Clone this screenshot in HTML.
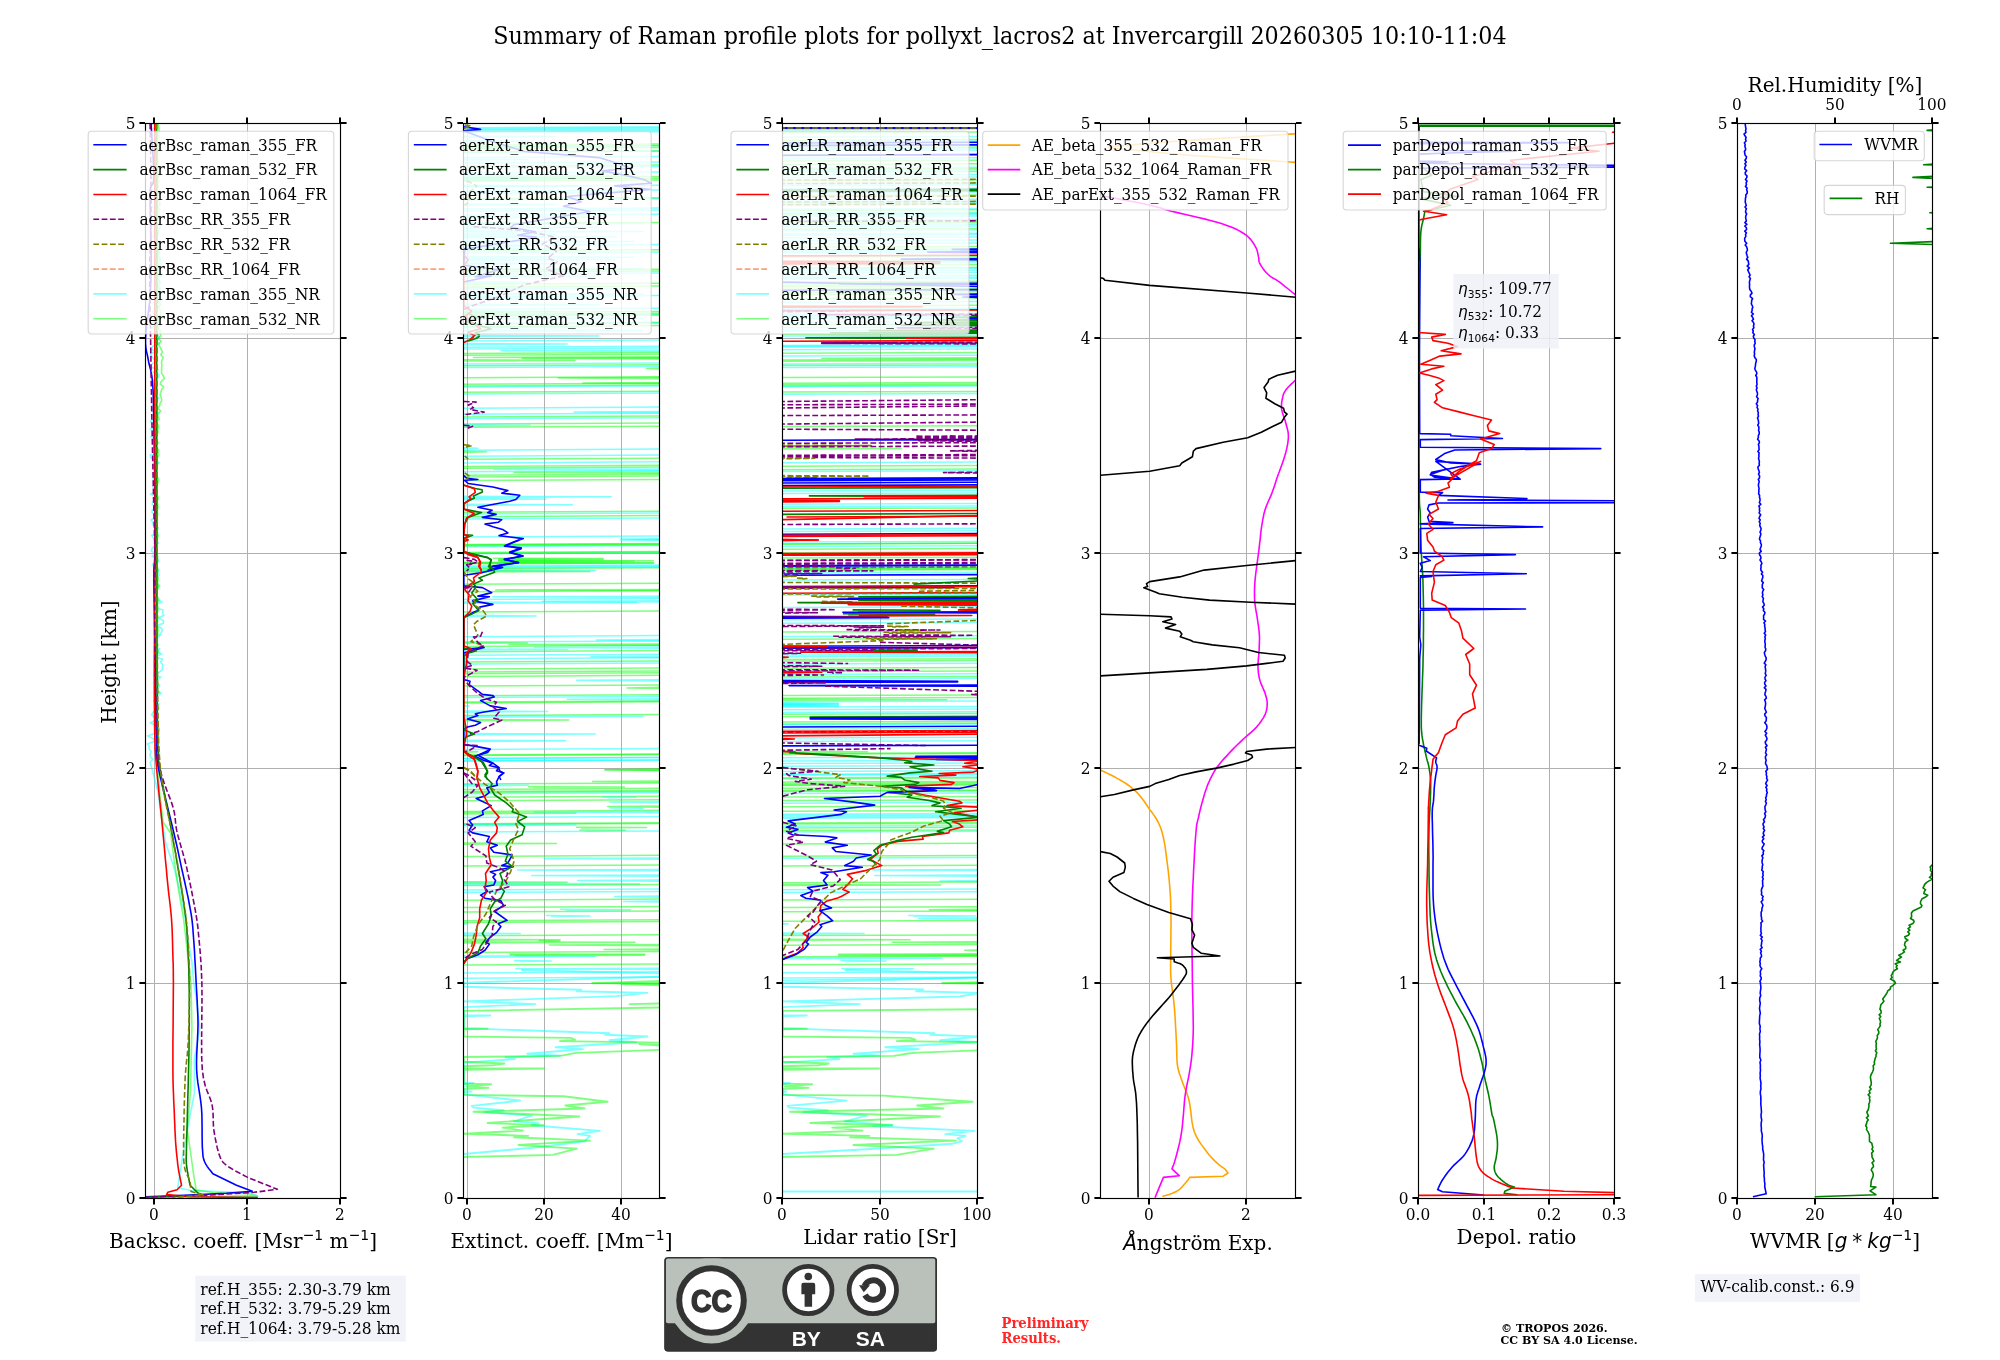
<!DOCTYPE html>
<html><head><meta charset="utf-8"><title>Raman profile summary</title><style>html,body{margin:0;padding:0;background:#fff}svg{display:block;will-change:transform}</style></head><body>
<svg width="2000" height="1360" viewBox="0 0 2000 1360" font-family="DejaVu Serif, Liberation Serif, serif" font-size="15.34px" fill="#000">
<rect width="2000" height="1360" fill="#fff"/>
<defs>
<clipPath id="c0"><rect x="145.5" y="123.5" width="195.0" height="1075.0"/></clipPath>
<clipPath id="c1"><rect x="463.5" y="123.5" width="196.0" height="1075.0"/></clipPath>
<clipPath id="c2"><rect x="782.5" y="123.5" width="195.0" height="1075.0"/></clipPath>
<clipPath id="c3"><rect x="1100.5" y="123.5" width="195.0" height="1075.0"/></clipPath>
<clipPath id="c4"><rect x="1418.5" y="123.5" width="196.0" height="1075.0"/></clipPath>
<clipPath id="c5"><rect x="1737.5" y="123.5" width="195.0" height="1075.0"/></clipPath>
</defs>
<path d="M154.5 123.5V1198.5 M247.5 123.5V1198.5 M145.5 983.5H340.5 M145.5 768.5H340.5 M145.5 553.5H340.5 M145.5 338.5H340.5" stroke="#b0b0b0" stroke-width="1" fill="none"/>
<g clip-path="url(#c0)">
<polyline points="152.4,123.5 155.1,126.1 153.5,128.7 155.6,131.3 155.7,133.9 150.5,136.5 149.9,139.1 157.5,141.7 152.1,144.3 151.8,147.0 158.8,149.6 153.9,152.2 157.2,154.8 153.8,157.4 155.3,160.0 150.7,162.6 155.1,165.2 157.2,167.8 154.0,170.4 156.0,173.0 155.3,175.6 149.6,178.2 155.9,180.8 154.3,183.4 151.6,186.0 149.0,188.7 156.7,191.3 153.0,193.9 155.2,196.5 156.7,199.1 155.1,201.7 157.0,204.3 152.0,206.9 155.7,209.5 152.6,212.2 157.4,214.9 157.0,217.6 150.0,220.2 150.5,222.9 151.5,225.6 158.6,228.3 153.9,231.0 155.8,233.7 153.0,236.4 155.1,239.1 154.2,241.8 154.1,244.4 156.4,247.1 156.6,249.8 159.8,252.5 157.9,255.2 160.4,257.9 159.9,260.6 161.4,263.2 158.6,265.9 154.1,268.6 160.7,271.3 161.9,274.0 161.2,276.7 158.0,279.4 159.2,282.1 154.4,284.8 160.1,287.4 157.6,290.1 154.8,292.8 152.6,295.5 159.8,298.2 161.0,300.9 152.5,303.6 159.0,306.2 155.2,308.9 152.7,311.6 153.9,314.3 158.2,317.0 159.1,319.7 151.2,322.4 156.4,325.1 151.0,327.8 157.2,330.4 153.4,333.1 158.4,335.8 159.2,338.5 154.8,341.1 159.4,343.7 153.0,346.3 150.9,348.9 155.7,351.5 150.4,354.0 152.0,356.6 153.9,359.2 155.8,361.8 151.6,364.4 150.5,367.0 158.2,369.6 153.1,372.2 159.0,374.8 158.5,377.4 153.7,379.9 154.4,382.5 155.0,385.1 156.1,387.7 155.7,390.3 155.3,392.9 155.9,395.5 158.9,398.1 154.9,400.7 154.1,403.3 156.8,405.8 152.3,408.4 152.9,411.0 159.2,413.6 155.0,416.2 155.2,418.8 150.2,421.4 154.0,424.0 155.5,426.6 150.3,429.2 155.9,431.8 156.0,434.3 150.7,436.9 156.0,439.5 154.5,442.1 156.5,444.7 153.4,447.3 156.7,449.9 157.0,452.5 150.3,455.1 150.7,457.7 156.4,460.2 159.1,462.8 152.5,465.4 154.4,468.0 155.6,470.6 153.1,473.2 153.5,475.8 153.0,478.4 153.6,481.0 155.7,483.6 152.9,486.2 153.6,488.7 157.3,491.3 150.4,493.9 155.4,496.5 157.0,499.1 153.0,501.7 152.2,504.3 157.6,506.9 152.4,509.5 151.9,512.1 154.2,514.6 156.6,517.2 151.1,519.8 153.1,522.4 153.2,525.0 157.9,527.6 154.2,530.2 158.1,532.8 151.7,535.4 153.3,538.0 156.2,540.5 158.4,543.1 154.3,545.7 152.2,548.3 151.3,550.9 155.1,553.5 152.1,556.2 158.0,558.9 158.5,561.6 152.6,564.2 153.7,566.9 158.8,569.6 157.5,572.3 159.2,575.0 155.1,577.7 153.3,580.4 155.0,583.1 159.8,585.8 155.2,588.4 156.1,591.1 156.9,593.8 157.1,596.5 157.2,599.2 162.2,601.9 155.3,604.6 154.1,607.2 163.0,609.9 162.6,612.6 163.8,615.3 158.8,618.0 163.6,620.6 163.3,623.2 156.7,625.7 161.6,628.3 162.4,630.9 160.7,633.5 159.3,636.1 157.2,638.6 157.6,641.2 156.5,643.8 155.0,646.4 159.8,649.0 157.0,651.5 161.8,654.1 154.6,656.7 162.6,659.3 160.6,661.9 162.7,664.4 162.4,667.0 162.4,669.6 159.4,672.2 154.1,674.8 160.9,677.3 155.5,679.9 156.6,682.5 159.7,685.2 158.0,687.9 156.7,690.6 161.2,693.2 157.8,695.9 154.9,698.6 153.8,701.3 159.1,704.0 155.2,706.7 157.6,709.4 153.3,712.1 151.5,714.8 154.3,717.4 156.6,720.1 150.2,722.8 155.6,725.5 156.6,728.1 155.4,730.7 155.3,733.3 147.6,735.9 153.1,738.6 155.1,741.2 147.4,743.8 149.2,746.4 149.0,749.0 151.2,751.6 150.0,754.2 150.3,756.8 152.9,759.4 150.1,762.0 157.6,790.0 162.2,822.2 165.9,843.8 173.4,865.2 178.9,886.8 185.4,919.0 188.2,940.5 191.9,962.0 193.8,983.5 196.6,1000.7 199.7,1028.7 194.4,1058.8 194.4,1093.2 187.3,1129.7 181.2,1165.2 177.7,1187.8 191.0,1190.5 250.4,1192.9 257.9,1196.3 145.5,1197.4" fill="none" stroke="#00ffff" stroke-width="1.6" stroke-linejoin="round" stroke-opacity="0.5"/>
<polyline points="158.0,123.5 158.5,126.1 158.7,128.7 159.3,131.4 158.6,134.0 159.3,136.6 156.0,139.2 157.6,141.9 159.4,144.5 158.3,147.1 159.3,149.7 156.4,152.3 157.7,155.0 156.9,157.6 158.1,160.2 158.2,162.8 156.1,165.5 156.9,168.1 157.2,170.7 159.5,173.3 159.0,175.9 156.8,178.6 159.2,181.2 156.8,183.8 158.6,186.4 156.8,189.0 156.3,191.7 159.6,194.3 157.1,196.9 157.2,199.5 160.0,202.2 159.7,204.8 157.5,207.4 160.0,210.0 158.5,212.6 159.0,215.3 157.3,217.9 160.0,220.5 159.1,223.1 160.2,225.8 159.9,228.4 157.8,231.0 158.0,233.6 157.3,236.2 157.3,238.9 157.0,241.5 157.9,244.1 159.0,246.7 156.8,249.4 159.3,252.0 158.1,254.6 158.0,257.2 159.9,259.8 158.7,262.5 158.1,265.1 158.7,267.7 159.6,270.3 157.2,273.0 160.6,275.6 157.1,278.2 159.9,280.8 160.2,283.4 157.2,286.1 160.1,288.7 158.5,291.3 159.3,293.9 157.2,296.5 157.4,299.2 157.9,301.8 160.8,304.4 158.0,307.0 160.1,309.7 160.8,312.3 160.9,314.9 158.7,317.5 158.7,320.1 159.4,322.8 160.3,325.4 157.9,328.0 160.3,330.6 160.5,333.3 160.7,335.9 157.7,338.5 161.4,341.2 158.5,343.9 159.8,346.6 161.1,349.2 162.5,351.9 160.7,354.6 163.2,357.3 162.1,360.0 161.5,362.7 161.8,365.4 161.6,368.1 161.6,370.8 161.6,373.4 163.4,376.1 164.3,378.8 161.0,381.5 160.3,384.2 163.6,386.9 161.6,389.6 160.9,392.2 160.1,394.9 161.2,397.6 161.8,400.3 160.2,403.0 159.7,405.7 157.9,408.4 160.7,411.1 157.0,413.7 158.3,416.4 159.2,419.1 156.1,421.8 158.0,424.5 158.8,427.1 157.6,429.7 158.1,432.2 155.6,434.8 156.8,437.4 155.7,440.0 158.3,442.6 156.3,445.1 156.8,447.7 158.9,450.3 158.3,452.9 158.8,455.5 156.8,458.0 156.9,460.6 157.8,463.2 156.9,465.8 156.2,468.4 156.6,470.9 155.6,473.5 156.5,476.1 158.7,478.7 158.6,481.3 157.4,483.8 156.9,486.4 156.3,489.0 155.3,491.6 156.0,494.2 157.9,496.7 158.2,499.3 156.3,501.9 157.9,504.5 157.8,507.1 157.5,509.6 157.4,512.2 157.7,514.8 156.3,517.4 157.5,520.0 155.9,522.5 156.7,525.1 157.7,527.7 157.4,530.3 156.0,532.9 158.4,535.4 157.3,538.0 157.0,540.6 154.9,543.2 156.8,545.8 155.7,548.3 157.3,550.9 156.5,553.5 157.8,556.1 157.2,558.7 157.8,561.4 156.2,564.0 157.3,566.6 157.7,569.2 158.0,571.9 156.3,574.5 158.1,577.1 158.2,579.7 157.6,582.3 158.7,585.0 158.6,587.6 157.0,590.2 157.1,592.8 155.8,595.5 158.3,598.1 158.7,600.7 157.0,603.3 157.8,605.9 157.9,608.6 158.0,611.2 155.9,613.8 158.2,616.4 157.5,619.0 157.8,621.7 157.0,624.3 157.7,626.9 158.3,629.5 157.8,632.2 158.2,634.8 155.6,637.4 156.1,640.0 157.2,642.6 158.0,645.3 156.4,647.9 158.2,650.5 158.0,653.1 155.8,655.8 157.4,658.4 156.6,661.0 155.9,663.6 156.2,666.2 156.9,668.8 156.4,671.5 156.4,674.1 155.8,676.7 157.4,679.3 157.1,681.9 158.0,684.5 157.9,687.1 156.6,689.8 159.1,692.4 155.7,695.0 157.2,697.6 156.7,700.2 157.2,702.8 156.1,705.5 158.8,708.1 157.1,710.7 155.8,713.3 158.0,715.9 156.1,718.5 157.7,721.1 157.0,723.8 157.9,726.4 159.3,729.0 158.8,731.6 157.3,734.2 158.7,736.8 158.1,739.4 157.1,742.1 156.2,744.7 157.9,747.3 157.8,749.9 159.3,752.5 159.3,755.1 157.6,757.8 159.4,790.0 163.1,822.2 170.6,833.0 173.4,854.5 178.0,886.8 183.6,919.0 187.3,951.2 191.0,983.5 191.9,1026.5 190.5,1091.0 187.3,1129.7 191.0,1155.5 193.5,1173.8 196.2,1189.9 212.1,1192.5 247.6,1193.8 256.9,1195.9 145.5,1197.6" fill="none" stroke="#00ff00" stroke-width="1.6" stroke-linejoin="round" stroke-opacity="0.5"/>
<polyline points="155.7,123.5 155.9,360.0" fill="none" stroke="#ffa07a" stroke-width="1.6" stroke-linejoin="round" stroke-dasharray="5.8,2.5"/>
<polyline points="151.1,123.5 151.4,129.8 152.0,138.9 152.7,149.4 153.3,160.2 153.7,169.9 153.9,177.2 153.6,181.5 152.9,183.5 152.1,184.4 151.3,185.4 150.6,187.6 150.1,192.3 150.1,199.9 150.2,209.7 150.4,220.7 150.7,232.0 151.0,242.9 151.1,252.5 151.1,260.7 151.0,268.1 151.0,275.1 150.8,281.8 150.5,288.5 150.1,295.5 149.5,302.9 148.6,310.6 147.6,318.3 146.6,325.8 145.9,332.6 145.5,338.5 145.5,343.3 145.8,347.3 146.3,350.6 147.0,353.6 147.7,356.7 148.3,360.0 148.9,363.3 149.7,366.4 150.5,369.4 151.2,372.7 151.9,376.7 152.5,381.5 152.9,387.2 153.2,393.4 153.4,400.3 153.5,407.8 153.7,415.8 153.9,424.5 154.0,434.0 154.2,444.4 154.4,455.4 154.6,466.7 154.7,478.0 154.8,489.0 154.9,500.2 154.9,512.1 154.9,523.9 154.9,535.2 154.9,545.2 154.8,553.5 154.7,559.1 154.5,562.3 154.3,564.2 154.1,566.2 153.9,569.4 153.9,575.0 153.9,583.3 154.0,593.3 154.2,604.6 154.4,616.4 154.6,628.3 154.8,639.5 154.9,650.5 155.1,661.8 155.3,673.1 155.4,684.1 155.6,694.5 155.7,704.0 155.9,712.7 156.0,720.7 156.1,728.2 156.3,735.1 156.4,741.3 156.6,747.0 156.7,751.4 156.7,754.2 156.7,756.5 156.9,759.1 157.4,762.8 158.5,768.5 160.3,776.8 162.7,787.3 165.6,798.8 168.4,810.5 171.1,821.5 173.4,830.9 175.1,838.2 176.5,844.3 177.7,849.7 178.8,854.9 179.9,860.2 181.2,866.3 182.8,873.4 184.5,881.0 186.2,888.9 187.9,896.7 189.3,904.0 190.5,910.4 191.4,915.7 192.0,919.9 192.4,923.7 192.8,927.5 193.1,931.9 193.5,937.3 194.0,943.9 194.5,951.4 194.9,959.5 195.4,967.8 195.8,975.9 196.2,983.5 196.6,990.6 197.0,997.4 197.3,1004.0 197.6,1010.6 197.9,1017.4 198.0,1024.3 197.8,1031.7 197.5,1039.3 197.1,1047.1 196.7,1054.8 196.5,1062.3 196.6,1069.5 197.1,1076.3 197.9,1082.9 198.9,1089.3 199.9,1095.5 200.8,1101.8 201.5,1108.2 201.9,1114.9 202.0,1122.0 202.1,1129.0 202.1,1135.8 202.2,1141.8 202.3,1146.9 202.6,1150.8 202.8,1153.8 203.0,1156.1 203.4,1158.0 203.9,1159.9 204.7,1162.0 205.8,1164.2 207.3,1166.6 208.9,1168.8 210.6,1170.8 211.9,1172.5 212.9,1173.8 236.5,1185.2 252.3,1191.2 226.3,1193.3 173.4,1195.9 145.5,1196.8" fill="none" stroke="#0000ff" stroke-width="1.6" stroke-linejoin="round"/>
<polyline points="156.6,123.5 156.6,146.9 156.6,179.2 156.6,217.6 156.6,258.9 156.6,300.2 156.6,338.5 156.7,375.3 156.7,413.4 156.7,451.4 156.8,488.2 156.8,522.6 156.8,553.5 156.9,580.7 156.9,605.3 156.9,627.4 157.0,647.5 157.0,665.7 157.1,682.5 157.2,697.5 157.3,710.4 157.5,721.5 157.6,731.1 157.8,739.5 158.0,747.0 158.2,752.6 158.2,755.8 158.3,757.9 158.5,759.9 159.0,763.1 159.9,768.5 161.3,776.8 163.2,787.3 165.4,798.8 167.7,810.5 169.8,821.5 171.5,830.9 172.8,838.2 173.9,844.3 174.9,849.7 175.8,854.9 176.7,860.2 177.7,866.3 178.9,873.4 180.2,881.0 181.5,888.9 182.7,896.7 183.9,904.0 184.8,910.4 185.5,915.7 186.0,919.9 186.4,923.7 186.7,927.5 187.0,931.9 187.3,937.3 187.7,943.7 188.0,950.8 188.4,958.4 188.7,966.5 188.9,974.9 189.1,983.5 189.3,992.6 189.3,1002.2 189.3,1012.1 189.3,1022.2 189.2,1032.0 189.1,1041.5 189.0,1050.6 188.8,1059.5 188.6,1068.2 188.4,1076.9 188.2,1085.5 187.9,1094.2 187.7,1103.4 187.4,1113.1 187.2,1122.7 186.9,1131.9 186.7,1140.1 186.5,1146.9 186.4,1151.9 186.3,1155.5 186.2,1158.1 186.2,1160.2 186.3,1162.4 186.5,1165.2 187.0,1168.6 187.6,1172.5 188.3,1176.3 189.0,1179.9 189.6,1183.0 190.1,1185.2 198.0,1193.1 203.1,1195.3 145.5,1197.2" fill="none" stroke="#008000" stroke-width="1.6" stroke-linejoin="round"/>
<polyline points="154.8,123.5 154.8,146.9 154.8,179.2 154.8,217.6 154.8,258.9 154.8,300.2 154.8,338.5 154.8,375.6 154.9,414.1 155.0,452.7 155.0,489.8 155.1,523.9 155.1,553.5 155.0,578.0 154.8,598.5 154.7,616.0 154.5,631.5 154.4,646.2 154.3,661.0 154.3,675.9 154.3,690.1 154.4,703.3 154.5,715.5 154.6,726.6 154.8,736.2 155.0,743.8 155.1,749.1 155.4,753.2 155.7,757.1 156.1,761.9 156.6,768.5 157.4,777.2 158.4,787.4 159.5,798.3 160.7,809.6 161.8,820.6 162.8,830.9 163.7,840.5 164.6,850.1 165.4,859.5 166.3,868.4 167.0,876.9 167.8,884.6 168.5,891.4 169.2,897.4 169.9,902.9 170.5,908.1 171.0,913.4 171.5,919.0 171.9,925.1 172.2,931.3 172.4,937.7 172.6,943.9 172.7,949.9 172.9,955.6 173.0,960.0 173.2,963.4 173.2,966.4 173.3,970.2 173.3,975.6 173.4,983.5 173.3,995.0 173.2,1009.5 173.1,1025.6 172.9,1041.9 172.9,1057.0 172.9,1069.5 173.0,1079.3 173.2,1087.3 173.5,1094.2 173.7,1100.4 174.0,1106.3 174.3,1112.5 174.5,1118.9 174.8,1125.0 175.0,1130.9 175.3,1136.5 175.6,1141.9 176.0,1146.9 176.4,1151.7 176.9,1156.5 177.4,1160.9 177.8,1164.8 178.3,1168.1 178.6,1170.5 181.5,1185.2 177.1,1189.7 167.8,1192.3 166.6,1194.6 191.0,1196.8 257.9,1197.6" fill="none" stroke="#ff0000" stroke-width="1.6" stroke-linejoin="round"/>
<polyline points="150.1,123.5 150.3,133.1 150.5,146.6 150.7,162.5 150.9,179.2 151.0,195.4 151.1,209.5 150.9,221.5 150.7,232.6 150.4,243.1 150.1,253.3 149.8,263.5 149.7,274.0 149.7,284.5 149.8,294.7 150.0,304.9 150.2,315.4 150.4,326.5 150.6,338.5 150.8,351.6 151.0,365.6 151.2,380.2 151.5,395.0 151.7,409.9 152.0,424.5 152.3,439.3 152.6,454.8 153.0,470.2 153.3,485.0 153.6,498.7 153.9,510.5 154.1,519.7 154.3,526.4 154.4,532.0 154.6,537.6 154.7,544.3 154.8,553.5 154.8,565.3 154.8,579.0 154.7,593.8 154.7,609.2 154.7,624.7 154.8,639.5 155.0,654.3 155.2,669.8 155.5,685.2 155.9,700.0 156.2,713.7 156.6,725.5 157.0,735.2 157.2,743.1 157.5,749.9 158.0,756.0 158.7,762.0 159.9,768.5 161.7,775.5 164.0,782.6 166.6,789.7 169.2,796.4 171.6,802.7 173.4,808.3 174.4,812.9 175.0,816.6 175.3,819.8 175.6,823.0 176.0,826.5 176.8,830.9 178.0,835.9 179.6,841.4 181.2,847.2 183.0,853.4 184.7,859.8 186.4,866.3 187.9,873.4 189.6,881.0 191.2,888.9 192.7,896.7 194.1,904.0 195.3,910.4 196.2,915.7 196.9,919.9 197.4,923.7 197.9,927.5 198.3,931.9 198.8,937.3 199.4,943.4 200.0,949.8 200.5,956.7 201.1,964.4 201.5,973.3 201.9,983.5 202.0,996.1 201.9,1011.1 201.7,1027.2 201.6,1043.1 201.7,1057.6 202.3,1069.5 203.5,1078.5 205.2,1085.5 207.1,1091.1 209.1,1095.8 210.8,1100.3 212.1,1105.0 212.8,1109.7 213.1,1114.0 213.2,1118.0 213.3,1121.9 213.4,1125.7 213.8,1129.7 214.5,1134.0 215.3,1138.5 216.2,1142.9 217.1,1147.2 218.1,1151.1 219.1,1154.4 220.1,1157.0 220.9,1159.0 221.7,1160.6 222.8,1162.0 224.3,1163.5 226.3,1165.2 229.3,1167.3 233.1,1169.6 237.4,1172.0 241.6,1174.2 245.2,1176.1 247.6,1177.4 277.4,1189.3 254.1,1192.3 208.6,1195.1 145.5,1197.2" fill="none" stroke="#800080" stroke-width="1.6" stroke-linejoin="round" stroke-dasharray="5.8,2.5"/>
<polyline points="156.6,123.5 156.7,146.9 156.8,179.2 156.9,217.6 157.0,258.9 157.1,300.2 157.1,338.5 157.1,375.3 157.1,413.4 157.1,451.4 157.1,488.2 157.1,522.6 157.1,553.5 157.1,580.5 157.1,604.5 157.2,626.1 157.2,645.9 157.4,664.5 157.6,682.5 157.8,699.6 158.0,715.2 158.3,729.7 158.7,743.2 159.4,756.0 160.4,768.5 161.8,780.6 163.6,792.0 165.7,802.8 167.8,812.9 169.8,822.3 171.5,830.9 172.8,838.2 174.0,844.3 175.0,849.7 176.0,854.9 176.9,860.2 178.0,866.3 179.2,873.4 180.4,881.0 181.7,888.9 182.9,896.7 184.0,904.0 185.0,910.4 185.7,915.7 186.2,919.9 186.7,923.7 187.0,927.5 187.4,931.9 187.8,937.3 188.2,943.7 188.6,950.8 188.9,958.4 189.3,966.5 189.5,974.9 189.6,983.5 189.6,992.8 189.4,1002.8 189.2,1013.2 188.9,1023.4 188.6,1033.0 188.2,1041.5 187.8,1048.6 187.3,1054.4 186.7,1059.6 186.2,1064.8 185.7,1070.4 185.2,1077.0 184.9,1085.0 184.6,1093.9 184.3,1103.4 184.1,1112.8 184.0,1121.7 183.8,1129.7 183.7,1136.8 183.6,1143.5 183.6,1149.7 183.6,1155.5 183.8,1160.6 184.2,1165.2 184.9,1169.1 186.0,1172.5 187.2,1175.2 188.4,1177.5 189.4,1179.4 190.1,1180.9 191.0,1191.4 203.1,1195.1 171.5,1197.6" fill="none" stroke="#808000" stroke-width="1.6" stroke-linejoin="round" stroke-dasharray="5.8,2.5"/>
</g>
<rect x="145.5" y="123.5" width="195.0" height="1075.0" fill="none" stroke="#000" stroke-width="1.15"/>
<text x="135.5" y="1203.9" transform="matrix(1 0 0 1.050 0 -60.20)" text-anchor="end">0</text>
<text x="135.5" y="988.9" transform="matrix(1 0 0 1.050 0 -49.45)" text-anchor="end">1</text>
<text x="135.5" y="773.9" transform="matrix(1 0 0 1.050 0 -38.70)" text-anchor="end">2</text>
<text x="135.5" y="558.9" transform="matrix(1 0 0 1.050 0 -27.95)" text-anchor="end">3</text>
<text x="135.5" y="343.9" transform="matrix(1 0 0 1.050 0 -17.20)" text-anchor="end">4</text>
<text x="135.5" y="128.9" transform="matrix(1 0 0 1.050 0 -6.45)" text-anchor="end">5</text>
<text x="154.0" y="1220" transform="matrix(1 0 0 1.050 0 -61.00)" text-anchor="middle">0</text>
<text x="247.0" y="1220" transform="matrix(1 0 0 1.050 0 -61.00)" text-anchor="middle">1</text>
<text x="340.0" y="1220" transform="matrix(1 0 0 1.050 0 -61.00)" text-anchor="middle">2</text>
<path d="M139.4 1198.0h5.6 M341.0 1198.0h5.6 M139.4 983.0h5.6 M341.0 983.0h5.6 M139.4 768.0h5.6 M341.0 768.0h5.6 M139.4 553.0h5.6 M341.0 553.0h5.6 M139.4 338.0h5.6 M341.0 338.0h5.6 M139.4 123.0h5.6 M341.0 123.0h5.6 M154.0 1199.0v5.6 M154.0 117.4v5.6 M247.0 1199.0v5.6 M247.0 117.4v5.6 M340.0 1199.0v5.6 M340.0 117.4v5.6" stroke="#000" stroke-width="2.0" fill="none"/>
<path d="M467.5 123.5V1198.5 M544.5 123.5V1198.5 M621.5 123.5V1198.5 M463.5 983.5H659.5 M463.5 768.5H659.5 M463.5 553.5H659.5 M463.5 338.5H659.5" stroke="#b0b0b0" stroke-width="1" fill="none"/>
<g clip-path="url(#c1)">
<polyline points="460.3,127.8 663.2,126.8" fill="none" stroke="#00ffff" stroke-width="1.5" stroke-linejoin="round" stroke-opacity="0.5"/>
<polyline points="460.3,128.9 663.2,127.8" fill="none" stroke="#00ffff" stroke-width="1.5" stroke-linejoin="round" stroke-opacity="0.5"/>
<polyline points="460.3,129.9 663.2,128.9" fill="none" stroke="#00ffff" stroke-width="1.5" stroke-linejoin="round" stroke-opacity="0.5"/>
<polyline points="460.3,131.4 663.2,130.3" fill="none" stroke="#00ffff" stroke-width="1.5" stroke-linejoin="round" stroke-opacity="0.5"/>
<polyline points="460.3,132.8 663.2,131.7" fill="none" stroke="#00ffff" stroke-width="1.5" stroke-linejoin="round" stroke-opacity="0.5"/>
<polyline points="460.3,135.9 554.7,136.5 460.3,137.2" fill="none" stroke="#00ffff" stroke-width="1.5" stroke-linejoin="round" stroke-opacity="0.5"/>
<polyline points="460.3,140.5 528.2,141.1 460.3,141.8" fill="none" stroke="#00ffff" stroke-width="1.5" stroke-linejoin="round" stroke-opacity="0.5"/>
<polyline points="460.3,146.9 663.2,145.8" fill="none" stroke="#00ffff" stroke-width="1.5" stroke-linejoin="round" stroke-opacity="0.5"/>
<polyline points="460.3,152.2 663.2,151.1" fill="none" stroke="#00ffff" stroke-width="1.5" stroke-linejoin="round" stroke-opacity="0.5"/>
<polyline points="460.3,157.5 663.2,156.4" fill="none" stroke="#00ffff" stroke-width="1.5" stroke-linejoin="round" stroke-opacity="0.5"/>
<polyline points="460.3,158.9 528.2,159.4 460.3,160.1" fill="none" stroke="#00ffff" stroke-width="1.5" stroke-linejoin="round" stroke-opacity="0.5"/>
<polyline points="460.3,163.1 663.2,162.1" fill="none" stroke="#00ffff" stroke-width="1.5" stroke-linejoin="round" stroke-opacity="0.5"/>
<polyline points="460.3,167.7 663.2,166.6" fill="none" stroke="#00ffff" stroke-width="1.5" stroke-linejoin="round" stroke-opacity="0.5"/>
<polyline points="460.3,173.0 663.2,171.9" fill="none" stroke="#00ffff" stroke-width="1.5" stroke-linejoin="round" stroke-opacity="0.5"/>
<polyline points="460.3,175.1 616.5,175.6 460.3,176.3" fill="none" stroke="#00ffff" stroke-width="1.5" stroke-linejoin="round" stroke-opacity="0.5"/>
<polyline points="460.3,177.6 598.8,178.1 460.3,178.8" fill="none" stroke="#00ffff" stroke-width="1.5" stroke-linejoin="round" stroke-opacity="0.5"/>
<polyline points="460.3,180.1 528.2,180.6 460.3,181.3" fill="none" stroke="#00ffff" stroke-width="1.5" stroke-linejoin="round" stroke-opacity="0.5"/>
<polyline points="460.3,185.3 581.2,185.9 460.3,186.6" fill="none" stroke="#00ffff" stroke-width="1.5" stroke-linejoin="round" stroke-opacity="0.5"/>
<polyline points="460.3,191.0 663.2,189.9" fill="none" stroke="#00ffff" stroke-width="1.5" stroke-linejoin="round" stroke-opacity="0.5"/>
<polyline points="460.3,192.4 616.5,192.9 460.3,193.6" fill="none" stroke="#00ffff" stroke-width="1.5" stroke-linejoin="round" stroke-opacity="0.5"/>
<polyline points="460.3,199.8 663.2,198.8" fill="none" stroke="#00ffff" stroke-width="1.5" stroke-linejoin="round" stroke-opacity="0.5"/>
<polyline points="460.3,204.1 554.7,204.6 460.3,205.3" fill="none" stroke="#00ffff" stroke-width="1.5" stroke-linejoin="round" stroke-opacity="0.5"/>
<polyline points="460.3,209.0 663.2,207.9" fill="none" stroke="#00ffff" stroke-width="1.5" stroke-linejoin="round" stroke-opacity="0.5"/>
<polyline points="460.3,215.3 663.2,214.3" fill="none" stroke="#00ffff" stroke-width="1.5" stroke-linejoin="round" stroke-opacity="0.5"/>
<polyline points="460.3,216.8 598.8,217.3 460.3,218.0" fill="none" stroke="#00ffff" stroke-width="1.5" stroke-linejoin="round" stroke-opacity="0.5"/>
<polyline points="460.3,223.1 642.9,223.6 460.3,224.3" fill="none" stroke="#00ffff" stroke-width="1.5" stroke-linejoin="round" stroke-opacity="0.5"/>
<polyline points="460.3,227.0 598.8,227.5 460.3,228.2" fill="none" stroke="#00ffff" stroke-width="1.5" stroke-linejoin="round" stroke-opacity="0.5"/>
<polyline points="460.3,230.9 642.9,231.4 460.3,232.1" fill="none" stroke="#00ffff" stroke-width="1.5" stroke-linejoin="round" stroke-opacity="0.5"/>
<polyline points="460.3,234.1 554.7,234.6 460.3,235.3" fill="none" stroke="#00ffff" stroke-width="1.5" stroke-linejoin="round" stroke-opacity="0.5"/>
<polyline points="460.3,236.5 616.5,237.1 460.3,237.8" fill="none" stroke="#00ffff" stroke-width="1.5" stroke-linejoin="round" stroke-opacity="0.5"/>
<polyline points="460.3,241.1 634.1,241.6 460.3,242.3" fill="none" stroke="#00ffff" stroke-width="1.5" stroke-linejoin="round" stroke-opacity="0.5"/>
<polyline points="460.3,245.7 528.2,246.2 460.3,246.9" fill="none" stroke="#00ffff" stroke-width="1.5" stroke-linejoin="round" stroke-opacity="0.5"/>
<polyline points="460.3,248.2 554.7,248.7 460.3,249.4" fill="none" stroke="#00ffff" stroke-width="1.5" stroke-linejoin="round" stroke-opacity="0.5"/>
<polyline points="460.3,253.1 663.2,252.1" fill="none" stroke="#00ffff" stroke-width="1.5" stroke-linejoin="round" stroke-opacity="0.5"/>
<polyline points="460.3,256.6 634.1,257.2 460.3,257.9" fill="none" stroke="#00ffff" stroke-width="1.5" stroke-linejoin="round" stroke-opacity="0.5"/>
<polyline points="460.3,259.1 616.5,259.6 460.3,260.3" fill="none" stroke="#00ffff" stroke-width="1.5" stroke-linejoin="round" stroke-opacity="0.5"/>
<polyline points="460.3,263.0 581.2,263.5 460.3,264.2" fill="none" stroke="#00ffff" stroke-width="1.5" stroke-linejoin="round" stroke-opacity="0.5"/>
<polyline points="460.3,268.3 642.9,268.8 460.3,269.5" fill="none" stroke="#00ffff" stroke-width="1.5" stroke-linejoin="round" stroke-opacity="0.5"/>
<polyline points="460.3,273.9 663.2,272.9" fill="none" stroke="#00ffff" stroke-width="1.5" stroke-linejoin="round" stroke-opacity="0.5"/>
<polyline points="460.3,275.3 598.8,275.9 460.3,276.6" fill="none" stroke="#00ffff" stroke-width="1.5" stroke-linejoin="round" stroke-opacity="0.5"/>
<polyline points="460.3,281.7 528.2,282.2 460.3,282.9" fill="none" stroke="#00ffff" stroke-width="1.5" stroke-linejoin="round" stroke-opacity="0.5"/>
<polyline points="460.3,288.0 634.1,288.6 460.3,289.3" fill="none" stroke="#00ffff" stroke-width="1.5" stroke-linejoin="round" stroke-opacity="0.5"/>
<polyline points="460.3,293.3 642.9,293.9 460.3,294.6" fill="none" stroke="#00ffff" stroke-width="1.5" stroke-linejoin="round" stroke-opacity="0.5"/>
<polyline points="460.3,297.9 598.8,298.5 460.3,299.2" fill="none" stroke="#00ffff" stroke-width="1.5" stroke-linejoin="round" stroke-opacity="0.5"/>
<polyline points="460.3,304.3 598.8,304.8 460.3,305.5" fill="none" stroke="#00ffff" stroke-width="1.5" stroke-linejoin="round" stroke-opacity="0.5"/>
<polyline points="460.3,309.2 663.2,308.2" fill="none" stroke="#00ffff" stroke-width="1.5" stroke-linejoin="round" stroke-opacity="0.5"/>
<polyline points="460.3,310.6 554.7,311.2 460.3,311.9" fill="none" stroke="#00ffff" stroke-width="1.5" stroke-linejoin="round" stroke-opacity="0.5"/>
<polyline points="460.3,315.6 663.2,314.5" fill="none" stroke="#00ffff" stroke-width="1.5" stroke-linejoin="round" stroke-opacity="0.5"/>
<polyline points="460.3,317.7 642.9,318.2 460.3,318.9" fill="none" stroke="#00ffff" stroke-width="1.5" stroke-linejoin="round" stroke-opacity="0.5"/>
<polyline points="460.3,323.3 663.2,322.3" fill="none" stroke="#00ffff" stroke-width="1.5" stroke-linejoin="round" stroke-opacity="0.5"/>
<polyline points="460.3,326.9 581.2,327.4 460.3,328.1" fill="none" stroke="#00ffff" stroke-width="1.5" stroke-linejoin="round" stroke-opacity="0.5"/>
<polyline points="460.3,330.0 642.9,330.6 460.3,331.3" fill="none" stroke="#00ffff" stroke-width="1.5" stroke-linejoin="round" stroke-opacity="0.5"/>
<polyline points="460.3,335.3 598.8,335.9 460.3,336.6" fill="none" stroke="#00ffff" stroke-width="1.5" stroke-linejoin="round" stroke-opacity="0.5"/>
<polyline points="460.3,144.9 663.2,143.9" fill="none" stroke="#00ff00" stroke-width="1.5" stroke-linejoin="round" stroke-opacity="0.5"/>
<polyline points="460.3,146.7 663.2,145.6" fill="none" stroke="#00ff00" stroke-width="1.5" stroke-linejoin="round" stroke-opacity="0.5"/>
<polyline points="460.3,148.5 663.2,147.4" fill="none" stroke="#00ff00" stroke-width="1.5" stroke-linejoin="round" stroke-opacity="0.5"/>
<polyline points="460.3,152.0 663.2,150.9" fill="none" stroke="#00ff00" stroke-width="1.5" stroke-linejoin="round" stroke-opacity="0.5"/>
<polyline points="460.3,166.1 663.2,165.1" fill="none" stroke="#00ff00" stroke-width="1.5" stroke-linejoin="round" stroke-opacity="0.5"/>
<polyline points="460.3,177.6 663.2,176.5" fill="none" stroke="#00ff00" stroke-width="1.5" stroke-linejoin="round" stroke-opacity="0.5"/>
<polyline points="460.3,179.3 663.2,178.3" fill="none" stroke="#00ff00" stroke-width="1.5" stroke-linejoin="round" stroke-opacity="0.5"/>
<polyline points="460.3,181.1 663.2,180.1" fill="none" stroke="#00ff00" stroke-width="1.5" stroke-linejoin="round" stroke-opacity="0.5"/>
<polyline points="460.3,198.8 663.2,197.7" fill="none" stroke="#00ff00" stroke-width="1.5" stroke-linejoin="round" stroke-opacity="0.5"/>
<polyline points="460.3,223.5 663.2,222.4" fill="none" stroke="#00ff00" stroke-width="1.5" stroke-linejoin="round" stroke-opacity="0.5"/>
<polyline points="460.3,250.8 663.2,249.8" fill="none" stroke="#00ff00" stroke-width="1.5" stroke-linejoin="round" stroke-opacity="0.5"/>
<polyline points="460.3,270.2 663.2,269.2" fill="none" stroke="#00ff00" stroke-width="1.5" stroke-linejoin="round" stroke-opacity="0.5"/>
<polyline points="460.3,272.0 663.2,270.9" fill="none" stroke="#00ff00" stroke-width="1.5" stroke-linejoin="round" stroke-opacity="0.5"/>
<polyline points="460.3,284.3 663.2,283.3" fill="none" stroke="#00ff00" stroke-width="1.5" stroke-linejoin="round" stroke-opacity="0.5"/>
<polyline points="460.3,287.0 663.2,285.9" fill="none" stroke="#00ff00" stroke-width="1.5" stroke-linejoin="round" stroke-opacity="0.5"/>
<polyline points="460.3,312.6 663.2,311.5" fill="none" stroke="#00ff00" stroke-width="1.5" stroke-linejoin="round" stroke-opacity="0.5"/>
<polyline points="460.3,314.3 663.2,313.3" fill="none" stroke="#00ff00" stroke-width="1.5" stroke-linejoin="round" stroke-opacity="0.5"/>
<polyline points="460.3,316.1 663.2,315.0" fill="none" stroke="#00ff00" stroke-width="1.5" stroke-linejoin="round" stroke-opacity="0.5"/>
<polyline points="460.3,324.0 663.2,323.0" fill="none" stroke="#00ff00" stroke-width="1.5" stroke-linejoin="round" stroke-opacity="0.5"/>
<polyline points="460.3,326.7 663.2,325.6" fill="none" stroke="#00ff00" stroke-width="1.5" stroke-linejoin="round" stroke-opacity="0.5"/>
<polyline points="460.3,186.4 663.2,185.3" fill="none" stroke="#00ffff" stroke-width="1.5" stroke-linejoin="round" stroke-opacity="0.5"/>
<polyline points="460.3,211.1 663.2,210.1" fill="none" stroke="#00ffff" stroke-width="1.5" stroke-linejoin="round" stroke-opacity="0.5"/>
<polyline points="460.3,245.5 663.2,244.5" fill="none" stroke="#00ffff" stroke-width="1.5" stroke-linejoin="round" stroke-opacity="0.5"/>
<polyline points="460.3,296.7 663.2,295.6" fill="none" stroke="#00ffff" stroke-width="1.5" stroke-linejoin="round" stroke-opacity="0.5"/>
<polyline points="460.3,341.1 663.2,340.1" fill="none" stroke="#00ffff" stroke-width="1.5" stroke-linejoin="round" stroke-opacity="0.5"/>
<polyline points="460.3,343.6 567.1,344.1 460.3,344.8" fill="none" stroke="#00ffff" stroke-width="1.5" stroke-linejoin="round" stroke-opacity="0.5"/>
<polyline points="460.3,347.3 663.2,346.2" fill="none" stroke="#00ffff" stroke-width="1.5" stroke-linejoin="round" stroke-opacity="0.5"/>
<polyline points="460.3,349.1 663.2,348.0" fill="none" stroke="#00ffff" stroke-width="1.5" stroke-linejoin="round" stroke-opacity="0.5"/>
<polyline points="663.2,350.3 500.9,350.8 663.2,351.5" fill="none" stroke="#00ffff" stroke-width="1.5" stroke-linejoin="round" stroke-opacity="0.5"/>
<polyline points="460.3,353.5 663.2,352.4" fill="none" stroke="#00ff00" stroke-width="1.5" stroke-linejoin="round" stroke-opacity="0.5"/>
<polyline points="460.3,355.2 663.2,354.2" fill="none" stroke="#00ff00" stroke-width="1.5" stroke-linejoin="round" stroke-opacity="0.5"/>
<polyline points="663.2,356.8 473.5,357.4 663.2,358.1" fill="none" stroke="#00ff00" stroke-width="1.5" stroke-linejoin="round" stroke-opacity="0.5"/>
<polyline points="663.2,357.7 522.1,358.2 663.2,358.9" fill="none" stroke="#00ff00" stroke-width="1.5" stroke-linejoin="round" stroke-opacity="0.5"/>
<polyline points="460.3,359.8 575.0,360.4 460.3,361.1" fill="none" stroke="#00ff00" stroke-width="1.5" stroke-linejoin="round" stroke-opacity="0.5"/>
<polyline points="460.3,364.1 663.2,363.0" fill="none" stroke="#00ffff" stroke-width="1.5" stroke-linejoin="round" stroke-opacity="0.5"/>
<polyline points="460.3,365.8 663.2,364.8" fill="none" stroke="#00ff00" stroke-width="1.5" stroke-linejoin="round" stroke-opacity="0.5"/>
<polyline points="460.3,367.6 663.2,366.5" fill="none" stroke="#00ffff" stroke-width="1.5" stroke-linejoin="round" stroke-opacity="0.5"/>
<polyline points="663.2,367.9 646.5,368.5 663.2,369.2" fill="none" stroke="#00ff00" stroke-width="1.5" stroke-linejoin="round" stroke-opacity="0.5"/>
<polyline points="460.3,377.8 663.2,376.8" fill="none" stroke="#00ff00" stroke-width="1.5" stroke-linejoin="round" stroke-opacity="0.5"/>
<polyline points="663.2,377.5 558.2,378.0 663.2,378.7" fill="none" stroke="#00ff00" stroke-width="1.5" stroke-linejoin="round" stroke-opacity="0.5"/>
<polyline points="663.2,382.4 582.9,382.9 663.2,383.6" fill="none" stroke="#00ff00" stroke-width="1.5" stroke-linejoin="round" stroke-opacity="0.5"/>
<polyline points="460.3,384.3 663.2,383.3" fill="none" stroke="#00ff00" stroke-width="1.5" stroke-linejoin="round" stroke-opacity="0.5"/>
<polyline points="460.3,386.1 663.2,385.1" fill="none" stroke="#00ff00" stroke-width="1.5" stroke-linejoin="round" stroke-opacity="0.5"/>
<polyline points="460.3,387.0 663.2,385.9" fill="none" stroke="#00ffff" stroke-width="1.5" stroke-linejoin="round" stroke-opacity="0.5"/>
<polyline points="460.3,392.3 663.2,391.2" fill="none" stroke="#00ff00" stroke-width="1.5" stroke-linejoin="round" stroke-opacity="0.5"/>
<polyline points="460.3,394.1 663.2,393.0" fill="none" stroke="#00ffff" stroke-width="1.5" stroke-linejoin="round" stroke-opacity="0.5"/>
<polyline points="460.3,408.2 663.2,407.1" fill="none" stroke="#00ffff" stroke-width="1.5" stroke-linejoin="round" stroke-opacity="0.5"/>
<polyline points="663.2,411.5 574.1,412.1 663.2,412.8" fill="none" stroke="#00ffff" stroke-width="1.5" stroke-linejoin="round" stroke-opacity="0.5"/>
<polyline points="460.3,414.3 663.2,413.3" fill="none" stroke="#00ffff" stroke-width="1.5" stroke-linejoin="round" stroke-opacity="0.5"/>
<polyline points="460.3,417.0 663.2,415.9" fill="none" stroke="#00ff00" stroke-width="1.5" stroke-linejoin="round" stroke-opacity="0.5"/>
<polyline points="460.3,418.8 663.2,417.7" fill="none" stroke="#00ffff" stroke-width="1.5" stroke-linejoin="round" stroke-opacity="0.5"/>
<polyline points="460.3,424.1 663.2,423.0" fill="none" stroke="#00ff00" stroke-width="1.5" stroke-linejoin="round" stroke-opacity="0.5"/>
<polyline points="460.3,424.8 530.0,425.3 460.3,426.0" fill="none" stroke="#00ffff" stroke-width="1.5" stroke-linejoin="round" stroke-opacity="0.5"/>
<polyline points="460.3,427.2 663.2,426.2" fill="none" stroke="#00ff00" stroke-width="1.5" stroke-linejoin="round" stroke-opacity="0.5"/>
<polyline points="460.3,447.7 477.9,448.2 460.3,448.9" fill="none" stroke="#00ffff" stroke-width="1.5" stroke-linejoin="round" stroke-opacity="0.5"/>
<polyline points="460.3,450.2 663.2,449.1" fill="none" stroke="#00ffff" stroke-width="1.5" stroke-linejoin="round" stroke-opacity="0.5"/>
<polyline points="460.3,451.2 486.8,451.8 460.3,452.5" fill="none" stroke="#00ff00" stroke-width="1.5" stroke-linejoin="round" stroke-opacity="0.5"/>
<polyline points="460.3,456.2 663.2,455.1" fill="none" stroke="#00ffff" stroke-width="1.5" stroke-linejoin="round" stroke-opacity="0.5"/>
<polyline points="460.3,459.3 663.2,458.3" fill="none" stroke="#00ff00" stroke-width="1.5" stroke-linejoin="round" stroke-opacity="0.5"/>
<polyline points="460.3,462.9 663.2,461.8" fill="none" stroke="#00ffff" stroke-width="1.5" stroke-linejoin="round" stroke-opacity="0.5"/>
<polyline points="460.3,466.4 663.2,465.3" fill="none" stroke="#00ff00" stroke-width="1.5" stroke-linejoin="round" stroke-opacity="0.5"/>
<polyline points="460.3,468.2 663.2,467.1" fill="none" stroke="#00ff00" stroke-width="1.5" stroke-linejoin="round" stroke-opacity="0.5"/>
<polyline points="663.2,468.9 493.8,469.4 663.2,470.1" fill="none" stroke="#00ffff" stroke-width="1.5" stroke-linejoin="round" stroke-opacity="0.5"/>
<polyline points="460.3,471.7 663.2,470.6" fill="none" stroke="#00ffff" stroke-width="1.5" stroke-linejoin="round" stroke-opacity="0.5"/>
<polyline points="663.2,472.1 514.1,472.6 663.2,473.3" fill="none" stroke="#00ff00" stroke-width="1.5" stroke-linejoin="round" stroke-opacity="0.5"/>
<polyline points="460.3,475.2 663.2,474.2" fill="none" stroke="#00ff00" stroke-width="1.5" stroke-linejoin="round" stroke-opacity="0.5"/>
<polyline points="460.3,477.0 663.2,475.9" fill="none" stroke="#00ff00" stroke-width="1.5" stroke-linejoin="round" stroke-opacity="0.5"/>
<polyline points="460.3,480.5 663.2,479.5" fill="none" stroke="#00ff00" stroke-width="1.5" stroke-linejoin="round" stroke-opacity="0.5"/>
<polyline points="460.3,496.2 611.2,496.8 460.3,497.5" fill="none" stroke="#00ffff" stroke-width="1.5" stroke-linejoin="round" stroke-opacity="0.5"/>
<polyline points="460.3,498.5 545.9,499.0 460.3,499.8" fill="none" stroke="#00ffff" stroke-width="1.5" stroke-linejoin="round" stroke-opacity="0.5"/>
<polyline points="460.3,504.2 572.3,504.7 460.3,505.4" fill="none" stroke="#00ffff" stroke-width="1.5" stroke-linejoin="round" stroke-opacity="0.5"/>
<polyline points="460.3,512.3 663.2,511.2" fill="none" stroke="#00ff00" stroke-width="1.5" stroke-linejoin="round" stroke-opacity="0.5"/>
<polyline points="460.3,514.0 663.2,513.0" fill="none" stroke="#00ffff" stroke-width="1.5" stroke-linejoin="round" stroke-opacity="0.5"/>
<polyline points="460.3,516.7 663.2,515.6" fill="none" stroke="#00ff00" stroke-width="1.5" stroke-linejoin="round" stroke-opacity="0.5"/>
<polyline points="460.3,519.0 663.2,517.9" fill="none" stroke="#00ffff" stroke-width="1.5" stroke-linejoin="round" stroke-opacity="0.5"/>
<polyline points="460.3,537.0 663.2,535.9" fill="none" stroke="#00ffff" stroke-width="1.5" stroke-linejoin="round" stroke-opacity="0.5"/>
<polyline points="663.2,538.6 620.9,539.1 663.2,539.8" fill="none" stroke="#00ffff" stroke-width="1.5" stroke-linejoin="round" stroke-opacity="0.5"/>
<polyline points="460.3,544.9 663.2,543.9" fill="none" stroke="#00ff00" stroke-width="1.5" stroke-linejoin="round" stroke-opacity="0.5"/>
<polyline points="460.3,546.7 663.2,545.6" fill="none" stroke="#00ffff" stroke-width="1.5" stroke-linejoin="round" stroke-opacity="0.5"/>
<polyline points="460.3,552.5 663.2,551.5" fill="none" stroke="#00ff00" stroke-width="1.5" stroke-linejoin="round" stroke-opacity="0.5"/>
<polyline points="460.3,553.8 663.2,552.7" fill="none" stroke="#00ffff" stroke-width="1.5" stroke-linejoin="round" stroke-opacity="0.5"/>
<polyline points="498.2,559.0 603.2,559.4 503.5,559.9" fill="none" stroke="#00ff00" stroke-width="1.5" stroke-linejoin="round" stroke-opacity="0.5"/>
<polyline points="498.2,560.8 634.1,561.2 503.5,561.7" fill="none" stroke="#00ff00" stroke-width="1.5" stroke-linejoin="round" stroke-opacity="0.5"/>
<polyline points="460.3,562.4 653.5,562.9 460.3,563.6" fill="none" stroke="#00ff00" stroke-width="1.5" stroke-linejoin="round" stroke-opacity="0.5"/>
<polyline points="460.3,566.1 663.2,565.0" fill="none" stroke="#00ffff" stroke-width="1.5" stroke-linejoin="round" stroke-opacity="0.5"/>
<polyline points="460.3,567.9 663.2,566.8" fill="none" stroke="#00ffff" stroke-width="1.5" stroke-linejoin="round" stroke-opacity="0.5"/>
<polyline points="663.2,539.5 620.9,540.0 663.2,540.7" fill="none" stroke="#00ffff" stroke-width="1.5" stroke-linejoin="round" stroke-opacity="0.5"/>
<polyline points="460.3,544.4 663.2,543.4" fill="none" stroke="#00ff00" stroke-width="1.5" stroke-linejoin="round" stroke-opacity="0.5"/>
<polyline points="460.3,545.8 663.2,544.8" fill="none" stroke="#00ff00" stroke-width="1.5" stroke-linejoin="round" stroke-opacity="0.5"/>
<polyline points="460.3,553.2 663.2,552.2" fill="none" stroke="#00ff00" stroke-width="1.5" stroke-linejoin="round" stroke-opacity="0.5"/>
<polyline points="492.9,558.2 603.2,558.5 498.2,559.1" fill="none" stroke="#00ff00" stroke-width="1.5" stroke-linejoin="round" stroke-opacity="0.5"/>
<polyline points="498.2,560.5 653.5,560.8 503.5,561.4" fill="none" stroke="#00ff00" stroke-width="1.5" stroke-linejoin="round" stroke-opacity="0.5"/>
<polyline points="460.3,562.4 653.5,562.9 460.3,563.6" fill="none" stroke="#00ff00" stroke-width="1.5" stroke-linejoin="round" stroke-opacity="0.5"/>
<polyline points="460.3,567.0 663.2,565.9" fill="none" stroke="#00ffff" stroke-width="1.5" stroke-linejoin="round" stroke-opacity="0.5"/>
<polyline points="460.3,568.8 663.2,567.7" fill="none" stroke="#00ff00" stroke-width="1.5" stroke-linejoin="round" stroke-opacity="0.5"/>
<polyline points="460.3,569.8 595.3,570.4 460.3,571.1" fill="none" stroke="#00ffff" stroke-width="1.5" stroke-linejoin="round" stroke-opacity="0.5"/>
<polyline points="460.3,570.9 590.0,571.4 460.3,572.1" fill="none" stroke="#00ff00" stroke-width="1.5" stroke-linejoin="round" stroke-opacity="0.5"/>
<polyline points="460.3,584.3 663.2,583.2" fill="none" stroke="#00ff00" stroke-width="1.5" stroke-linejoin="round" stroke-opacity="0.5"/>
<polyline points="663.2,589.4 495.6,589.9 663.2,590.6" fill="none" stroke="#00ff00" stroke-width="1.5" stroke-linejoin="round" stroke-opacity="0.5"/>
<polyline points="460.3,591.7 663.2,590.6" fill="none" stroke="#00ff00" stroke-width="1.5" stroke-linejoin="round" stroke-opacity="0.5"/>
<polyline points="663.2,596.3 492.9,596.8 663.2,597.5" fill="none" stroke="#00ffff" stroke-width="1.5" stroke-linejoin="round" stroke-opacity="0.5"/>
<polyline points="460.3,599.6 663.2,598.6" fill="none" stroke="#00ffff" stroke-width="1.5" stroke-linejoin="round" stroke-opacity="0.5"/>
<polyline points="663.2,600.7 542.3,601.2 663.2,601.9" fill="none" stroke="#00ffff" stroke-width="1.5" stroke-linejoin="round" stroke-opacity="0.5"/>
<polyline points="460.3,602.1 636.8,602.6 460.3,603.3" fill="none" stroke="#00ffff" stroke-width="1.5" stroke-linejoin="round" stroke-opacity="0.5"/>
<polyline points="460.3,612.0 663.2,610.9" fill="none" stroke="#00ff00" stroke-width="1.5" stroke-linejoin="round" stroke-opacity="0.5"/>
<polyline points="460.3,615.3 536.2,615.9 460.3,616.6" fill="none" stroke="#00ffff" stroke-width="1.5" stroke-linejoin="round" stroke-opacity="0.5"/>
<polyline points="460.3,636.7 663.2,635.6" fill="none" stroke="#00ffff" stroke-width="1.5" stroke-linejoin="round" stroke-opacity="0.5"/>
<polyline points="663.2,639.5 596.2,640.1 663.2,640.8" fill="none" stroke="#00ffff" stroke-width="1.5" stroke-linejoin="round" stroke-opacity="0.5"/>
<polyline points="460.3,642.0 663.2,640.9" fill="none" stroke="#00ffff" stroke-width="1.5" stroke-linejoin="round" stroke-opacity="0.5"/>
<polyline points="460.3,642.3 527.3,642.9 460.3,643.6" fill="none" stroke="#00ff00" stroke-width="1.5" stroke-linejoin="round" stroke-opacity="0.5"/>
<polyline points="663.2,643.9 508.8,644.5 663.2,645.2" fill="none" stroke="#00ff00" stroke-width="1.5" stroke-linejoin="round" stroke-opacity="0.5"/>
<polyline points="460.3,646.4 663.2,645.3" fill="none" stroke="#00ff00" stroke-width="1.5" stroke-linejoin="round" stroke-opacity="0.5"/>
<polyline points="663.2,647.1 534.4,647.6 663.2,648.3" fill="none" stroke="#00ffff" stroke-width="1.5" stroke-linejoin="round" stroke-opacity="0.5"/>
<polyline points="460.3,648.9 567.9,649.4 460.3,650.1" fill="none" stroke="#00ffff" stroke-width="1.5" stroke-linejoin="round" stroke-opacity="0.5"/>
<polyline points="460.3,651.7 663.2,650.6" fill="none" stroke="#00ff00" stroke-width="1.5" stroke-linejoin="round" stroke-opacity="0.5"/>
<polyline points="460.3,655.2 663.2,654.2" fill="none" stroke="#00ffff" stroke-width="1.5" stroke-linejoin="round" stroke-opacity="0.5"/>
<polyline points="663.2,656.3 590.9,656.8 663.2,657.5" fill="none" stroke="#00ffff" stroke-width="1.5" stroke-linejoin="round" stroke-opacity="0.5"/>
<polyline points="460.3,658.8 663.2,657.7" fill="none" stroke="#00ffff" stroke-width="1.5" stroke-linejoin="round" stroke-opacity="0.5"/>
<polyline points="460.3,661.9 663.2,660.9" fill="none" stroke="#00ff00" stroke-width="1.5" stroke-linejoin="round" stroke-opacity="0.5"/>
<polyline points="460.3,664.1 663.2,663.0" fill="none" stroke="#00ffff" stroke-width="1.5" stroke-linejoin="round" stroke-opacity="0.5"/>
<polyline points="460.3,669.0 663.2,667.9" fill="none" stroke="#00ff00" stroke-width="1.5" stroke-linejoin="round" stroke-opacity="0.5"/>
<polyline points="460.3,672.0 663.2,670.9" fill="none" stroke="#00ff00" stroke-width="1.5" stroke-linejoin="round" stroke-opacity="0.5"/>
<polyline points="460.3,673.8 663.2,672.7" fill="none" stroke="#00ff00" stroke-width="1.5" stroke-linejoin="round" stroke-opacity="0.5"/>
<polyline points="460.3,676.4 663.2,675.3" fill="none" stroke="#00ff00" stroke-width="1.5" stroke-linejoin="round" stroke-opacity="0.5"/>
<polyline points="663.2,679.8 576.8,680.3 663.2,681.0" fill="none" stroke="#00ffff" stroke-width="1.5" stroke-linejoin="round" stroke-opacity="0.5"/>
<polyline points="460.3,686.1 663.2,685.1" fill="none" stroke="#00ff00" stroke-width="1.5" stroke-linejoin="round" stroke-opacity="0.5"/>
<polyline points="663.2,687.3 627.0,687.9 663.2,688.6" fill="none" stroke="#00ff00" stroke-width="1.5" stroke-linejoin="round" stroke-opacity="0.5"/>
<polyline points="460.3,695.8 663.2,694.8" fill="none" stroke="#00ff00" stroke-width="1.5" stroke-linejoin="round" stroke-opacity="0.5"/>
<polyline points="460.3,697.6 663.2,696.5" fill="none" stroke="#00ffff" stroke-width="1.5" stroke-linejoin="round" stroke-opacity="0.5"/>
<polyline points="663.2,698.8 567.1,699.3 663.2,700.0" fill="none" stroke="#00ffff" stroke-width="1.5" stroke-linejoin="round" stroke-opacity="0.5"/>
<polyline points="460.3,702.0 663.2,700.9" fill="none" stroke="#00ff00" stroke-width="1.5" stroke-linejoin="round" stroke-opacity="0.5"/>
<polyline points="460.3,702.9 663.2,701.8" fill="none" stroke="#00ff00" stroke-width="1.5" stroke-linejoin="round" stroke-opacity="0.5"/>
<polyline points="460.3,705.3 469.1,705.9 460.3,706.6" fill="none" stroke="#00ffff" stroke-width="1.5" stroke-linejoin="round" stroke-opacity="0.5"/>
<polyline points="460.3,711.0 547.6,711.5 460.3,712.2" fill="none" stroke="#00ffff" stroke-width="1.5" stroke-linejoin="round" stroke-opacity="0.5"/>
<polyline points="460.3,715.6 663.2,714.5" fill="none" stroke="#00ff00" stroke-width="1.5" stroke-linejoin="round" stroke-opacity="0.5"/>
<polyline points="460.3,715.9 642.9,716.5 460.3,717.2" fill="none" stroke="#00ffff" stroke-width="1.5" stroke-linejoin="round" stroke-opacity="0.5"/>
<polyline points="460.3,719.5 568.8,720.0 460.3,720.7" fill="none" stroke="#00ff00" stroke-width="1.5" stroke-linejoin="round" stroke-opacity="0.5"/>
<polyline points="460.3,733.6 595.3,734.1 460.3,734.8" fill="none" stroke="#00ffff" stroke-width="1.5" stroke-linejoin="round" stroke-opacity="0.5"/>
<polyline points="460.3,740.3 565.6,740.8 460.3,741.5" fill="none" stroke="#00ffff" stroke-width="1.5" stroke-linejoin="round" stroke-opacity="0.5"/>
<polyline points="460.3,749.6 663.2,748.6" fill="none" stroke="#00ffff" stroke-width="1.5" stroke-linejoin="round" stroke-opacity="0.5"/>
<polyline points="460.3,751.2 477.9,751.8 460.3,752.5" fill="none" stroke="#00ff00" stroke-width="1.5" stroke-linejoin="round" stroke-opacity="0.5"/>
<polyline points="460.3,755.5 663.2,754.4" fill="none" stroke="#00ff00" stroke-width="1.5" stroke-linejoin="round" stroke-opacity="0.5"/>
<polyline points="460.3,758.5 663.2,757.4" fill="none" stroke="#00ffff" stroke-width="1.5" stroke-linejoin="round" stroke-opacity="0.5"/>
<polyline points="460.3,761.1 663.2,760.0" fill="none" stroke="#00ffff" stroke-width="1.5" stroke-linejoin="round" stroke-opacity="0.5"/>
<polyline points="663.2,769.2 605.0,769.8 663.2,770.5" fill="none" stroke="#00ff00" stroke-width="1.5" stroke-linejoin="round" stroke-opacity="0.5"/>
<polyline points="460.3,754.9 663.2,753.9" fill="none" stroke="#00ff00" stroke-width="1.5" stroke-linejoin="round" stroke-opacity="0.5"/>
<polyline points="460.3,758.5 663.2,757.4" fill="none" stroke="#00ffff" stroke-width="1.5" stroke-linejoin="round" stroke-opacity="0.5"/>
<polyline points="460.3,761.1 663.2,760.1" fill="none" stroke="#00ffff" stroke-width="1.5" stroke-linejoin="round" stroke-opacity="0.5"/>
<polyline points="663.2,769.2 605.0,769.8 663.2,770.5" fill="none" stroke="#00ff00" stroke-width="1.5" stroke-linejoin="round" stroke-opacity="0.5"/>
<polyline points="663.2,780.9 592.6,781.4 663.2,782.1" fill="none" stroke="#00ff00" stroke-width="1.5" stroke-linejoin="round" stroke-opacity="0.5"/>
<polyline points="460.3,784.1 663.2,783.0" fill="none" stroke="#00ff00" stroke-width="1.5" stroke-linejoin="round" stroke-opacity="0.5"/>
<polyline points="460.3,784.8 528.2,785.3 460.3,786.0" fill="none" stroke="#00ffff" stroke-width="1.5" stroke-linejoin="round" stroke-opacity="0.5"/>
<polyline points="528.2,786.7 624.4,787.1 533.5,787.6" fill="none" stroke="#00ff00" stroke-width="1.5" stroke-linejoin="round" stroke-opacity="0.5"/>
<polyline points="460.3,789.4 663.2,788.3" fill="none" stroke="#00ff00" stroke-width="1.5" stroke-linejoin="round" stroke-opacity="0.5"/>
<polyline points="460.3,791.5 663.2,790.4" fill="none" stroke="#00ff00" stroke-width="1.5" stroke-linejoin="round" stroke-opacity="0.5"/>
<polyline points="460.3,792.5 663.2,791.5" fill="none" stroke="#00ff00" stroke-width="1.5" stroke-linejoin="round" stroke-opacity="0.5"/>
<polyline points="460.3,793.8 663.2,792.7" fill="none" stroke="#00ffff" stroke-width="1.5" stroke-linejoin="round" stroke-opacity="0.5"/>
<polyline points="460.3,797.3 663.2,796.2" fill="none" stroke="#00ff00" stroke-width="1.5" stroke-linejoin="round" stroke-opacity="0.5"/>
<polyline points="602.3,796.9 635.9,797.3 607.6,797.8" fill="none" stroke="#00ffff" stroke-width="1.5" stroke-linejoin="round" stroke-opacity="0.5"/>
<polyline points="460.3,800.8 663.2,799.8" fill="none" stroke="#00ff00" stroke-width="1.5" stroke-linejoin="round" stroke-opacity="0.5"/>
<polyline points="663.2,801.5 609.4,802.1 663.2,802.8" fill="none" stroke="#00ffff" stroke-width="1.5" stroke-linejoin="round" stroke-opacity="0.5"/>
<polyline points="663.2,805.9 607.6,806.5 663.2,807.2" fill="none" stroke="#00ff00" stroke-width="1.5" stroke-linejoin="round" stroke-opacity="0.5"/>
<polyline points="609.4,807.9 642.9,808.2 614.7,808.8" fill="none" stroke="#00ffff" stroke-width="1.5" stroke-linejoin="round" stroke-opacity="0.5"/>
<polyline points="460.3,811.4 663.2,810.3" fill="none" stroke="#00ff00" stroke-width="1.5" stroke-linejoin="round" stroke-opacity="0.5"/>
<polyline points="663.2,811.6 534.4,812.1 663.2,812.8" fill="none" stroke="#00ffff" stroke-width="1.5" stroke-linejoin="round" stroke-opacity="0.5"/>
<polyline points="460.3,812.6 575.9,813.2 460.3,813.9" fill="none" stroke="#00ff00" stroke-width="1.5" stroke-linejoin="round" stroke-opacity="0.5"/>
<polyline points="460.3,817.6 663.2,816.5" fill="none" stroke="#00ffff" stroke-width="1.5" stroke-linejoin="round" stroke-opacity="0.5"/>
<polyline points="460.3,823.8 663.2,822.7" fill="none" stroke="#00ff00" stroke-width="1.5" stroke-linejoin="round" stroke-opacity="0.5"/>
<polyline points="460.3,824.6 663.2,823.6" fill="none" stroke="#00ff00" stroke-width="1.5" stroke-linejoin="round" stroke-opacity="0.5"/>
<polyline points="460.3,824.5 575.9,825.0 460.3,825.7" fill="none" stroke="#00ffff" stroke-width="1.5" stroke-linejoin="round" stroke-opacity="0.5"/>
<polyline points="575.9,827.3 646.5,827.6 581.2,828.2" fill="none" stroke="#00ff00" stroke-width="1.5" stroke-linejoin="round" stroke-opacity="0.5"/>
<polyline points="579.4,829.9 625.3,830.3 584.7,830.8" fill="none" stroke="#00ff00" stroke-width="1.5" stroke-linejoin="round" stroke-opacity="0.5"/>
<polyline points="460.3,832.1 663.2,831.0" fill="none" stroke="#00ffff" stroke-width="1.5" stroke-linejoin="round" stroke-opacity="0.5"/>
<polyline points="460.3,843.0 556.5,843.5 460.3,844.2" fill="none" stroke="#00ff00" stroke-width="1.5" stroke-linejoin="round" stroke-opacity="0.5"/>
<polyline points="460.3,856.4 663.2,855.3" fill="none" stroke="#00ff00" stroke-width="1.5" stroke-linejoin="round" stroke-opacity="0.5"/>
<polyline points="663.2,858.0 544.1,858.5 663.2,859.2" fill="none" stroke="#00ffff" stroke-width="1.5" stroke-linejoin="round" stroke-opacity="0.5"/>
<polyline points="460.3,866.1 663.2,865.1" fill="none" stroke="#00ff00" stroke-width="1.5" stroke-linejoin="round" stroke-opacity="0.5"/>
<polyline points="663.2,869.5 517.6,870.0 663.2,870.7" fill="none" stroke="#00ffff" stroke-width="1.5" stroke-linejoin="round" stroke-opacity="0.5"/>
<polyline points="663.2,875.1 531.8,875.6 663.2,876.3" fill="none" stroke="#00ffff" stroke-width="1.5" stroke-linejoin="round" stroke-opacity="0.5"/>
<polyline points="663.2,880.1 577.6,880.6 663.2,881.3" fill="none" stroke="#00ffff" stroke-width="1.5" stroke-linejoin="round" stroke-opacity="0.5"/>
<polyline points="460.3,881.8 567.1,882.3 460.3,883.1" fill="none" stroke="#00ff00" stroke-width="1.5" stroke-linejoin="round" stroke-opacity="0.5"/>
<polyline points="460.3,883.2 639.4,883.8 460.3,884.5" fill="none" stroke="#00ffff" stroke-width="1.5" stroke-linejoin="round" stroke-opacity="0.5"/>
<polyline points="460.3,885.5 663.2,884.5" fill="none" stroke="#00ff00" stroke-width="1.5" stroke-linejoin="round" stroke-opacity="0.5"/>
<polyline points="460.3,889.9 663.2,888.9" fill="none" stroke="#00ffff" stroke-width="1.5" stroke-linejoin="round" stroke-opacity="0.5"/>
<polyline points="460.3,892.6 663.2,891.5" fill="none" stroke="#00ffff" stroke-width="1.5" stroke-linejoin="round" stroke-opacity="0.5"/>
<polyline points="663.2,895.9 614.7,896.5 663.2,897.2" fill="none" stroke="#00ffff" stroke-width="1.5" stroke-linejoin="round" stroke-opacity="0.5"/>
<polyline points="460.3,900.2 663.2,899.1" fill="none" stroke="#00ff00" stroke-width="1.5" stroke-linejoin="round" stroke-opacity="0.5"/>
<polyline points="663.2,900.9 623.5,901.4 663.2,902.1" fill="none" stroke="#00ffff" stroke-width="1.5" stroke-linejoin="round" stroke-opacity="0.5"/>
<polyline points="460.3,907.6 663.2,906.5" fill="none" stroke="#00ff00" stroke-width="1.5" stroke-linejoin="round" stroke-opacity="0.5"/>
<polyline points="560.0,909.3 630.6,909.7 565.3,910.2" fill="none" stroke="#00ffff" stroke-width="1.5" stroke-linejoin="round" stroke-opacity="0.5"/>
<polyline points="460.3,912.0 663.2,910.9" fill="none" stroke="#00ff00" stroke-width="1.5" stroke-linejoin="round" stroke-opacity="0.5"/>
<polyline points="545.9,915.5 590.0,915.9 551.2,916.4" fill="none" stroke="#00ffff" stroke-width="1.5" stroke-linejoin="round" stroke-opacity="0.5"/>
<polyline points="460.3,920.8 663.2,919.8" fill="none" stroke="#00ff00" stroke-width="1.5" stroke-linejoin="round" stroke-opacity="0.5"/>
<polyline points="460.3,922.6 663.2,921.5" fill="none" stroke="#00ff00" stroke-width="1.5" stroke-linejoin="round" stroke-opacity="0.5"/>
<polyline points="460.3,923.3 468.2,923.8 460.3,924.5" fill="none" stroke="#00ffff" stroke-width="1.5" stroke-linejoin="round" stroke-opacity="0.5"/>
<polyline points="460.3,933.0 520.3,933.5 460.3,934.2" fill="none" stroke="#00ffff" stroke-width="1.5" stroke-linejoin="round" stroke-opacity="0.5"/>
<polyline points="460.3,935.8 663.2,934.8" fill="none" stroke="#00ff00" stroke-width="1.5" stroke-linejoin="round" stroke-opacity="0.5"/>
<polyline points="460.3,939.2 560.0,939.7 460.3,940.4" fill="none" stroke="#00ff00" stroke-width="1.5" stroke-linejoin="round" stroke-opacity="0.5"/>
<polyline points="538.8,940.6 560.0,940.9 544.1,941.5" fill="none" stroke="#00ff00" stroke-width="1.5" stroke-linejoin="round" stroke-opacity="0.5"/>
<polyline points="460.3,941.8 635.0,942.3 460.3,943.0" fill="none" stroke="#00ff00" stroke-width="1.5" stroke-linejoin="round" stroke-opacity="0.5"/>
<polyline points="663.2,944.5 549.4,945.0 663.2,945.7" fill="none" stroke="#00ff00" stroke-width="1.5" stroke-linejoin="round" stroke-opacity="0.5"/>
<polyline points="663.2,948.9 604.1,949.4 663.2,950.1" fill="none" stroke="#00ff00" stroke-width="1.5" stroke-linejoin="round" stroke-opacity="0.5"/>
<polyline points="460.3,952.6 663.2,951.5" fill="none" stroke="#00ff00" stroke-width="1.5" stroke-linejoin="round" stroke-opacity="0.5"/>
<polyline points="509.7,954.0 644.7,954.3 515.0,954.9" fill="none" stroke="#00ff00" stroke-width="1.5" stroke-linejoin="round" stroke-opacity="0.5"/>
<polyline points="509.7,954.9 644.7,955.2 515.0,955.8" fill="none" stroke="#00ff00" stroke-width="1.5" stroke-linejoin="round" stroke-opacity="0.5"/>
<polyline points="460.3,955.9 595.3,956.5 460.3,957.2" fill="none" stroke="#00ffff" stroke-width="1.5" stroke-linejoin="round" stroke-opacity="0.5"/>
<polyline points="514.1,960.5 551.2,960.9 519.4,961.4" fill="none" stroke="#00ffff" stroke-width="1.5" stroke-linejoin="round" stroke-opacity="0.5"/>
<polyline points="460.3,964.9 663.2,963.9" fill="none" stroke="#00ff00" stroke-width="1.5" stroke-linejoin="round" stroke-opacity="0.5"/>
<polyline points="663.2,968.3 515.9,968.8 663.2,969.5" fill="none" stroke="#00ffff" stroke-width="1.5" stroke-linejoin="round" stroke-opacity="0.5"/>
<polyline points="460.3,972.9 663.2,971.8" fill="none" stroke="#00ffff" stroke-width="1.5" stroke-linejoin="round" stroke-opacity="0.5"/>
<polyline points="460.3,978.2 663.2,977.1" fill="none" stroke="#00ffff" stroke-width="1.5" stroke-linejoin="round" stroke-opacity="0.5"/>
<polyline points="663.2,982.8 591.8,983.3 663.2,984.0" fill="none" stroke="#00ff00" stroke-width="1.5" stroke-linejoin="round" stroke-opacity="0.5"/>
<polyline points="521.2,970.0 663.2,973.5 663.2,976.7 463.8,982.7 463.8,986.8 581.2,989.8 576.8,991.2 647.3,992.9 616.5,996.1 463.8,1001.4 535.3,1004.1 463.8,1007.1 463.8,1015.5 490.3,1015.5 463.8,1016.2 463.8,1028.8 487.6,1029.1 609.4,1033.2 605.0,1034.8 647.3,1036.5 609.4,1040.2 635.9,1042.3 555.6,1047.3 582.9,1049.1 527.3,1053.8 560.0,1055.6 505.3,1057.3 515.0,1059.1 463.8,1062.6 463.8,1082.9 473.5,1082.9 463.8,1084.3 463.8,1090.9 471.8,1091.4 463.8,1092.6 463.8,1094.4 520.3,1100.6 471.8,1105.9 473.5,1107.6 503.5,1110.3 484.1,1112.1 531.8,1115.6 514.1,1121.4 538.8,1123.2 531.8,1125.3 599.7,1130.9 577.6,1134.1 590.0,1135.9 584.7,1141.2 537.1,1147.3 463.8,1154.0" fill="none" stroke="#00ffff" stroke-width="1.9" stroke-linejoin="round" stroke-opacity="0.5"/>
<polyline points="591.8,983.2 663.2,980.9 663.2,985.5 621.8,984.1 663.2,985.0 663.2,1003.5 629.7,1004.1 663.2,1003.5 663.2,1007.4 463.8,1010.9 463.8,1028.2 487.6,1028.6 463.8,1029.3 463.8,1036.5 570.6,1037.9 575.0,1039.7 560.0,1041.1 663.2,1042.7 663.2,1045.0 639.4,1044.1 663.2,1045.9 663.2,1049.8 575.9,1052.9 560.0,1055.9 463.8,1057.0 463.8,1061.8 504.4,1063.5 492.9,1065.3 463.8,1066.2 463.8,1068.5 544.1,1068.5 463.8,1069.7 463.8,1083.8 491.2,1084.3 466.5,1086.5 488.5,1087.9 463.8,1089.1 463.8,1094.9 563.5,1096.2 607.6,1101.8 565.3,1105.5 584.7,1108.5 473.5,1111.7 579.4,1116.5 487.6,1123.0 544.1,1125.3 502.6,1127.6 522.9,1130.6 463.8,1133.8 528.2,1135.9 514.1,1137.3 590.0,1140.6 518.5,1145.0 576.8,1148.6 552.9,1154.9 463.8,1157.0" fill="none" stroke="#00ff00" stroke-width="1.9" stroke-linejoin="round" stroke-opacity="0.5"/>
<polyline points="463.8,126.8 480.6,129.4 463.8,130.8 492.9,141.8 524.7,151.5 598.8,157.6 616.5,162.9 630.6,168.2 602.3,170.9 627.0,175.6 644.7,179.7 650.9,183.2 614.7,185.9 650.0,189.4 567.1,196.5 581.2,201.8 563.5,206.2 590.0,211.5 514.1,224.7 510.6,227.3 535.3,231.8 517.6,235.3 536.2,237.1 464.7,249.4 463.8,265.3 498.2,269.7 475.3,276.8 491.2,275.9 463.8,282.0" fill="none" stroke="#0000ff" stroke-width="1.6" stroke-linejoin="round"/>
<polyline points="473.5,226.5 517.6,230.0 538.8,233.5 554.7,237.1 542.3,244.1 556.5,251.2 547.6,258.2 557.3,261.8 545.9,268.8 563.5,275.9 524.7,284.7 498.2,297.0 471.8,305.9 463.8,309.4" fill="none" stroke="#800080" stroke-width="1.6" stroke-linejoin="round" stroke-dasharray="5.8,2.5"/>
<polyline points="464.7,125.0 470.9,125.9 466.5,127.6 463.8,128.5" fill="none" stroke="#808000" stroke-width="1.6" stroke-linejoin="round" stroke-dasharray="5.8,2.5"/>
<polyline points="466.5,180.6 477.1,185.9 468.2,192.9 469.1,201.8 464.7,205.3" fill="none" stroke="#808000" stroke-width="1.6" stroke-linejoin="round" stroke-dasharray="5.8,2.5"/>
<polyline points="463.8,254.7 468.2,260.0 463.8,265.3 463.8,305.9 471.8,311.2 464.7,316.5 480.6,328.8 468.2,332.3 473.5,335.0" fill="none" stroke="#ff0000" stroke-width="1.6" stroke-linejoin="round"/>
<polyline points="468.2,312.9 477.1,318.2 466.5,321.8 491.2,328.8 475.3,332.7 479.7,335.0" fill="none" stroke="#008000" stroke-width="1.6" stroke-linejoin="round"/>
<polyline points="463.8,342.4 470.0,339.7 473.5,337.1 470.9,338.5 475.3,334.9" fill="none" stroke="#ff0000" stroke-width="1.6" stroke-linejoin="round"/>
<polyline points="468.2,340.9 475.3,338.8 479.7,336.2" fill="none" stroke="#008000" stroke-width="1.6" stroke-linejoin="round"/>
<polyline points="463.8,475.6 466.5,478.2 477.9,479.5 464.7,480.3 468.2,483.5 492.9,487.0 507.9,490.6 501.8,493.2 519.8,495.3 515.9,499.4 509.7,501.2 477.9,507.3 492.1,510.3 487.6,512.6 496.1,514.4 482.4,517.4 501.8,519.7 498.2,522.3 485.0,524.1 492.9,526.8 502.6,529.4 507.9,532.9 499.1,535.6 523.3,538.6 514.1,541.8 505.3,545.6 521.2,548.8 509.7,552.7 522.9,555.9 504.4,559.4 518.5,562.6 492.9,566.1 501.8,567.3 487.6,570.0" fill="none" stroke="#0000ff" stroke-width="1.6" stroke-linejoin="round"/>
<polyline points="463.8,484.9 475.3,488.5 482.0,489.7 482.4,492.0 473.5,495.9 474.4,498.0 466.5,502.0 463.8,503.8 463.8,509.1 481.5,512.6 468.2,517.4 464.7,524.1 463.8,534.7 472.6,535.2 464.7,538.2 463.8,551.5 475.3,555.0 487.6,557.6 491.2,560.3 489.4,564.7 492.1,567.3 488.5,570.0" fill="none" stroke="#008000" stroke-width="1.6" stroke-linejoin="round"/>
<polyline points="463.8,485.3 474.4,488.8 475.3,492.3 469.1,496.8 470.9,498.5 463.8,503.8 463.8,509.1 474.4,513.5 466.5,517.9 464.7,524.1 463.8,534.7 468.2,535.6 464.7,538.2 468.2,540.0 463.8,541.8 463.8,551.5 469.1,555.0 477.9,557.6 479.7,561.2 478.8,566.5 481.5,570.0" fill="none" stroke="#ff0000" stroke-width="1.6" stroke-linejoin="round"/>
<polyline points="463.8,401.5 476.2,402.0 468.2,405.0 473.5,407.6 470.0,409.4 484.1,412.1 463.8,414.7" fill="none" stroke="#800080" stroke-width="1.6" stroke-linejoin="round" stroke-dasharray="5.8,2.5"/>
<polyline points="463.8,425.3 472.6,426.2 466.5,428.8" fill="none" stroke="#800080" stroke-width="1.6" stroke-linejoin="round" stroke-dasharray="5.8,2.5"/>
<polyline points="463.8,444.7 471.8,445.6 464.7,447.3" fill="none" stroke="#808000" stroke-width="1.6" stroke-linejoin="round" stroke-dasharray="5.8,2.5"/>
<polyline points="464.7,456.2 468.2,458.8" fill="none" stroke="#808000" stroke-width="1.6" stroke-linejoin="round" stroke-dasharray="5.8,2.5"/>
<polyline points="464.7,472.9 470.0,476.5 466.5,479.1" fill="none" stroke="#808000" stroke-width="1.6" stroke-linejoin="round" stroke-dasharray="5.8,2.5"/>
<polyline points="466.5,560.3 472.6,561.2 469.1,564.7 475.3,562.9" fill="none" stroke="#800080" stroke-width="1.6" stroke-linejoin="round" stroke-dasharray="5.8,2.5"/>
<polyline points="519.4,540.0 504.4,546.2 521.2,547.9 509.7,552.0 522.9,556.2 504.4,559.4 518.5,562.6 492.9,566.5 502.6,567.4 482.4,572.6 463.8,575.3 463.8,585.9 482.4,587.6 491.7,592.6 477.9,596.1 489.4,596.8 472.6,600.9 492.9,604.4 479.7,607.1 477.9,610.6 473.5,612.3 463.8,617.6 463.8,649.4 484.1,647.6 463.8,652.9 463.8,679.4 470.0,681.2 469.1,684.7 477.9,690.9 482.4,694.4 492.9,695.6 494.2,697.0 480.6,700.6 490.3,705.9 506.2,708.5 484.1,712.0 475.3,713.8 477.9,715.6 467.4,719.1 480.6,722.6 475.3,725.3 467.4,727.0 463.8,729.7 463.8,744.7 471.8,745.6 490.3,749.1 487.6,752.6 474.4,756.2 484.1,760.6 492.9,763.2 489.4,765.5 498.2,767.6 500.0,771.2 503.5,772.9 499.1,776.5 500.9,780.0" fill="none" stroke="#0000ff" stroke-width="1.6" stroke-linejoin="round"/>
<polyline points="463.8,552.0 475.3,554.5 486.8,557.3 491.2,559.4 490.3,563.8 488.5,566.5 492.9,569.1 494.7,572.3 478.8,577.9 482.4,580.2 473.5,584.1 476.2,586.8 471.8,592.9 477.9,600.0 472.6,603.5 478.8,610.6 471.8,614.1 463.8,617.6 463.8,648.5 476.2,650.8 466.5,653.8 463.8,656.5 463.8,729.7 474.4,734.1 466.5,736.8 463.8,739.4 463.8,751.8 474.4,757.0 481.5,761.5 484.1,765.9 487.6,771.2 485.0,774.7 487.6,780.0" fill="none" stroke="#008000" stroke-width="1.6" stroke-linejoin="round"/>
<polyline points="463.8,551.5 469.1,554.1 477.9,557.6 480.6,562.1 479.7,566.5 481.5,571.8 473.5,577.9 474.4,581.5 468.2,585.9 464.7,589.4 469.1,594.7 468.2,600.9 471.8,606.2 470.0,611.5 463.8,617.6 463.8,645.9 470.9,648.5 466.5,652.9 466.5,663.5 464.7,672.3 463.8,677.6 463.8,716.5 465.6,725.3 466.5,734.1 464.7,742.9 463.8,750.9 469.1,756.2 474.4,759.7 476.2,765.9 477.9,771.2 477.1,776.5 477.9,780.0" fill="none" stroke="#ff0000" stroke-width="1.6" stroke-linejoin="round"/>
<polyline points="463.8,571.8 468.2,578.8 473.5,582.4 470.9,585.9 477.9,591.2 470.0,596.5 475.3,601.8 474.4,605.3 482.4,609.7 486.8,615.9 477.1,621.2 473.5,624.7 477.9,635.3 470.9,641.5 484.1,645.9" fill="none" stroke="#808000" stroke-width="1.6" stroke-linejoin="round" stroke-dasharray="5.8,2.5"/>
<polyline points="463.8,767.6 468.2,770.3 473.5,774.7 477.9,780.0" fill="none" stroke="#808000" stroke-width="1.6" stroke-linejoin="round" stroke-dasharray="5.8,2.5"/>
<polyline points="463.8,557.6 474.4,559.4 477.9,562.1 466.5,564.7 470.0,568.2 466.5,570.9" fill="none" stroke="#800080" stroke-width="1.6" stroke-linejoin="round" stroke-dasharray="5.8,2.5"/>
<polyline points="463.8,587.6 471.8,587.6 468.2,592.9" fill="none" stroke="#800080" stroke-width="1.6" stroke-linejoin="round" stroke-dasharray="5.8,2.5"/>
<polyline points="482.4,631.8 480.6,636.2 473.5,637.1 477.9,642.3 483.2,645.9 468.2,652.1 467.4,661.8 472.6,665.3 464.7,667.9 477.1,670.2 470.0,674.1 464.7,676.8 463.8,679.4 470.0,686.5 477.9,693.5 485.9,698.8 496.5,702.3 492.9,706.8 499.1,712.0 493.8,718.2 501.8,720.0 496.5,722.6 486.8,727.0 477.9,731.5 470.0,734.1" fill="none" stroke="#800080" stroke-width="1.6" stroke-linejoin="round" stroke-dasharray="5.8,2.5"/>
<polyline points="463.8,744.7 477.1,745.6 470.0,750.0 463.8,751.8" fill="none" stroke="#800080" stroke-width="1.6" stroke-linejoin="round" stroke-dasharray="5.8,2.5"/>
<polyline points="463.8,772.9 469.1,775.6 475.3,780.0" fill="none" stroke="#800080" stroke-width="1.6" stroke-linejoin="round" stroke-dasharray="5.8,2.5"/>
<polyline points="489.4,750.0 477.9,755.3 492.9,763.2 499.1,767.6 496.5,770.8 503.9,772.9 499.1,776.5 496.5,781.8 497.3,785.3 486.8,787.9 489.4,792.4 485.0,795.9 476.2,798.5 491.2,805.6 482.4,810.9 483.2,814.4 469.1,820.6 472.6,825.0 469.1,830.3 472.6,832.9 489.4,836.5 486.8,841.8 497.3,845.3 490.3,847.9 493.8,852.3 512.3,855.0 507.9,862.9 501.8,865.6 513.2,866.8 490.3,871.8 495.6,874.4 492.9,877.1 495.6,880.6 493.8,885.0 484.1,886.8 487.6,891.2 480.6,895.1 485.0,898.2 500.9,900.9 503.5,905.3 494.7,911.5 507.1,920.3 498.2,923.8 500.9,926.5 496.5,932.6 490.3,937.0 485.9,942.3 489.4,944.1 485.0,950.3 477.9,954.7 466.5,959.1 463.8,963.5" fill="none" stroke="#0000ff" stroke-width="1.6" stroke-linejoin="round"/>
<polyline points="474.4,757.1 483.2,762.4 485.9,767.6 487.6,772.9 485.0,776.5 492.1,783.5 490.3,787.9 494.7,795.0 506.2,802.9 513.2,809.1 512.3,811.8 526.5,817.1 517.6,821.5 524.7,826.8 522.1,834.7 510.6,840.0 506.2,846.2 507.9,854.1 505.3,861.2 512.3,866.5 500.0,873.5 502.6,880.6 500.9,887.6 504.4,891.2 500.9,898.2 494.7,901.8 490.3,908.8 491.2,915.9 488.5,923.8 482.4,933.5 485.9,938.8 480.6,945.9 477.9,952.9 468.2,958.2 463.8,961.8" fill="none" stroke="#008000" stroke-width="1.6" stroke-linejoin="round"/>
<polyline points="463.8,751.8 473.5,757.1 476.2,764.1 477.9,771.2 477.1,778.2 479.7,787.9 487.6,802.9 492.9,810.0 499.1,817.1 494.7,822.3 497.3,827.6 496.5,832.9 490.3,840.0 488.5,848.8 489.4,857.6 491.2,864.7 485.5,873.5 486.2,880.6 485.0,887.6 486.2,892.9 481.5,900.0 479.7,908.8 479.7,917.6 477.1,926.5 476.2,935.3 474.4,944.1 470.9,952.9 463.8,963.5" fill="none" stroke="#ff0000" stroke-width="1.6" stroke-linejoin="round"/>
<polyline points="463.8,767.6 470.0,770.3 474.4,775.6 485.0,784.4 498.2,792.4 508.8,801.2 519.4,813.5 515.9,824.1 518.5,829.4 514.1,838.2 509.7,848.8 514.1,861.2 510.6,871.8 506.2,880.6 496.5,891.2 490.3,903.5 485.9,914.1 477.9,924.7 473.5,937.0 471.8,945.9 463.8,954.7" fill="none" stroke="#808000" stroke-width="1.6" stroke-linejoin="round" stroke-dasharray="5.8,2.5"/>
<polyline points="463.8,772.9 471.8,783.5 477.9,785.3 471.8,792.4 463.8,797.6" fill="none" stroke="#800080" stroke-width="1.6" stroke-linejoin="round" stroke-dasharray="5.8,2.5"/>
<polyline points="466.5,824.1 475.3,827.6 468.2,832.9 475.3,841.8 470.9,846.2 485.9,855.9 486.8,862.9 500.0,868.2 507.9,873.5 504.4,879.7 508.8,886.8 489.4,892.1 492.9,898.2 505.3,905.3 494.7,910.6 489.4,917.6 496.5,922.0 492.9,926.5 492.1,935.3 485.9,944.1 482.4,949.4 470.0,954.7 463.8,959.1" fill="none" stroke="#800080" stroke-width="1.6" stroke-linejoin="round" stroke-dasharray="5.8,2.5"/>
</g>
<rect x="463.5" y="123.5" width="196.0" height="1075.0" fill="none" stroke="#000" stroke-width="1.15"/>
<text x="453.5" y="1203.9" transform="matrix(1 0 0 1.050 0 -60.20)" text-anchor="end">0</text>
<text x="453.5" y="988.9" transform="matrix(1 0 0 1.050 0 -49.45)" text-anchor="end">1</text>
<text x="453.5" y="773.9" transform="matrix(1 0 0 1.050 0 -38.70)" text-anchor="end">2</text>
<text x="453.5" y="558.9" transform="matrix(1 0 0 1.050 0 -27.95)" text-anchor="end">3</text>
<text x="453.5" y="343.9" transform="matrix(1 0 0 1.050 0 -17.20)" text-anchor="end">4</text>
<text x="453.5" y="128.9" transform="matrix(1 0 0 1.050 0 -6.45)" text-anchor="end">5</text>
<text x="467.0" y="1220" transform="matrix(1 0 0 1.050 0 -61.00)" text-anchor="middle">0</text>
<text x="544.0" y="1220" transform="matrix(1 0 0 1.050 0 -61.00)" text-anchor="middle">20</text>
<text x="621.0" y="1220" transform="matrix(1 0 0 1.050 0 -61.00)" text-anchor="middle">40</text>
<path d="M457.4 1198.0h5.6 M660.0 1198.0h5.6 M457.4 983.0h5.6 M660.0 983.0h5.6 M457.4 768.0h5.6 M660.0 768.0h5.6 M457.4 553.0h5.6 M660.0 553.0h5.6 M457.4 338.0h5.6 M660.0 338.0h5.6 M457.4 123.0h5.6 M660.0 123.0h5.6 M467.0 1199.0v5.6 M467.0 117.4v5.6 M544.0 1199.0v5.6 M544.0 117.4v5.6 M621.0 1199.0v5.6 M621.0 117.4v5.6" stroke="#000" stroke-width="2.0" fill="none"/>
<path d="M880.5 123.5V1198.5 M782.5 983.5H977.5 M782.5 768.5H977.5 M782.5 553.5H977.5 M782.5 338.5H977.5" stroke="#b0b0b0" stroke-width="1" fill="none"/>
<g clip-path="url(#c2)">
<polyline points="779.1,129.8 980.6,129.1" fill="none" stroke="#00ffff" stroke-width="1.5" stroke-linejoin="round" stroke-opacity="0.5"/>
<polyline points="779.1,132.8 980.6,132.1" fill="none" stroke="#00ff00" stroke-width="1.5" stroke-linejoin="round" stroke-opacity="0.5"/>
<polyline points="779.1,137.2 980.6,136.5" fill="none" stroke="#00ffff" stroke-width="1.5" stroke-linejoin="round" stroke-opacity="0.5"/>
<polyline points="779.1,140.2 980.6,139.5" fill="none" stroke="#00ff00" stroke-width="1.5" stroke-linejoin="round" stroke-opacity="0.5"/>
<polyline points="779.1,141.8 980.6,141.1" fill="none" stroke="#00ffff" stroke-width="1.5" stroke-linejoin="round" stroke-opacity="0.5"/>
<polyline points="779.1,144.8 980.6,144.1" fill="none" stroke="#00ffff" stroke-width="1.5" stroke-linejoin="round" stroke-opacity="0.5"/>
<polyline points="779.1,147.8 980.6,147.1" fill="none" stroke="#00ff00" stroke-width="1.5" stroke-linejoin="round" stroke-opacity="0.5"/>
<polyline points="779.1,149.0 980.6,148.3" fill="none" stroke="#00ffff" stroke-width="1.5" stroke-linejoin="round" stroke-opacity="0.5"/>
<polyline points="779.1,150.6 980.6,149.9" fill="none" stroke="#00ffff" stroke-width="1.5" stroke-linejoin="round" stroke-opacity="0.5"/>
<polyline points="779.1,155.0 980.6,154.3" fill="none" stroke="#00ff00" stroke-width="1.5" stroke-linejoin="round" stroke-opacity="0.5"/>
<polyline points="779.1,158.5 980.6,157.8" fill="none" stroke="#00ffff" stroke-width="1.5" stroke-linejoin="round" stroke-opacity="0.5"/>
<polyline points="779.1,161.0 980.6,160.3" fill="none" stroke="#00ff00" stroke-width="1.5" stroke-linejoin="round" stroke-opacity="0.5"/>
<polyline points="779.1,164.5 980.6,163.8" fill="none" stroke="#00ff00" stroke-width="1.5" stroke-linejoin="round" stroke-opacity="0.5"/>
<polyline points="779.1,168.1 980.6,167.3" fill="none" stroke="#00ffff" stroke-width="1.5" stroke-linejoin="round" stroke-opacity="0.5"/>
<polyline points="779.1,169.3 980.6,168.6" fill="none" stroke="#00ff00" stroke-width="1.5" stroke-linejoin="round" stroke-opacity="0.5"/>
<polyline points="779.1,170.5 980.6,169.8" fill="none" stroke="#00ffff" stroke-width="1.5" stroke-linejoin="round" stroke-opacity="0.5"/>
<polyline points="779.1,172.1 980.6,171.4" fill="none" stroke="#00ff00" stroke-width="1.5" stroke-linejoin="round" stroke-opacity="0.5"/>
<polyline points="779.1,175.1 980.6,174.4" fill="none" stroke="#00ffff" stroke-width="1.5" stroke-linejoin="round" stroke-opacity="0.5"/>
<polyline points="779.1,177.6 980.6,176.9" fill="none" stroke="#00ffff" stroke-width="1.5" stroke-linejoin="round" stroke-opacity="0.5"/>
<polyline points="779.1,180.6 980.6,179.9" fill="none" stroke="#00ff00" stroke-width="1.5" stroke-linejoin="round" stroke-opacity="0.5"/>
<polyline points="779.1,183.6 980.6,182.9" fill="none" stroke="#00ffff" stroke-width="1.5" stroke-linejoin="round" stroke-opacity="0.5"/>
<polyline points="779.1,185.5 980.6,184.8" fill="none" stroke="#00ffff" stroke-width="1.5" stroke-linejoin="round" stroke-opacity="0.5"/>
<polyline points="779.1,189.1 980.6,188.3" fill="none" stroke="#00ffff" stroke-width="1.5" stroke-linejoin="round" stroke-opacity="0.5"/>
<polyline points="779.1,192.6 980.6,191.9" fill="none" stroke="#00ffff" stroke-width="1.5" stroke-linejoin="round" stroke-opacity="0.5"/>
<polyline points="779.1,195.6 980.6,194.9" fill="none" stroke="#00ff00" stroke-width="1.5" stroke-linejoin="round" stroke-opacity="0.5"/>
<polyline points="779.1,200.0 980.6,199.3" fill="none" stroke="#00ffff" stroke-width="1.5" stroke-linejoin="round" stroke-opacity="0.5"/>
<polyline points="779.1,201.9 980.6,201.2" fill="none" stroke="#00ffff" stroke-width="1.5" stroke-linejoin="round" stroke-opacity="0.5"/>
<polyline points="779.1,203.5 980.6,202.8" fill="none" stroke="#00ffff" stroke-width="1.5" stroke-linejoin="round" stroke-opacity="0.5"/>
<polyline points="779.1,204.8 980.6,204.1" fill="none" stroke="#00ffff" stroke-width="1.5" stroke-linejoin="round" stroke-opacity="0.5"/>
<polyline points="779.1,209.2 980.6,208.5" fill="none" stroke="#00ffff" stroke-width="1.5" stroke-linejoin="round" stroke-opacity="0.5"/>
<polyline points="779.1,210.4 980.6,209.7" fill="none" stroke="#00ff00" stroke-width="1.5" stroke-linejoin="round" stroke-opacity="0.5"/>
<polyline points="779.1,212.9 980.6,212.2" fill="none" stroke="#00ffff" stroke-width="1.5" stroke-linejoin="round" stroke-opacity="0.5"/>
<polyline points="779.1,214.1 980.6,213.4" fill="none" stroke="#00ff00" stroke-width="1.5" stroke-linejoin="round" stroke-opacity="0.5"/>
<polyline points="779.1,215.3 980.6,214.6" fill="none" stroke="#00ffff" stroke-width="1.5" stroke-linejoin="round" stroke-opacity="0.5"/>
<polyline points="779.1,216.6 980.6,215.9" fill="none" stroke="#00ffff" stroke-width="1.5" stroke-linejoin="round" stroke-opacity="0.5"/>
<polyline points="779.1,220.1 980.6,219.4" fill="none" stroke="#00ffff" stroke-width="1.5" stroke-linejoin="round" stroke-opacity="0.5"/>
<polyline points="779.1,221.3 980.6,220.6" fill="none" stroke="#00ff00" stroke-width="1.5" stroke-linejoin="round" stroke-opacity="0.5"/>
<polyline points="779.1,222.9 980.6,222.2" fill="none" stroke="#00ff00" stroke-width="1.5" stroke-linejoin="round" stroke-opacity="0.5"/>
<polyline points="779.1,224.9 980.6,224.2" fill="none" stroke="#00ffff" stroke-width="1.5" stroke-linejoin="round" stroke-opacity="0.5"/>
<polyline points="779.1,226.8 980.6,226.1" fill="none" stroke="#00ffff" stroke-width="1.5" stroke-linejoin="round" stroke-opacity="0.5"/>
<polyline points="779.1,229.3 980.6,228.6" fill="none" stroke="#00ff00" stroke-width="1.5" stroke-linejoin="round" stroke-opacity="0.5"/>
<polyline points="779.1,230.5 980.6,229.8" fill="none" stroke="#00ffff" stroke-width="1.5" stroke-linejoin="round" stroke-opacity="0.5"/>
<polyline points="779.1,234.1 980.6,233.3" fill="none" stroke="#00ffff" stroke-width="1.5" stroke-linejoin="round" stroke-opacity="0.5"/>
<polyline points="779.1,235.3 980.6,234.6" fill="none" stroke="#00ffff" stroke-width="1.5" stroke-linejoin="round" stroke-opacity="0.5"/>
<polyline points="779.1,237.8 980.6,237.1" fill="none" stroke="#00ffff" stroke-width="1.5" stroke-linejoin="round" stroke-opacity="0.5"/>
<polyline points="779.1,240.8 980.6,240.1" fill="none" stroke="#00ffff" stroke-width="1.5" stroke-linejoin="round" stroke-opacity="0.5"/>
<polyline points="779.1,243.8 980.6,243.1" fill="none" stroke="#00ffff" stroke-width="1.5" stroke-linejoin="round" stroke-opacity="0.5"/>
<polyline points="779.1,247.3 980.6,246.6" fill="none" stroke="#00ff00" stroke-width="1.5" stroke-linejoin="round" stroke-opacity="0.5"/>
<polyline points="779.1,249.8 980.6,249.1" fill="none" stroke="#00ff00" stroke-width="1.5" stroke-linejoin="round" stroke-opacity="0.5"/>
<polyline points="779.1,251.0 980.6,250.3" fill="none" stroke="#00ffff" stroke-width="1.5" stroke-linejoin="round" stroke-opacity="0.5"/>
<polyline points="779.1,252.6 980.6,251.9" fill="none" stroke="#00ffff" stroke-width="1.5" stroke-linejoin="round" stroke-opacity="0.5"/>
<polyline points="779.1,257.0 980.6,256.3" fill="none" stroke="#00ff00" stroke-width="1.5" stroke-linejoin="round" stroke-opacity="0.5"/>
<polyline points="779.1,261.4 980.6,260.7" fill="none" stroke="#00ff00" stroke-width="1.5" stroke-linejoin="round" stroke-opacity="0.5"/>
<polyline points="779.1,262.6 980.6,261.9" fill="none" stroke="#00ffff" stroke-width="1.5" stroke-linejoin="round" stroke-opacity="0.5"/>
<polyline points="779.1,265.1 980.6,264.4" fill="none" stroke="#00ff00" stroke-width="1.5" stroke-linejoin="round" stroke-opacity="0.5"/>
<polyline points="779.1,268.1 980.6,267.4" fill="none" stroke="#00ff00" stroke-width="1.5" stroke-linejoin="round" stroke-opacity="0.5"/>
<polyline points="779.1,269.3 980.6,268.6" fill="none" stroke="#00ffff" stroke-width="1.5" stroke-linejoin="round" stroke-opacity="0.5"/>
<polyline points="779.1,270.9 980.6,270.2" fill="none" stroke="#00ffff" stroke-width="1.5" stroke-linejoin="round" stroke-opacity="0.5"/>
<polyline points="779.1,272.9 980.6,272.2" fill="none" stroke="#00ffff" stroke-width="1.5" stroke-linejoin="round" stroke-opacity="0.5"/>
<polyline points="779.1,275.9 980.6,275.2" fill="none" stroke="#00ffff" stroke-width="1.5" stroke-linejoin="round" stroke-opacity="0.5"/>
<polyline points="779.1,277.8 980.6,277.1" fill="none" stroke="#00ffff" stroke-width="1.5" stroke-linejoin="round" stroke-opacity="0.5"/>
<polyline points="779.1,279.0 980.6,278.3" fill="none" stroke="#00ffff" stroke-width="1.5" stroke-linejoin="round" stroke-opacity="0.5"/>
<polyline points="779.1,282.0 980.6,281.3" fill="none" stroke="#00ff00" stroke-width="1.5" stroke-linejoin="round" stroke-opacity="0.5"/>
<polyline points="779.1,283.3 980.6,282.6" fill="none" stroke="#00ff00" stroke-width="1.5" stroke-linejoin="round" stroke-opacity="0.5"/>
<polyline points="779.1,285.2 980.6,284.5" fill="none" stroke="#00ff00" stroke-width="1.5" stroke-linejoin="round" stroke-opacity="0.5"/>
<polyline points="779.1,286.8 980.6,286.1" fill="none" stroke="#00ff00" stroke-width="1.5" stroke-linejoin="round" stroke-opacity="0.5"/>
<polyline points="779.1,289.3 980.6,288.6" fill="none" stroke="#00ff00" stroke-width="1.5" stroke-linejoin="round" stroke-opacity="0.5"/>
<polyline points="779.1,290.9 980.6,290.2" fill="none" stroke="#00ff00" stroke-width="1.5" stroke-linejoin="round" stroke-opacity="0.5"/>
<polyline points="779.1,292.5 980.6,291.8" fill="none" stroke="#00ff00" stroke-width="1.5" stroke-linejoin="round" stroke-opacity="0.5"/>
<polyline points="779.1,294.4 980.6,293.7" fill="none" stroke="#00ff00" stroke-width="1.5" stroke-linejoin="round" stroke-opacity="0.5"/>
<polyline points="779.1,298.8 980.6,298.1" fill="none" stroke="#00ff00" stroke-width="1.5" stroke-linejoin="round" stroke-opacity="0.5"/>
<polyline points="779.1,302.3 980.6,301.6" fill="none" stroke="#00ffff" stroke-width="1.5" stroke-linejoin="round" stroke-opacity="0.5"/>
<polyline points="779.1,305.9 980.6,305.2" fill="none" stroke="#00ff00" stroke-width="1.5" stroke-linejoin="round" stroke-opacity="0.5"/>
<polyline points="779.1,308.9 980.6,308.2" fill="none" stroke="#00ffff" stroke-width="1.5" stroke-linejoin="round" stroke-opacity="0.5"/>
<polyline points="779.1,311.3 980.6,310.6" fill="none" stroke="#00ff00" stroke-width="1.5" stroke-linejoin="round" stroke-opacity="0.5"/>
<polyline points="779.1,314.3 980.6,313.6" fill="none" stroke="#00ffff" stroke-width="1.5" stroke-linejoin="round" stroke-opacity="0.5"/>
<polyline points="779.1,315.6 980.6,314.9" fill="none" stroke="#00ffff" stroke-width="1.5" stroke-linejoin="round" stroke-opacity="0.5"/>
<polyline points="779.1,316.8 980.6,316.1" fill="none" stroke="#00ffff" stroke-width="1.5" stroke-linejoin="round" stroke-opacity="0.5"/>
<polyline points="779.1,318.8 980.6,318.0" fill="none" stroke="#00ffff" stroke-width="1.5" stroke-linejoin="round" stroke-opacity="0.5"/>
<polyline points="779.1,322.3 980.6,321.6" fill="none" stroke="#00ffff" stroke-width="1.5" stroke-linejoin="round" stroke-opacity="0.5"/>
<polyline points="779.1,324.8 980.6,324.0" fill="none" stroke="#00ff00" stroke-width="1.5" stroke-linejoin="round" stroke-opacity="0.5"/>
<polyline points="779.1,327.8 980.6,327.0" fill="none" stroke="#00ffff" stroke-width="1.5" stroke-linejoin="round" stroke-opacity="0.5"/>
<polyline points="779.1,330.8 980.6,330.0" fill="none" stroke="#00ffff" stroke-width="1.5" stroke-linejoin="round" stroke-opacity="0.5"/>
<polyline points="779.1,334.3 980.6,333.6" fill="none" stroke="#00ff00" stroke-width="1.5" stroke-linejoin="round" stroke-opacity="0.5"/>
<polyline points="779.1,335.9 980.6,335.2" fill="none" stroke="#00ffff" stroke-width="1.5" stroke-linejoin="round" stroke-opacity="0.5"/>
<polyline points="779.1,127.8 980.6,127.8" fill="none" stroke="#0000ff" stroke-width="1.6" stroke-linejoin="round"/>
<polyline points="779.1,128.2 980.6,128.2" fill="none" stroke="#0000ff" stroke-width="1.6" stroke-linejoin="round"/>
<polyline points="779.1,128.0 980.6,128.0" fill="none" stroke="#808000" stroke-width="1.6" stroke-linejoin="round" stroke-dasharray="5.8,2.5"/>
<polyline points="779.1,143.0 980.6,142.3" fill="none" stroke="#0000ff" stroke-width="1.6" stroke-linejoin="round"/>
<polyline points="779.1,145.6 980.6,144.9" fill="none" stroke="#0000ff" stroke-width="1.6" stroke-linejoin="round"/>
<polyline points="779.1,155.4 980.6,154.6" fill="none" stroke="#0000ff" stroke-width="1.6" stroke-linejoin="round"/>
<polyline points="779.1,180.1 980.6,179.3" fill="none" stroke="#808000" stroke-width="1.6" stroke-linejoin="round" stroke-dasharray="5.8,2.5"/>
<polyline points="779.1,183.6 980.6,182.9" fill="none" stroke="#808000" stroke-width="1.6" stroke-linejoin="round" stroke-dasharray="5.8,2.5"/>
<polyline points="779.1,190.1 980.6,189.4" fill="none" stroke="#008000" stroke-width="1.6" stroke-linejoin="round"/>
<polyline points="779.1,191.5 980.6,190.8" fill="none" stroke="#008000" stroke-width="1.6" stroke-linejoin="round"/>
<polyline points="779.1,196.8 980.6,196.1" fill="none" stroke="#808000" stroke-width="1.6" stroke-linejoin="round" stroke-dasharray="5.8,2.5"/>
<polyline points="779.1,202.1 980.6,201.4" fill="none" stroke="#808000" stroke-width="1.6" stroke-linejoin="round" stroke-dasharray="5.8,2.5"/>
<polyline points="779.1,204.8 980.6,204.1" fill="none" stroke="#808000" stroke-width="1.6" stroke-linejoin="round" stroke-dasharray="5.8,2.5"/>
<polyline points="779.1,221.5 980.6,220.8" fill="none" stroke="#800080" stroke-width="1.6" stroke-linejoin="round" stroke-dasharray="5.8,2.5"/>
<polyline points="980.6,248.9 952.3,249.4 980.6,249.9" fill="none" stroke="#0000ff" stroke-width="1.6" stroke-linejoin="round"/>
<polyline points="980.6,251.5 927.6,252.1 980.6,252.6" fill="none" stroke="#0000ff" stroke-width="1.6" stroke-linejoin="round"/>
<polyline points="779.1,255.9 980.6,255.2" fill="none" stroke="#ff0000" stroke-width="1.6" stroke-linejoin="round"/>
<polyline points="980.6,258.6 901.2,259.1 980.6,259.6" fill="none" stroke="#0000ff" stroke-width="1.6" stroke-linejoin="round"/>
<polyline points="779.1,261.2 940.0,261.8 779.1,262.3" fill="none" stroke="#ff0000" stroke-width="1.6" stroke-linejoin="round"/>
<polyline points="779.1,263.0 940.0,263.5 779.1,264.0" fill="none" stroke="#ff0000" stroke-width="1.6" stroke-linejoin="round"/>
<polyline points="779.1,282.0 980.6,286.5" fill="none" stroke="#0000ff" stroke-width="1.6" stroke-linejoin="round"/>
<polyline points="980.6,283.3 839.4,283.8 980.6,284.3" fill="none" stroke="#0000ff" stroke-width="1.6" stroke-linejoin="round"/>
<polyline points="779.1,290.3 980.6,289.6" fill="none" stroke="#0000ff" stroke-width="1.6" stroke-linejoin="round"/>
<polyline points="980.6,293.9 954.1,294.4 980.6,294.9" fill="none" stroke="#0000ff" stroke-width="1.6" stroke-linejoin="round"/>
<polyline points="980.6,296.5 962.9,297.0 980.6,297.6" fill="none" stroke="#0000ff" stroke-width="1.6" stroke-linejoin="round"/>
<polyline points="779.1,306.2 922.3,306.8 779.1,307.3" fill="none" stroke="#ff0000" stroke-width="1.6" stroke-linejoin="round"/>
<polyline points="779.1,310.6 980.6,309.9" fill="none" stroke="#ff0000" stroke-width="1.6" stroke-linejoin="round"/>
<polyline points="779.1,310.6 848.2,311.2 779.1,311.7" fill="none" stroke="#800080" stroke-width="1.6" stroke-linejoin="round" stroke-dasharray="5.8,2.5"/>
<polyline points="980.6,314.2 818.2,314.7 980.6,315.2" fill="none" stroke="#800080" stroke-width="1.6" stroke-linejoin="round" stroke-dasharray="5.8,2.5"/>
<polyline points="980.6,316.8 954.1,317.3 980.6,317.9" fill="none" stroke="#008000" stroke-width="1.6" stroke-linejoin="round"/>
<polyline points="980.6,319.5 936.5,320.0 980.6,320.5" fill="none" stroke="#008000" stroke-width="1.6" stroke-linejoin="round"/>
<polyline points="980.6,322.1 918.8,322.6 980.6,323.2" fill="none" stroke="#008000" stroke-width="1.6" stroke-linejoin="round"/>
<polyline points="980.6,324.8 901.2,325.3 980.6,325.8" fill="none" stroke="#008000" stroke-width="1.6" stroke-linejoin="round"/>
<polyline points="980.6,327.4 897.6,327.9 980.6,328.5" fill="none" stroke="#800080" stroke-width="1.6" stroke-linejoin="round" stroke-dasharray="5.8,2.5"/>
<polyline points="980.6,317.7 968.2,318.2 980.6,318.8" fill="none" stroke="#0000ff" stroke-width="1.6" stroke-linejoin="round"/>
<polyline points="980.6,330.0 869.4,330.6 980.6,331.1" fill="none" stroke="#008000" stroke-width="1.6" stroke-linejoin="round"/>
<polyline points="980.6,332.2 830.6,332.7 980.6,333.2" fill="none" stroke="#008000" stroke-width="1.6" stroke-linejoin="round"/>
<polyline points="779.1,345.4 980.6,344.6" fill="none" stroke="#00ffff" stroke-width="1.5" stroke-linejoin="round" stroke-opacity="0.5"/>
<polyline points="779.1,346.2 980.6,345.5" fill="none" stroke="#00ffff" stroke-width="1.5" stroke-linejoin="round" stroke-opacity="0.5"/>
<polyline points="779.1,347.1 980.6,346.4" fill="none" stroke="#00ffff" stroke-width="1.5" stroke-linejoin="round" stroke-opacity="0.5"/>
<polyline points="779.1,349.8 980.6,349.1" fill="none" stroke="#00ffff" stroke-width="1.5" stroke-linejoin="round" stroke-opacity="0.5"/>
<polyline points="779.1,353.3 980.6,352.6" fill="none" stroke="#00ff00" stroke-width="1.5" stroke-linejoin="round" stroke-opacity="0.5"/>
<polyline points="779.1,355.9 980.6,355.2" fill="none" stroke="#00ffff" stroke-width="1.5" stroke-linejoin="round" stroke-opacity="0.5"/>
<polyline points="980.6,357.7 821.8,358.2 980.6,358.8" fill="none" stroke="#00ff00" stroke-width="1.5" stroke-linejoin="round" stroke-opacity="0.5"/>
<polyline points="779.1,360.0 980.6,359.3" fill="none" stroke="#00ff00" stroke-width="1.5" stroke-linejoin="round" stroke-opacity="0.5"/>
<polyline points="779.1,361.2 980.6,360.5" fill="none" stroke="#00ff00" stroke-width="1.5" stroke-linejoin="round" stroke-opacity="0.5"/>
<polyline points="779.1,363.9 980.6,363.2" fill="none" stroke="#00ffff" stroke-width="1.5" stroke-linejoin="round" stroke-opacity="0.5"/>
<polyline points="779.1,365.6 980.6,364.9" fill="none" stroke="#00ff00" stroke-width="1.5" stroke-linejoin="round" stroke-opacity="0.5"/>
<polyline points="779.1,367.4 980.6,366.7" fill="none" stroke="#00ffff" stroke-width="1.5" stroke-linejoin="round" stroke-opacity="0.5"/>
<polyline points="779.1,377.6 980.6,376.9" fill="none" stroke="#00ff00" stroke-width="1.5" stroke-linejoin="round" stroke-opacity="0.5"/>
<polyline points="779.1,383.3 980.6,382.6" fill="none" stroke="#00ff00" stroke-width="1.5" stroke-linejoin="round" stroke-opacity="0.5"/>
<polyline points="779.1,384.7 980.6,384.0" fill="none" stroke="#00ff00" stroke-width="1.5" stroke-linejoin="round" stroke-opacity="0.5"/>
<polyline points="779.1,385.9 980.6,385.2" fill="none" stroke="#00ff00" stroke-width="1.5" stroke-linejoin="round" stroke-opacity="0.5"/>
<polyline points="779.1,386.8 980.6,386.1" fill="none" stroke="#00ffff" stroke-width="1.5" stroke-linejoin="round" stroke-opacity="0.5"/>
<polyline points="779.1,392.1 980.6,391.4" fill="none" stroke="#00ff00" stroke-width="1.5" stroke-linejoin="round" stroke-opacity="0.5"/>
<polyline points="779.1,394.2 980.6,393.5" fill="none" stroke="#00ffff" stroke-width="1.5" stroke-linejoin="round" stroke-opacity="0.5"/>
<polyline points="779.1,426.5 980.6,425.8" fill="none" stroke="#00ff00" stroke-width="1.5" stroke-linejoin="round" stroke-opacity="0.5"/>
<polyline points="779.1,448.1 901.2,448.6 779.1,449.1" fill="none" stroke="#00ff00" stroke-width="1.5" stroke-linejoin="round" stroke-opacity="0.5"/>
<polyline points="779.1,462.7 980.6,462.0" fill="none" stroke="#00ffff" stroke-width="1.5" stroke-linejoin="round" stroke-opacity="0.5"/>
<polyline points="779.1,466.2 980.6,465.5" fill="none" stroke="#00ff00" stroke-width="1.5" stroke-linejoin="round" stroke-opacity="0.5"/>
<polyline points="779.1,469.8 980.6,469.1" fill="none" stroke="#00ff00" stroke-width="1.5" stroke-linejoin="round" stroke-opacity="0.5"/>
<polyline points="779.1,471.5 980.6,470.8" fill="none" stroke="#00ffff" stroke-width="1.5" stroke-linejoin="round" stroke-opacity="0.5"/>
<polyline points="779.1,490.9 980.6,490.2" fill="none" stroke="#00ffff" stroke-width="1.5" stroke-linejoin="round" stroke-opacity="0.5"/>
<polyline points="779.1,493.6 980.6,492.9" fill="none" stroke="#00ffff" stroke-width="1.5" stroke-linejoin="round" stroke-opacity="0.5"/>
<polyline points="779.1,504.2 980.6,503.5" fill="none" stroke="#00ffff" stroke-width="1.5" stroke-linejoin="round" stroke-opacity="0.5"/>
<polyline points="779.1,506.8 980.6,506.1" fill="none" stroke="#00ffff" stroke-width="1.5" stroke-linejoin="round" stroke-opacity="0.5"/>
<polyline points="779.1,508.6 980.6,507.9" fill="none" stroke="#00ff00" stroke-width="1.5" stroke-linejoin="round" stroke-opacity="0.5"/>
<polyline points="779.1,528.9 980.6,528.2" fill="none" stroke="#00ffff" stroke-width="1.5" stroke-linejoin="round" stroke-opacity="0.5"/>
<polyline points="779.1,531.5 980.6,530.8" fill="none" stroke="#00ffff" stroke-width="1.5" stroke-linejoin="round" stroke-opacity="0.5"/>
<polyline points="779.1,543.9 980.6,543.2" fill="none" stroke="#00ff00" stroke-width="1.5" stroke-linejoin="round" stroke-opacity="0.5"/>
<polyline points="779.1,546.5 980.6,545.8" fill="none" stroke="#00ffff" stroke-width="1.5" stroke-linejoin="round" stroke-opacity="0.5"/>
<polyline points="779.1,549.2 980.6,548.5" fill="none" stroke="#00ff00" stroke-width="1.5" stroke-linejoin="round" stroke-opacity="0.5"/>
<polyline points="980.6,337.4 805.9,337.9 980.6,338.5" fill="none" stroke="#008000" stroke-width="1.6" stroke-linejoin="round"/>
<polyline points="980.6,337.8 906.5,338.3 980.6,338.8" fill="none" stroke="#ff0000" stroke-width="1.6" stroke-linejoin="round"/>
<polyline points="779.1,341.3 980.6,340.6" fill="none" stroke="#ff0000" stroke-width="1.6" stroke-linejoin="round"/>
<polyline points="980.6,342.2 821.8,342.7 980.6,343.2" fill="none" stroke="#800080" stroke-width="1.6" stroke-linejoin="round" stroke-dasharray="5.8,2.5"/>
<polyline points="980.6,342.9 821.8,343.4 980.6,343.9" fill="none" stroke="#800080" stroke-width="1.6" stroke-linejoin="round" stroke-dasharray="5.8,2.5"/>
<polyline points="779.1,401.5 980.6,399.7" fill="none" stroke="#800080" stroke-width="1.6" stroke-linejoin="round" stroke-dasharray="5.8,2.5"/>
<polyline points="779.1,404.8 980.6,404.1" fill="none" stroke="#800080" stroke-width="1.6" stroke-linejoin="round" stroke-dasharray="5.8,2.5"/>
<polyline points="779.1,408.0 980.6,405.9" fill="none" stroke="#800080" stroke-width="1.6" stroke-linejoin="round" stroke-dasharray="5.8,2.5"/>
<polyline points="779.1,415.6 980.6,414.9" fill="none" stroke="#800080" stroke-width="1.6" stroke-linejoin="round" stroke-dasharray="5.8,2.5"/>
<polyline points="779.1,424.1 980.6,422.1" fill="none" stroke="#800080" stroke-width="1.6" stroke-linejoin="round" stroke-dasharray="5.8,2.5"/>
<polyline points="779.1,429.2 980.6,430.2" fill="none" stroke="#800080" stroke-width="1.6" stroke-linejoin="round" stroke-dasharray="5.8,2.5"/>
<polyline points="980.6,435.9 915.3,436.4 980.6,436.9" fill="none" stroke="#800080" stroke-width="1.6" stroke-linejoin="round" stroke-dasharray="5.8,2.5"/>
<polyline points="980.6,437.1 915.3,437.6 980.6,438.2" fill="none" stroke="#800080" stroke-width="1.6" stroke-linejoin="round" stroke-dasharray="5.8,2.5"/>
<polyline points="980.6,438.5 855.3,439.1 980.6,439.6" fill="none" stroke="#800080" stroke-width="1.6" stroke-linejoin="round" stroke-dasharray="5.8,2.5"/>
<polyline points="779.1,440.3 980.6,439.6" fill="none" stroke="#0000ff" stroke-width="1.6" stroke-linejoin="round"/>
<polyline points="980.6,440.3 918.8,440.8 980.6,441.3" fill="none" stroke="#800080" stroke-width="1.6" stroke-linejoin="round" stroke-dasharray="5.8,2.5"/>
<polyline points="779.1,443.3 980.6,442.6" fill="none" stroke="#800080" stroke-width="1.6" stroke-linejoin="round" stroke-dasharray="5.8,2.5"/>
<polyline points="779.1,445.1 871.2,445.6 779.1,446.1" fill="none" stroke="#808000" stroke-width="1.6" stroke-linejoin="round" stroke-dasharray="5.8,2.5"/>
<polyline points="779.1,446.8 980.6,446.1" fill="none" stroke="#800080" stroke-width="1.6" stroke-linejoin="round" stroke-dasharray="5.8,2.5"/>
<polyline points="980.6,450.3 950.6,450.9 980.6,451.4" fill="none" stroke="#800080" stroke-width="1.6" stroke-linejoin="round" stroke-dasharray="5.8,2.5"/>
<polyline points="779.1,455.3 980.6,454.6" fill="none" stroke="#800080" stroke-width="1.6" stroke-linejoin="round" stroke-dasharray="5.8,2.5"/>
<polyline points="779.1,456.3 980.6,455.6" fill="none" stroke="#800080" stroke-width="1.6" stroke-linejoin="round" stroke-dasharray="5.8,2.5"/>
<polyline points="779.1,457.4 980.6,458.1" fill="none" stroke="#800080" stroke-width="1.6" stroke-linejoin="round" stroke-dasharray="5.8,2.5"/>
<polyline points="779.1,457.8 814.7,458.3 779.1,458.8" fill="none" stroke="#808000" stroke-width="1.6" stroke-linejoin="round" stroke-dasharray="5.8,2.5"/>
<polyline points="980.6,472.1 943.5,472.6 980.6,473.1" fill="none" stroke="#800080" stroke-width="1.6" stroke-linejoin="round" stroke-dasharray="5.8,2.5"/>
<polyline points="779.1,475.6 869.4,476.1 779.1,476.6" fill="none" stroke="#808000" stroke-width="1.6" stroke-linejoin="round" stroke-dasharray="5.8,2.5"/>
<polyline points="786.5,477.5 816.5,477.9 791.8,478.4" fill="none" stroke="#808000" stroke-width="1.6" stroke-linejoin="round" stroke-dasharray="5.8,2.5"/>
<polyline points="779.1,478.6 980.6,477.9" fill="none" stroke="#0000ff" stroke-width="1.6" stroke-linejoin="round"/>
<polyline points="779.1,479.6 980.6,478.9" fill="none" stroke="#0000ff" stroke-width="1.6" stroke-linejoin="round"/>
<polyline points="779.1,480.7 980.6,480.0" fill="none" stroke="#0000ff" stroke-width="1.6" stroke-linejoin="round"/>
<polyline points="779.1,483.0 980.6,482.3" fill="none" stroke="#0000ff" stroke-width="1.6" stroke-linejoin="round"/>
<polyline points="779.1,485.6 980.6,484.9" fill="none" stroke="#0000ff" stroke-width="1.6" stroke-linejoin="round"/>
<polyline points="779.1,487.0 980.6,486.3" fill="none" stroke="#ff0000" stroke-width="1.6" stroke-linejoin="round"/>
<polyline points="779.1,488.3 980.6,487.6" fill="none" stroke="#008000" stroke-width="1.6" stroke-linejoin="round"/>
<polyline points="980.6,495.3 809.4,495.9 980.6,496.4" fill="none" stroke="#008000" stroke-width="1.6" stroke-linejoin="round"/>
<polyline points="980.6,496.2 864.1,496.8 980.6,497.3" fill="none" stroke="#ff0000" stroke-width="1.6" stroke-linejoin="round"/>
<polyline points="779.1,498.9 980.6,498.2" fill="none" stroke="#ff0000" stroke-width="1.6" stroke-linejoin="round"/>
<polyline points="779.1,499.9 839.4,500.5 779.1,501.0" fill="none" stroke="#ff0000" stroke-width="1.6" stroke-linejoin="round"/>
<polyline points="779.1,501.0 839.4,501.5 779.1,502.0" fill="none" stroke="#ff0000" stroke-width="1.6" stroke-linejoin="round"/>
<polyline points="779.1,511.2 980.6,510.5" fill="none" stroke="#ff0000" stroke-width="1.6" stroke-linejoin="round"/>
<polyline points="779.1,514.4 980.6,513.5" fill="none" stroke="#008000" stroke-width="1.6" stroke-linejoin="round"/>
<polyline points="779.1,519.7 980.6,515.6" fill="none" stroke="#ff0000" stroke-width="1.6" stroke-linejoin="round"/>
<polyline points="786.5,517.0 980.6,516.2" fill="none" stroke="#ff0000" stroke-width="1.6" stroke-linejoin="round"/>
<polyline points="779.1,524.5 980.6,523.8" fill="none" stroke="#800080" stroke-width="1.6" stroke-linejoin="round" stroke-dasharray="5.8,2.5"/>
<polyline points="779.1,534.2 980.6,533.5" fill="none" stroke="#0000ff" stroke-width="1.6" stroke-linejoin="round"/>
<polyline points="779.1,535.4 980.6,534.7" fill="none" stroke="#ff0000" stroke-width="1.6" stroke-linejoin="round"/>
<polyline points="779.1,536.5 980.6,535.8" fill="none" stroke="#ff0000" stroke-width="1.6" stroke-linejoin="round"/>
<polyline points="779.1,539.5 818.2,540.0 779.1,540.5" fill="none" stroke="#ff0000" stroke-width="1.6" stroke-linejoin="round"/>
<polyline points="779.1,554.5 980.6,553.8" fill="none" stroke="#ff0000" stroke-width="1.6" stroke-linejoin="round"/>
<polyline points="779.1,555.3 980.6,554.6" fill="none" stroke="#ff0000" stroke-width="1.6" stroke-linejoin="round"/>
<polyline points="779.1,560.6 980.6,559.9" fill="none" stroke="#800080" stroke-width="1.6" stroke-linejoin="round" stroke-dasharray="5.8,2.5"/>
<polyline points="779.1,564.2 980.6,563.5" fill="none" stroke="#800080" stroke-width="1.6" stroke-linejoin="round" stroke-dasharray="5.8,2.5"/>
<polyline points="779.1,565.9 980.6,565.2" fill="none" stroke="#0000ff" stroke-width="1.6" stroke-linejoin="round"/>
<polyline points="779.1,567.7 980.6,567.0" fill="none" stroke="#800080" stroke-width="1.6" stroke-linejoin="round" stroke-dasharray="5.8,2.5"/>
<polyline points="779.1,542.1 980.6,541.4" fill="none" stroke="#00ffff" stroke-width="1.5" stroke-linejoin="round" stroke-opacity="0.5"/>
<polyline points="779.1,543.9 980.6,543.2" fill="none" stroke="#00ff00" stroke-width="1.5" stroke-linejoin="round" stroke-opacity="0.5"/>
<polyline points="779.1,552.7 980.6,552.0" fill="none" stroke="#00ff00" stroke-width="1.5" stroke-linejoin="round" stroke-opacity="0.5"/>
<polyline points="779.1,558.0 980.6,557.3" fill="none" stroke="#00ff00" stroke-width="1.5" stroke-linejoin="round" stroke-opacity="0.5"/>
<polyline points="779.1,567.7 980.6,567.0" fill="none" stroke="#00ff00" stroke-width="1.5" stroke-linejoin="round" stroke-opacity="0.5"/>
<polyline points="779.1,568.6 980.6,567.9" fill="none" stroke="#00ff00" stroke-width="1.5" stroke-linejoin="round" stroke-opacity="0.5"/>
<polyline points="779.1,569.5 980.6,568.8" fill="none" stroke="#00ff00" stroke-width="1.5" stroke-linejoin="round" stroke-opacity="0.5"/>
<polyline points="779.1,570.4 980.6,569.6" fill="none" stroke="#00ff00" stroke-width="1.5" stroke-linejoin="round" stroke-opacity="0.5"/>
<polyline points="779.1,573.0 980.6,572.3" fill="none" stroke="#00ffff" stroke-width="1.5" stroke-linejoin="round" stroke-opacity="0.5"/>
<polyline points="779.1,580.1 980.6,579.4" fill="none" stroke="#00ffff" stroke-width="1.5" stroke-linejoin="round" stroke-opacity="0.5"/>
<polyline points="779.1,595.1 980.6,594.3" fill="none" stroke="#00ffff" stroke-width="1.5" stroke-linejoin="round" stroke-opacity="0.5"/>
<polyline points="779.1,607.4 980.6,606.7" fill="none" stroke="#00ffff" stroke-width="1.5" stroke-linejoin="round" stroke-opacity="0.5"/>
<polyline points="779.1,619.8 980.6,619.1" fill="none" stroke="#00ffff" stroke-width="1.5" stroke-linejoin="round" stroke-opacity="0.5"/>
<polyline points="779.1,623.3 980.6,622.6" fill="none" stroke="#00ffff" stroke-width="1.5" stroke-linejoin="round" stroke-opacity="0.5"/>
<polyline points="779.1,632.1 980.6,631.4" fill="none" stroke="#00ff00" stroke-width="1.5" stroke-linejoin="round" stroke-opacity="0.5"/>
<polyline points="779.1,636.5 980.6,635.8" fill="none" stroke="#00ffff" stroke-width="1.5" stroke-linejoin="round" stroke-opacity="0.5"/>
<polyline points="779.1,639.2 980.6,638.5" fill="none" stroke="#00ff00" stroke-width="1.5" stroke-linejoin="round" stroke-opacity="0.5"/>
<polyline points="779.1,655.1 980.6,654.3" fill="none" stroke="#00ffff" stroke-width="1.5" stroke-linejoin="round" stroke-opacity="0.5"/>
<polyline points="779.1,656.8 980.6,656.1" fill="none" stroke="#00ffff" stroke-width="1.5" stroke-linejoin="round" stroke-opacity="0.5"/>
<polyline points="779.1,659.5 980.6,658.8" fill="none" stroke="#00ff00" stroke-width="1.5" stroke-linejoin="round" stroke-opacity="0.5"/>
<polyline points="779.1,661.2 980.6,660.5" fill="none" stroke="#00ff00" stroke-width="1.5" stroke-linejoin="round" stroke-opacity="0.5"/>
<polyline points="779.1,663.9 980.6,663.2" fill="none" stroke="#00ffff" stroke-width="1.5" stroke-linejoin="round" stroke-opacity="0.5"/>
<polyline points="779.1,668.3 980.6,667.6" fill="none" stroke="#00ff00" stroke-width="1.5" stroke-linejoin="round" stroke-opacity="0.5"/>
<polyline points="779.1,671.8 980.6,671.1" fill="none" stroke="#00ff00" stroke-width="1.5" stroke-linejoin="round" stroke-opacity="0.5"/>
<polyline points="779.1,674.5 980.6,673.8" fill="none" stroke="#00ffff" stroke-width="1.5" stroke-linejoin="round" stroke-opacity="0.5"/>
<polyline points="779.1,677.1 980.6,676.4" fill="none" stroke="#00ff00" stroke-width="1.5" stroke-linejoin="round" stroke-opacity="0.5"/>
<polyline points="779.1,678.9 980.6,678.2" fill="none" stroke="#00ffff" stroke-width="1.5" stroke-linejoin="round" stroke-opacity="0.5"/>
<polyline points="779.1,695.6 980.6,694.9" fill="none" stroke="#00ff00" stroke-width="1.5" stroke-linejoin="round" stroke-opacity="0.5"/>
<polyline points="779.1,698.3 980.6,697.6" fill="none" stroke="#00ff00" stroke-width="1.5" stroke-linejoin="round" stroke-opacity="0.5"/>
<polyline points="779.1,699.2 947.0,699.7 779.1,700.2" fill="none" stroke="#00ff00" stroke-width="1.5" stroke-linejoin="round" stroke-opacity="0.5"/>
<polyline points="779.1,701.8 980.6,701.1" fill="none" stroke="#00ffff" stroke-width="1.5" stroke-linejoin="round" stroke-opacity="0.5"/>
<polyline points="779.1,702.7 838.5,703.2 779.1,703.8" fill="none" stroke="#00ffff" stroke-width="1.5" stroke-linejoin="round" stroke-opacity="0.5"/>
<polyline points="779.1,703.6 838.5,704.1 779.1,704.6" fill="none" stroke="#00ffff" stroke-width="1.5" stroke-linejoin="round" stroke-opacity="0.5"/>
<polyline points="779.1,704.5 838.5,705.0 779.1,705.5" fill="none" stroke="#00ffff" stroke-width="1.5" stroke-linejoin="round" stroke-opacity="0.5"/>
<polyline points="779.1,705.3 838.5,705.9 779.1,706.4" fill="none" stroke="#00ffff" stroke-width="1.5" stroke-linejoin="round" stroke-opacity="0.5"/>
<polyline points="779.1,707.1 980.6,706.4" fill="none" stroke="#00ffff" stroke-width="1.5" stroke-linejoin="round" stroke-opacity="0.5"/>
<polyline points="779.1,709.8 980.6,709.0" fill="none" stroke="#00ffff" stroke-width="1.5" stroke-linejoin="round" stroke-opacity="0.5"/>
<polyline points="779.1,712.4 980.6,711.7" fill="none" stroke="#00ffff" stroke-width="1.5" stroke-linejoin="round" stroke-opacity="0.5"/>
<polyline points="779.1,714.2 980.6,713.5" fill="none" stroke="#00ff00" stroke-width="1.5" stroke-linejoin="round" stroke-opacity="0.5"/>
<polyline points="779.1,716.8 980.6,716.1" fill="none" stroke="#00ff00" stroke-width="1.5" stroke-linejoin="round" stroke-opacity="0.5"/>
<polyline points="779.1,722.1 980.6,721.4" fill="none" stroke="#00ff00" stroke-width="1.5" stroke-linejoin="round" stroke-opacity="0.5"/>
<polyline points="779.1,723.9 980.6,723.2" fill="none" stroke="#00ff00" stroke-width="1.5" stroke-linejoin="round" stroke-opacity="0.5"/>
<polyline points="779.1,724.8 980.6,724.0" fill="none" stroke="#00ffff" stroke-width="1.5" stroke-linejoin="round" stroke-opacity="0.5"/>
<polyline points="779.1,729.2 980.6,728.5" fill="none" stroke="#00ffff" stroke-width="1.5" stroke-linejoin="round" stroke-opacity="0.5"/>
<polyline points="779.1,738.0 980.6,737.3" fill="none" stroke="#00ffff" stroke-width="1.5" stroke-linejoin="round" stroke-opacity="0.5"/>
<polyline points="779.1,741.5 980.6,740.8" fill="none" stroke="#00ffff" stroke-width="1.5" stroke-linejoin="round" stroke-opacity="0.5"/>
<polyline points="779.1,751.2 867.6,751.8 779.1,752.3" fill="none" stroke="#00ff00" stroke-width="1.5" stroke-linejoin="round" stroke-opacity="0.5"/>
<polyline points="779.1,753.5 980.6,752.8" fill="none" stroke="#00ff00" stroke-width="1.5" stroke-linejoin="round" stroke-opacity="0.5"/>
<polyline points="779.1,763.6 980.6,762.9" fill="none" stroke="#00ffff" stroke-width="1.5" stroke-linejoin="round" stroke-opacity="0.5"/>
<polyline points="779.1,766.2 980.6,765.5" fill="none" stroke="#00ffff" stroke-width="1.5" stroke-linejoin="round" stroke-opacity="0.5"/>
<polyline points="779.1,771.5 980.6,770.8" fill="none" stroke="#00ffff" stroke-width="1.5" stroke-linejoin="round" stroke-opacity="0.5"/>
<polyline points="779.1,775.0 980.6,774.3" fill="none" stroke="#00ffff" stroke-width="1.5" stroke-linejoin="round" stroke-opacity="0.5"/>
<polyline points="779.1,777.7 980.6,777.0" fill="none" stroke="#00ffff" stroke-width="1.5" stroke-linejoin="round" stroke-opacity="0.5"/>
<polyline points="779.1,539.5 818.2,540.0 779.1,540.5" fill="none" stroke="#ff0000" stroke-width="1.6" stroke-linejoin="round"/>
<polyline points="779.1,553.6 980.6,552.9" fill="none" stroke="#ff0000" stroke-width="1.6" stroke-linejoin="round"/>
<polyline points="779.1,554.8 980.6,554.1" fill="none" stroke="#ff0000" stroke-width="1.6" stroke-linejoin="round"/>
<polyline points="779.1,560.3 980.6,559.6" fill="none" stroke="#800080" stroke-width="1.6" stroke-linejoin="round" stroke-dasharray="5.8,2.5"/>
<polyline points="779.1,563.3 980.6,562.6" fill="none" stroke="#800080" stroke-width="1.6" stroke-linejoin="round" stroke-dasharray="5.8,2.5"/>
<polyline points="779.1,565.9 980.6,565.2" fill="none" stroke="#0000ff" stroke-width="1.6" stroke-linejoin="round"/>
<polyline points="779.1,565.6 835.9,566.1 779.1,566.6" fill="none" stroke="#800080" stroke-width="1.6" stroke-linejoin="round" stroke-dasharray="5.8,2.5"/>
<polyline points="835.9,567.9 855.3,568.2 841.2,568.8" fill="none" stroke="#800080" stroke-width="1.6" stroke-linejoin="round" stroke-dasharray="5.8,2.5"/>
<polyline points="779.1,570.4 872.9,570.9 779.1,571.4" fill="none" stroke="#800080" stroke-width="1.6" stroke-linejoin="round" stroke-dasharray="5.8,2.5"/>
<polyline points="779.1,573.0 821.8,573.5 779.1,574.1" fill="none" stroke="#800080" stroke-width="1.6" stroke-linejoin="round" stroke-dasharray="5.8,2.5"/>
<polyline points="779.1,575.3 980.6,574.6" fill="none" stroke="#0000ff" stroke-width="1.6" stroke-linejoin="round"/>
<polyline points="779.1,575.6 796.2,576.2 779.1,576.7" fill="none" stroke="#808000" stroke-width="1.6" stroke-linejoin="round" stroke-dasharray="5.8,2.5"/>
<polyline points="797.1,578.1 806.8,578.5 802.4,579.0" fill="none" stroke="#808000" stroke-width="1.6" stroke-linejoin="round" stroke-dasharray="5.8,2.5"/>
<polyline points="980.6,577.9 968.2,578.5 980.6,579.0" fill="none" stroke="#008000" stroke-width="1.6" stroke-linejoin="round"/>
<polyline points="779.1,582.4 980.6,583.2" fill="none" stroke="#808000" stroke-width="1.6" stroke-linejoin="round" stroke-dasharray="5.8,2.5"/>
<polyline points="913.5,584.1 980.6,580.9" fill="none" stroke="#008000" stroke-width="1.6" stroke-linejoin="round"/>
<polyline points="779.1,586.6 980.6,585.9" fill="none" stroke="#0000ff" stroke-width="1.6" stroke-linejoin="round"/>
<polyline points="779.1,587.3 980.6,586.6" fill="none" stroke="#ff0000" stroke-width="1.6" stroke-linejoin="round"/>
<polyline points="779.1,587.1 954.1,587.6 779.1,588.2" fill="none" stroke="#800080" stroke-width="1.6" stroke-linejoin="round" stroke-dasharray="5.8,2.5"/>
<polyline points="779.1,589.1 980.6,588.4" fill="none" stroke="#808000" stroke-width="1.6" stroke-linejoin="round" stroke-dasharray="5.8,2.5"/>
<polyline points="918.8,591.2 980.6,590.3" fill="none" stroke="#808000" stroke-width="1.6" stroke-linejoin="round" stroke-dasharray="5.8,2.5"/>
<polyline points="779.1,593.3 980.6,592.6" fill="none" stroke="#ff0000" stroke-width="1.6" stroke-linejoin="round"/>
<polyline points="779.1,594.0 980.6,592.9" fill="none" stroke="#808000" stroke-width="1.6" stroke-linejoin="round" stroke-dasharray="5.8,2.5"/>
<polyline points="811.2,596.1 853.5,596.5 816.5,597.0" fill="none" stroke="#808000" stroke-width="1.6" stroke-linejoin="round" stroke-dasharray="5.8,2.5"/>
<polyline points="980.6,596.3 858.8,596.8 980.6,597.3" fill="none" stroke="#008000" stroke-width="1.6" stroke-linejoin="round"/>
<polyline points="980.6,597.7 848.2,598.2 980.6,598.8" fill="none" stroke="#0000ff" stroke-width="1.6" stroke-linejoin="round"/>
<polyline points="980.6,598.6 837.6,599.1 980.6,599.6" fill="none" stroke="#0000ff" stroke-width="1.6" stroke-linejoin="round"/>
<polyline points="980.6,599.8 858.8,600.3 980.6,600.9" fill="none" stroke="#008000" stroke-width="1.6" stroke-linejoin="round"/>
<polyline points="821.8,601.4 851.8,601.8 827.1,602.3" fill="none" stroke="#808000" stroke-width="1.6" stroke-linejoin="round" stroke-dasharray="5.8,2.5"/>
<polyline points="980.6,602.1 797.9,602.6 980.6,603.2" fill="none" stroke="#008000" stroke-width="1.6" stroke-linejoin="round"/>
<polyline points="980.6,602.6 821.8,603.2 980.6,603.7" fill="none" stroke="#ff0000" stroke-width="1.6" stroke-linejoin="round"/>
<polyline points="980.6,604.1 848.2,604.6 980.6,605.1" fill="none" stroke="#ff0000" stroke-width="1.6" stroke-linejoin="round"/>
<polyline points="901.2,606.2 980.6,607.9" fill="none" stroke="#808000" stroke-width="1.6" stroke-linejoin="round" stroke-dasharray="5.8,2.5"/>
<polyline points="779.1,609.2 835.9,609.7 779.1,610.2" fill="none" stroke="#800080" stroke-width="1.6" stroke-linejoin="round" stroke-dasharray="5.8,2.5"/>
<polyline points="852.6,609.9 940.0,610.2 857.9,610.8" fill="none" stroke="#008000" stroke-width="1.6" stroke-linejoin="round"/>
<polyline points="980.6,609.3 958.5,609.9 980.6,610.4" fill="none" stroke="#ff0000" stroke-width="1.6" stroke-linejoin="round"/>
<polyline points="980.6,610.8 958.5,611.3 980.6,611.8" fill="none" stroke="#ff0000" stroke-width="1.6" stroke-linejoin="round"/>
<polyline points="980.6,611.8 842.9,612.3 980.6,612.9" fill="none" stroke="#0000ff" stroke-width="1.6" stroke-linejoin="round"/>
<polyline points="779.1,612.2 818.2,612.7 779.1,613.2" fill="none" stroke="#800080" stroke-width="1.6" stroke-linejoin="round" stroke-dasharray="5.8,2.5"/>
<polyline points="842.9,613.8 934.7,614.1 848.2,614.6" fill="none" stroke="#008000" stroke-width="1.6" stroke-linejoin="round"/>
<polyline points="858.8,615.2 971.8,615.5 864.1,616.1" fill="none" stroke="#ff0000" stroke-width="1.6" stroke-linejoin="round"/>
<polyline points="779.1,616.2 887.1,616.8 779.1,617.3" fill="none" stroke="#ff0000" stroke-width="1.6" stroke-linejoin="round"/>
<polyline points="779.1,617.1 888.8,617.6 779.1,618.2" fill="none" stroke="#0000ff" stroke-width="1.6" stroke-linejoin="round"/>
<polyline points="887.1,623.8 980.6,620.3" fill="none" stroke="#808000" stroke-width="1.6" stroke-linejoin="round" stroke-dasharray="5.8,2.5"/>
<polyline points="779.1,625.4 883.5,625.9 779.1,626.5" fill="none" stroke="#800080" stroke-width="1.6" stroke-linejoin="round" stroke-dasharray="5.8,2.5"/>
<polyline points="853.5,627.0 883.5,627.3 858.8,627.9" fill="none" stroke="#800080" stroke-width="1.6" stroke-linejoin="round" stroke-dasharray="5.8,2.5"/>
<polyline points="887.1,626.1 908.2,626.5 892.3,627.0" fill="none" stroke="#808000" stroke-width="1.6" stroke-linejoin="round" stroke-dasharray="5.8,2.5"/>
<polyline points="846.5,629.6 940.0,630.0 851.8,630.5" fill="none" stroke="#800080" stroke-width="1.6" stroke-linejoin="round" stroke-dasharray="5.8,2.5"/>
<polyline points="897.6,630.0 918.8,630.3 902.9,630.9" fill="none" stroke="#808000" stroke-width="1.6" stroke-linejoin="round" stroke-dasharray="5.8,2.5"/>
<polyline points="883.5,632.3 950.6,632.6 888.8,633.2" fill="none" stroke="#808000" stroke-width="1.6" stroke-linejoin="round" stroke-dasharray="5.8,2.5"/>
<polyline points="883.5,634.9 973.5,635.3 888.8,635.8" fill="none" stroke="#800080" stroke-width="1.6" stroke-linejoin="round" stroke-dasharray="5.8,2.5"/>
<polyline points="833.2,636.3 950.6,636.7 838.5,637.2" fill="none" stroke="#800080" stroke-width="1.6" stroke-linejoin="round" stroke-dasharray="5.8,2.5"/>
<polyline points="865.9,638.5 936.5,638.8 871.2,639.3" fill="none" stroke="#808000" stroke-width="1.6" stroke-linejoin="round" stroke-dasharray="5.8,2.5"/>
<polyline points="779.1,644.5 883.5,640.6" fill="none" stroke="#808000" stroke-width="1.6" stroke-linejoin="round" stroke-dasharray="5.8,2.5"/>
<polyline points="880.0,642.3 980.6,645.2" fill="none" stroke="#800080" stroke-width="1.6" stroke-linejoin="round" stroke-dasharray="5.8,2.5"/>
<polyline points="779.1,646.2 980.6,645.5" fill="none" stroke="#0000ff" stroke-width="1.6" stroke-linejoin="round"/>
<polyline points="779.1,646.1 827.1,646.6 779.1,647.1" fill="none" stroke="#ff0000" stroke-width="1.6" stroke-linejoin="round"/>
<polyline points="779.1,648.0 980.6,647.3" fill="none" stroke="#ff0000" stroke-width="1.6" stroke-linejoin="round"/>
<polyline points="779.1,648.3 980.6,647.6" fill="none" stroke="#0000ff" stroke-width="1.6" stroke-linejoin="round"/>
<polyline points="779.1,649.2 980.6,648.5" fill="none" stroke="#800080" stroke-width="1.6" stroke-linejoin="round" stroke-dasharray="5.8,2.5"/>
<polyline points="779.1,649.8 917.0,650.3 779.1,650.8" fill="none" stroke="#800080" stroke-width="1.6" stroke-linejoin="round" stroke-dasharray="5.8,2.5"/>
<polyline points="872.9,650.3 917.0,650.6 878.2,651.2" fill="none" stroke="#008000" stroke-width="1.6" stroke-linejoin="round"/>
<polyline points="980.6,651.5 800.6,652.1 980.6,652.6" fill="none" stroke="#ff0000" stroke-width="1.6" stroke-linejoin="round"/>
<polyline points="779.1,652.8 800.6,653.3 779.1,653.8" fill="none" stroke="#800080" stroke-width="1.6" stroke-linejoin="round" stroke-dasharray="5.8,2.5"/>
<polyline points="779.1,656.8 788.2,657.3 779.1,657.9" fill="none" stroke="#ff0000" stroke-width="1.6" stroke-linejoin="round"/>
<polyline points="779.1,662.6 848.2,663.5" fill="none" stroke="#800080" stroke-width="1.6" stroke-linejoin="round" stroke-dasharray="5.8,2.5"/>
<polyline points="779.1,665.6 821.8,666.2 779.1,666.7" fill="none" stroke="#800080" stroke-width="1.6" stroke-linejoin="round" stroke-dasharray="5.8,2.5"/>
<polyline points="779.1,669.7 919.7,670.2 779.1,670.8" fill="none" stroke="#800080" stroke-width="1.6" stroke-linejoin="round" stroke-dasharray="5.8,2.5"/>
<polyline points="779.1,671.8 821.8,672.3 779.1,672.9" fill="none" stroke="#ff0000" stroke-width="1.6" stroke-linejoin="round"/>
<polyline points="827.1,672.3 842.9,672.7 832.3,673.2" fill="none" stroke="#800080" stroke-width="1.6" stroke-linejoin="round" stroke-dasharray="5.8,2.5"/>
<polyline points="779.1,674.5 823.5,675.0 779.1,675.5" fill="none" stroke="#800080" stroke-width="1.6" stroke-linejoin="round" stroke-dasharray="5.8,2.5"/>
<polyline points="779.1,680.6 957.6,681.2 779.1,681.7" fill="none" stroke="#0000ff" stroke-width="1.6" stroke-linejoin="round"/>
<polyline points="779.1,681.3 957.6,681.9 779.1,682.4" fill="none" stroke="#0000ff" stroke-width="1.6" stroke-linejoin="round"/>
<polyline points="779.1,682.4 825.3,682.9 779.1,683.5" fill="none" stroke="#800080" stroke-width="1.6" stroke-linejoin="round" stroke-dasharray="5.8,2.5"/>
<polyline points="980.6,685.1 789.1,685.6 980.6,686.1" fill="none" stroke="#0000ff" stroke-width="1.6" stroke-linejoin="round"/>
<polyline points="825.3,686.1 980.6,691.4" fill="none" stroke="#800080" stroke-width="1.6" stroke-linejoin="round" stroke-dasharray="5.8,2.5"/>
<polyline points="980.6,693.9 971.8,694.4 980.6,694.9" fill="none" stroke="#800080" stroke-width="1.6" stroke-linejoin="round" stroke-dasharray="5.8,2.5"/>
<polyline points="980.6,716.5 810.3,717.0 980.6,717.5" fill="none" stroke="#008000" stroke-width="1.6" stroke-linejoin="round"/>
<polyline points="980.6,717.3 810.3,717.9 980.6,718.4" fill="none" stroke="#0000ff" stroke-width="1.6" stroke-linejoin="round"/>
<polyline points="980.6,718.4 810.3,718.9 980.6,719.5" fill="none" stroke="#0000ff" stroke-width="1.6" stroke-linejoin="round"/>
<polyline points="779.1,727.0 980.6,726.3" fill="none" stroke="#0000ff" stroke-width="1.6" stroke-linejoin="round"/>
<polyline points="779.1,731.3 980.6,730.6" fill="none" stroke="#ff0000" stroke-width="1.6" stroke-linejoin="round"/>
<polyline points="779.1,732.3 980.6,731.6" fill="none" stroke="#800080" stroke-width="1.6" stroke-linejoin="round" stroke-dasharray="5.8,2.5"/>
<polyline points="779.1,733.0 980.6,732.3" fill="none" stroke="#ff0000" stroke-width="1.6" stroke-linejoin="round"/>
<polyline points="779.1,735.9 980.6,734.1" fill="none" stroke="#ff0000" stroke-width="1.6" stroke-linejoin="round"/>
<polyline points="779.1,738.5 794.4,739.0 779.1,739.6" fill="none" stroke="#ff0000" stroke-width="1.6" stroke-linejoin="round"/>
<polyline points="779.1,742.9 927.6,745.6" fill="none" stroke="#800080" stroke-width="1.6" stroke-linejoin="round" stroke-dasharray="5.8,2.5"/>
<polyline points="779.1,745.9 980.6,745.2" fill="none" stroke="#0000ff" stroke-width="1.6" stroke-linejoin="round"/>
<polyline points="779.1,750.3 890.6,748.6" fill="none" stroke="#800080" stroke-width="1.6" stroke-linejoin="round" stroke-dasharray="5.8,2.5"/>
<polyline points="779.1,754.2 980.6,753.5" fill="none" stroke="#00ff00" stroke-width="1.5" stroke-linejoin="round" stroke-opacity="0.5"/>
<polyline points="779.1,757.8 980.6,757.1" fill="none" stroke="#00ffff" stroke-width="1.5" stroke-linejoin="round" stroke-opacity="0.5"/>
<polyline points="779.1,760.9 980.6,760.2" fill="none" stroke="#00ffff" stroke-width="1.5" stroke-linejoin="round" stroke-opacity="0.5"/>
<polyline points="779.1,774.2 980.6,773.5" fill="none" stroke="#00ffff" stroke-width="1.5" stroke-linejoin="round" stroke-opacity="0.5"/>
<polyline points="779.1,778.6 980.6,777.9" fill="none" stroke="#00ff00" stroke-width="1.5" stroke-linejoin="round" stroke-opacity="0.5"/>
<polyline points="779.1,782.1 980.6,781.4" fill="none" stroke="#00ff00" stroke-width="1.5" stroke-linejoin="round" stroke-opacity="0.5"/>
<polyline points="779.1,783.5 980.6,782.8" fill="none" stroke="#00ff00" stroke-width="1.5" stroke-linejoin="round" stroke-opacity="0.5"/>
<polyline points="779.1,784.8 980.6,784.1" fill="none" stroke="#00ff00" stroke-width="1.5" stroke-linejoin="round" stroke-opacity="0.5"/>
<polyline points="779.1,785.6 980.6,784.9" fill="none" stroke="#00ff00" stroke-width="1.5" stroke-linejoin="round" stroke-opacity="0.5"/>
<polyline points="779.1,788.3 980.6,787.6" fill="none" stroke="#00ff00" stroke-width="1.5" stroke-linejoin="round" stroke-opacity="0.5"/>
<polyline points="779.1,790.6 980.6,789.9" fill="none" stroke="#00ff00" stroke-width="1.5" stroke-linejoin="round" stroke-opacity="0.5"/>
<polyline points="779.1,791.5 980.6,790.8" fill="none" stroke="#00ff00" stroke-width="1.5" stroke-linejoin="round" stroke-opacity="0.5"/>
<polyline points="779.1,793.6 980.6,792.9" fill="none" stroke="#00ffff" stroke-width="1.5" stroke-linejoin="round" stroke-opacity="0.5"/>
<polyline points="779.1,797.1 980.6,796.4" fill="none" stroke="#00ff00" stroke-width="1.5" stroke-linejoin="round" stroke-opacity="0.5"/>
<polyline points="779.1,800.6 980.6,799.9" fill="none" stroke="#00ff00" stroke-width="1.5" stroke-linejoin="round" stroke-opacity="0.5"/>
<polyline points="779.1,803.3 980.6,802.6" fill="none" stroke="#00ffff" stroke-width="1.5" stroke-linejoin="round" stroke-opacity="0.5"/>
<polyline points="779.1,806.8 980.6,806.1" fill="none" stroke="#00ff00" stroke-width="1.5" stroke-linejoin="round" stroke-opacity="0.5"/>
<polyline points="779.1,811.2 980.6,810.5" fill="none" stroke="#00ff00" stroke-width="1.5" stroke-linejoin="round" stroke-opacity="0.5"/>
<polyline points="779.1,814.2 980.6,813.5" fill="none" stroke="#00ffff" stroke-width="1.5" stroke-linejoin="round" stroke-opacity="0.5"/>
<polyline points="779.1,815.6 980.6,814.9" fill="none" stroke="#00ffff" stroke-width="1.5" stroke-linejoin="round" stroke-opacity="0.5"/>
<polyline points="779.1,817.1 980.6,816.3" fill="none" stroke="#00ffff" stroke-width="1.5" stroke-linejoin="round" stroke-opacity="0.5"/>
<polyline points="779.1,818.3 980.6,817.6" fill="none" stroke="#00ffff" stroke-width="1.5" stroke-linejoin="round" stroke-opacity="0.5"/>
<polyline points="779.1,823.1 980.6,822.3" fill="none" stroke="#00ff00" stroke-width="1.5" stroke-linejoin="round" stroke-opacity="0.5"/>
<polyline points="779.1,824.1 980.6,823.4" fill="none" stroke="#00ff00" stroke-width="1.5" stroke-linejoin="round" stroke-opacity="0.5"/>
<polyline points="779.1,826.2 980.6,825.5" fill="none" stroke="#00ffff" stroke-width="1.5" stroke-linejoin="round" stroke-opacity="0.5"/>
<polyline points="779.1,828.0 980.6,827.3" fill="none" stroke="#00ff00" stroke-width="1.5" stroke-linejoin="round" stroke-opacity="0.5"/>
<polyline points="779.1,830.6 980.6,829.9" fill="none" stroke="#00ff00" stroke-width="1.5" stroke-linejoin="round" stroke-opacity="0.5"/>
<polyline points="779.1,831.9 980.6,831.2" fill="none" stroke="#00ffff" stroke-width="1.5" stroke-linejoin="round" stroke-opacity="0.5"/>
<polyline points="779.1,843.9 980.6,843.2" fill="none" stroke="#00ff00" stroke-width="1.5" stroke-linejoin="round" stroke-opacity="0.5"/>
<polyline points="779.1,856.2 980.6,855.5" fill="none" stroke="#00ff00" stroke-width="1.5" stroke-linejoin="round" stroke-opacity="0.5"/>
<polyline points="779.1,858.3 980.6,857.6" fill="none" stroke="#00ffff" stroke-width="1.5" stroke-linejoin="round" stroke-opacity="0.5"/>
<polyline points="779.1,865.9 980.6,865.2" fill="none" stroke="#00ff00" stroke-width="1.5" stroke-linejoin="round" stroke-opacity="0.5"/>
<polyline points="980.6,869.5 872.9,870.0 980.6,870.5" fill="none" stroke="#00ffff" stroke-width="1.5" stroke-linejoin="round" stroke-opacity="0.5"/>
<polyline points="980.6,875.1 874.7,875.6 980.6,876.2" fill="none" stroke="#00ffff" stroke-width="1.5" stroke-linejoin="round" stroke-opacity="0.5"/>
<polyline points="980.6,880.4 940.0,880.9 980.6,881.5" fill="none" stroke="#00ffff" stroke-width="1.5" stroke-linejoin="round" stroke-opacity="0.5"/>
<polyline points="779.1,882.7 980.6,882.0" fill="none" stroke="#00ff00" stroke-width="1.5" stroke-linejoin="round" stroke-opacity="0.5"/>
<polyline points="779.1,884.5 940.9,885.0 779.1,885.5" fill="none" stroke="#00ff00" stroke-width="1.5" stroke-linejoin="round" stroke-opacity="0.5"/>
<polyline points="779.1,889.8 980.6,889.1" fill="none" stroke="#00ffff" stroke-width="1.5" stroke-linejoin="round" stroke-opacity="0.5"/>
<polyline points="779.1,892.4 980.6,891.7" fill="none" stroke="#00ffff" stroke-width="1.5" stroke-linejoin="round" stroke-opacity="0.5"/>
<polyline points="779.1,900.0 980.6,899.3" fill="none" stroke="#00ff00" stroke-width="1.5" stroke-linejoin="round" stroke-opacity="0.5"/>
<polyline points="779.1,907.4 980.6,906.7" fill="none" stroke="#00ff00" stroke-width="1.5" stroke-linejoin="round" stroke-opacity="0.5"/>
<polyline points="980.6,909.2 929.4,909.7 980.6,910.2" fill="none" stroke="#00ff00" stroke-width="1.5" stroke-linejoin="round" stroke-opacity="0.5"/>
<polyline points="779.1,911.8 980.6,911.1" fill="none" stroke="#00ff00" stroke-width="1.5" stroke-linejoin="round" stroke-opacity="0.5"/>
<polyline points="908.2,915.5 975.3,915.9 913.5,916.4" fill="none" stroke="#00ffff" stroke-width="1.5" stroke-linejoin="round" stroke-opacity="0.5"/>
<polyline points="980.6,918.0 918.8,918.5 980.6,919.0" fill="none" stroke="#00ffff" stroke-width="1.5" stroke-linejoin="round" stroke-opacity="0.5"/>
<polyline points="779.1,921.2 980.6,920.5" fill="none" stroke="#00ff00" stroke-width="1.5" stroke-linejoin="round" stroke-opacity="0.5"/>
<polyline points="779.1,923.3 788.2,923.8 779.1,924.3" fill="none" stroke="#00ffff" stroke-width="1.5" stroke-linejoin="round" stroke-opacity="0.5"/>
<polyline points="779.1,933.0 864.1,933.5 779.1,934.0" fill="none" stroke="#00ffff" stroke-width="1.5" stroke-linejoin="round" stroke-opacity="0.5"/>
<polyline points="779.1,935.6 980.6,934.9" fill="none" stroke="#00ff00" stroke-width="1.5" stroke-linejoin="round" stroke-opacity="0.5"/>
<polyline points="779.1,939.2 910.0,939.7 779.1,940.2" fill="none" stroke="#00ff00" stroke-width="1.5" stroke-linejoin="round" stroke-opacity="0.5"/>
<polyline points="980.6,941.8 892.3,942.3 980.6,942.9" fill="none" stroke="#00ff00" stroke-width="1.5" stroke-linejoin="round" stroke-opacity="0.5"/>
<polyline points="779.1,945.3 980.6,944.6" fill="none" stroke="#00ff00" stroke-width="1.5" stroke-linejoin="round" stroke-opacity="0.5"/>
<polyline points="980.6,949.8 964.7,950.3 980.6,950.8" fill="none" stroke="#00ff00" stroke-width="1.5" stroke-linejoin="round" stroke-opacity="0.5"/>
<polyline points="980.6,953.8 838.5,954.3 980.6,954.9" fill="none" stroke="#00ff00" stroke-width="1.5" stroke-linejoin="round" stroke-opacity="0.5"/>
<polyline points="980.6,955.0 838.5,955.6 980.6,956.1" fill="none" stroke="#00ff00" stroke-width="1.5" stroke-linejoin="round" stroke-opacity="0.5"/>
<polyline points="779.1,956.8 980.6,956.1" fill="none" stroke="#00ff00" stroke-width="1.5" stroke-linejoin="round" stroke-opacity="0.5"/>
<polyline points="779.1,957.7 941.8,958.2 779.1,958.8" fill="none" stroke="#00ffff" stroke-width="1.5" stroke-linejoin="round" stroke-opacity="0.5"/>
<polyline points="840.3,960.5 886.2,960.9 845.6,961.4" fill="none" stroke="#00ffff" stroke-width="1.5" stroke-linejoin="round" stroke-opacity="0.5"/>
<polyline points="779.1,964.8 980.6,964.0" fill="none" stroke="#00ff00" stroke-width="1.5" stroke-linejoin="round" stroke-opacity="0.5"/>
<polyline points="841.2,968.5 913.5,968.8 846.5,969.3" fill="none" stroke="#00ffff" stroke-width="1.5" stroke-linejoin="round" stroke-opacity="0.5"/>
<polyline points="779.1,972.7 980.6,972.0" fill="none" stroke="#00ffff" stroke-width="1.5" stroke-linejoin="round" stroke-opacity="0.5"/>
<polyline points="779.1,978.0 980.6,977.3" fill="none" stroke="#00ffff" stroke-width="1.5" stroke-linejoin="round" stroke-opacity="0.5"/>
<polyline points="779.1,980.3 980.6,977.6" fill="none" stroke="#00ffff" stroke-width="1.5" stroke-linejoin="round" stroke-opacity="0.5"/>
<polyline points="980.6,982.8 941.8,983.3 980.6,983.8" fill="none" stroke="#00ff00" stroke-width="1.5" stroke-linejoin="round" stroke-opacity="0.5"/>
<polyline points="915.3,756.4 980.6,756.0 980.6,757.1 915.3,757.4 980.6,758.1 980.6,759.2 936.5,759.5 980.6,760.2" fill="none" stroke="#0000ff" stroke-width="1.6" stroke-linejoin="round"/>
<polyline points="782.6,751.4 795.3,752.1 796.2,753.5 880.0,757.9 954.1,759.7 980.6,760.9 964.7,763.2 980.6,764.5 962.9,766.8 980.6,769.4 973.5,772.1 939.1,773.5 955.9,775.1 919.7,776.5 938.2,777.9 940.0,780.4 954.1,782.6 951.5,784.4 905.6,786.2 934.7,789.7 909.1,792.4 936.5,797.3 959.4,801.2 962.0,802.9 947.0,805.6 980.6,807.3 980.6,810.0 954.1,812.6 980.6,817.9 980.6,819.7 952.3,821.5 959.4,824.1 962.9,826.8 949.7,830.3 948.8,832.9 922.3,836.5 923.2,839.1 897.6,841.4 881.8,845.3 877.3,848.8 878.2,853.2 870.3,859.4 881.8,865.6 864.1,870.9 847.3,874.4 852.6,878.8 848.2,884.1 842.9,889.4 849.1,892.1 841.2,896.5 837.6,897.9 827.1,900.9 820.9,905.3 820.0,910.6 821.8,912.3 818.2,916.8 819.1,922.0 812.9,927.3 803.2,933.5 808.5,937.0 802.4,944.1 803.2,947.6 797.9,952.9 786.5,957.3 782.6,959.6" fill="none" stroke="#ff0000" stroke-width="1.6" stroke-linejoin="round"/>
<polyline points="789.1,752.6 830.6,754.9 880.0,757.9 904.7,760.2 911.8,761.5 904.7,762.7 933.8,765.0 910.0,766.8 920.6,769.4 932.0,771.2 910.0,772.9 887.1,776.1 901.2,777.4 904.7,780.0 918.8,782.6 915.3,784.4 881.8,786.2 901.2,787.9 906.5,791.5 888.8,792.4 911.8,795.0 907.3,797.3 927.6,800.3 940.0,802.9 932.0,805.6 961.2,808.2 935.6,811.8 957.6,814.4 980.6,817.1 943.5,820.6 949.7,824.1 951.5,826.8 937.3,831.2 943.5,832.6 911.8,837.3 895.9,840.9 880.0,845.3 873.8,850.6 876.5,854.1 867.6,859.4 872.9,861.2 876.5,864.7" fill="none" stroke="#008000" stroke-width="1.6" stroke-linejoin="round"/>
<polyline points="980.6,783.9 970.0,786.2 959.4,788.5 909.1,787.4 936.5,790.6 887.1,792.4 880.0,796.2 824.4,798.5 853.5,802.1 874.7,805.1 834.1,810.0 846.5,811.8 841.2,814.4 812.9,817.9 788.2,820.9 795.3,824.1 786.5,827.3 797.9,829.4 788.2,832.9 792.6,834.7 827.1,836.5 836.8,837.9 825.3,842.1 847.3,845.3 832.3,847.9 835.9,851.5 871.2,855.0 856.2,858.0 853.5,861.2 844.7,865.6 862.3,867.3 834.1,871.8 820.9,872.6 827.9,875.3 823.5,880.6 827.1,885.0 807.6,887.6 812.9,891.2 800.9,895.6 805.9,898.2 820.0,900.0 825.3,905.3 831.5,907.9 820.0,910.6 827.1,915.9 832.7,920.8 820.0,924.7 821.8,926.5 817.3,931.8 810.3,937.0 806.2,942.3 808.5,944.1 804.1,949.4 795.3,954.7 782.6,959.6" fill="none" stroke="#0000ff" stroke-width="1.6" stroke-linejoin="round"/>
<polyline points="782.6,767.6 812.9,771.2 840.3,774.7 835.9,777.4 850.0,780.0 843.8,782.6 880.0,786.2 901.2,789.7 906.5,792.4 929.4,796.8 943.5,801.2 945.3,804.7 943.5,808.2 952.3,812.6 940.0,816.2 943.5,820.6 924.1,825.9 911.8,832.1 890.6,840.0 888.8,843.5 881.8,851.5 880.0,859.4 872.9,866.5 860.6,878.8 844.7,885.9 830.6,892.9 820.0,903.5 804.1,919.4 795.3,928.2 788.2,940.6 782.6,951.2" fill="none" stroke="#808000" stroke-width="1.6" stroke-linejoin="round" stroke-dasharray="5.8,2.5"/>
<polyline points="782.6,767.6 818.2,771.2 786.5,773.8 789.1,775.6 811.2,779.1 795.3,781.4 809.4,783.5 844.7,786.2 807.6,789.7 782.6,796.2" fill="none" stroke="#800080" stroke-width="1.6" stroke-linejoin="round" stroke-dasharray="5.8,2.5"/>
<polyline points="782.6,822.3 796.2,825.9 786.5,831.2 797.9,834.7 786.5,838.2 803.2,842.1 786.5,845.3 807.6,855.9 816.5,861.2 810.3,864.7 832.3,870.0 840.3,879.7 833.2,885.9 812.9,891.2 810.3,896.5 820.9,900.9 812.9,912.3 807.6,915.9 814.7,922.0 810.3,930.0 805.9,940.6 797.9,949.4 782.6,955.6" fill="none" stroke="#800080" stroke-width="1.6" stroke-linejoin="round" stroke-dasharray="5.8,2.5"/>
<polyline points="844.7,970.0 980.6,973.2 980.6,977.4 782.6,982.7 782.6,986.8 923.2,989.4 916.2,991.2 980.6,992.9 959.4,996.5 782.6,1001.4 859.7,1004.1 782.6,1007.1 782.6,1015.5 806.8,1015.5 782.6,1016.2 782.6,1028.8 806.8,1029.1 934.7,1033.2 930.3,1034.8 980.6,1036.5 940.0,1040.2 980.6,1042.0 885.3,1047.3 918.8,1049.1 853.5,1053.8 880.0,1055.6 827.1,1057.3 839.4,1059.1 782.6,1062.6 782.6,1082.9 790.0,1082.9 782.6,1084.3 782.6,1090.9 786.5,1091.4 782.6,1092.6 782.6,1094.4 846.5,1100.6 787.4,1105.9 789.1,1107.6 827.9,1110.3 803.2,1112.1 866.8,1115.6 844.7,1121.4 892.3,1125.3 872.9,1126.2 974.4,1130.9 945.3,1134.1 965.6,1135.9 957.6,1138.5 962.0,1141.2 952.3,1143.8 883.5,1148.2 782.6,1154.0" fill="none" stroke="#00ffff" stroke-width="1.9" stroke-linejoin="round" stroke-opacity="0.5"/>
<polyline points="941.8,983.2 982.3,982.0 982.3,1009.2 782.6,1010.9 782.6,1028.2 806.8,1028.6 782.6,1029.3 782.6,1036.5 910.0,1037.9 915.3,1039.7 896.8,1041.1 980.6,1042.3 980.6,1050.3 917.9,1052.6 910.0,1053.3 894.1,1055.9 782.6,1057.0 782.6,1061.8 828.8,1063.5 818.2,1065.3 782.6,1066.2 782.6,1068.5 879.1,1068.5 782.6,1069.7 782.6,1083.8 812.1,1084.3 784.7,1086.5 808.5,1087.9 782.6,1089.1 782.6,1094.9 883.5,1095.6 972.6,1101.8 917.0,1105.5 943.5,1108.5 790.0,1111.7 940.0,1116.5 810.3,1123.0 892.3,1125.3 832.3,1127.6 862.3,1130.6 782.6,1133.8 869.4,1135.9 850.0,1137.3 955.9,1140.6 853.5,1145.0 933.8,1148.6 896.8,1154.9 782.6,1157.0" fill="none" stroke="#00ff00" stroke-width="1.9" stroke-linejoin="round" stroke-opacity="0.5"/>
<polyline points="782.6,1191.6 980.6,1191.6" fill="none" stroke="#00ffff" stroke-width="2.0" stroke-linejoin="round" stroke-opacity="0.5"/>
</g>
<rect x="782.5" y="123.5" width="195.0" height="1075.0" fill="none" stroke="#000" stroke-width="1.15"/>
<text x="772.5" y="1203.9" transform="matrix(1 0 0 1.050 0 -60.20)" text-anchor="end">0</text>
<text x="772.5" y="988.9" transform="matrix(1 0 0 1.050 0 -49.45)" text-anchor="end">1</text>
<text x="772.5" y="773.9" transform="matrix(1 0 0 1.050 0 -38.70)" text-anchor="end">2</text>
<text x="772.5" y="558.9" transform="matrix(1 0 0 1.050 0 -27.95)" text-anchor="end">3</text>
<text x="772.5" y="343.9" transform="matrix(1 0 0 1.050 0 -17.20)" text-anchor="end">4</text>
<text x="772.5" y="128.9" transform="matrix(1 0 0 1.050 0 -6.45)" text-anchor="end">5</text>
<text x="782.0" y="1220" transform="matrix(1 0 0 1.050 0 -61.00)" text-anchor="middle">0</text>
<text x="880.0" y="1220" transform="matrix(1 0 0 1.050 0 -61.00)" text-anchor="middle">50</text>
<text x="977.0" y="1220" transform="matrix(1 0 0 1.050 0 -61.00)" text-anchor="middle">100</text>
<path d="M776.4 1198.0h5.6 M978.0 1198.0h5.6 M776.4 983.0h5.6 M978.0 983.0h5.6 M776.4 768.0h5.6 M978.0 768.0h5.6 M776.4 553.0h5.6 M978.0 553.0h5.6 M776.4 338.0h5.6 M978.0 338.0h5.6 M776.4 123.0h5.6 M978.0 123.0h5.6 M782.0 1199.0v5.6 M782.0 117.4v5.6 M880.0 1199.0v5.6 M880.0 117.4v5.6 M977.0 1199.0v5.6 M977.0 117.4v5.6" stroke="#000" stroke-width="2.0" fill="none"/>
<path d="M1149.5 123.5V1198.5 M1246.5 123.5V1198.5 M1100.5 983.5H1295.5 M1100.5 768.5H1295.5 M1100.5 553.5H1295.5 M1100.5 338.5H1295.5" stroke="#b0b0b0" stroke-width="1" fill="none"/>
<g clip-path="url(#c3)">
<polyline points="1302.0,133.4 1289.9,134.1 1272.6,135.2 1252.4,136.4 1231.4,137.7 1211.9,138.9 1196.0,139.9 1183.6,140.8 1173.0,141.5 1163.9,142.2 1155.8,142.9 1148.5,143.5 1141.6,144.0 1135.2,144.5 1129.7,144.9 1124.9,145.3 1120.8,145.6 1117.4,145.9 1114.4,146.2 1112.1,146.4 1110.6,146.6 1109.6,146.8 1109.2,146.9 1109.0,147.1 1109.0,147.3 1109.0,147.4 1109.2,147.6 1109.6,147.7 1110.6,147.9 1112.1,148.1 1114.4,148.3 1117.4,148.6 1120.8,149.0 1124.9,149.3 1129.7,149.7 1135.2,150.2 1141.6,150.8 1148.5,151.4 1155.8,152.2 1163.9,153.0 1173.0,153.8 1183.6,154.7 1196.0,155.7 1211.9,156.8 1231.4,158.1 1252.4,159.5 1272.6,160.8 1289.9,162.0 1302.0,162.8" fill="none" stroke="#ffa500" stroke-width="1.6" stroke-linejoin="round"/>
<polyline points="1100.5,770.0 1102.0,770.8 1104.1,771.7 1106.6,772.9 1109.3,774.2 1111.9,775.5 1114.4,776.8 1116.7,778.1 1119.0,779.4 1121.4,780.7 1123.7,782.1 1125.9,783.5 1128.0,785.0 1130.0,786.4 1131.8,787.9 1133.6,789.3 1135.3,790.9 1137.1,792.6 1138.9,794.5 1140.7,796.7 1142.6,799.2 1144.5,801.8 1146.3,804.5 1148.1,807.1 1149.7,809.5 1151.3,811.6 1152.8,813.6 1154.2,815.6 1155.5,817.5 1156.7,819.5 1157.9,821.7 1159.0,824.0 1160.0,826.2 1160.9,828.5 1161.7,831.0 1162.5,833.9 1163.3,837.2 1164.1,841.1 1164.9,845.4 1165.6,850.1 1166.2,854.9 1166.8,859.7 1167.4,864.4 1168.0,868.9 1168.5,873.5 1169.0,878.0 1169.4,882.5 1169.8,887.1 1170.1,891.6 1170.4,896.0 1170.6,900.3 1170.7,904.5 1170.8,908.9 1170.9,913.6 1171.0,918.8 1171.0,924.7 1170.9,931.3 1170.9,938.2 1170.8,945.0 1170.7,951.3 1170.7,956.9 1170.7,961.4 1170.6,965.1 1170.6,968.4 1170.6,971.6 1170.7,974.9 1171.0,978.6 1171.3,982.7 1171.9,987.0 1172.5,991.4 1173.1,995.9 1173.7,1000.7 1174.2,1005.8 1174.7,1011.4 1175.1,1017.4 1175.4,1023.7 1175.8,1029.9 1176.1,1035.8 1176.4,1041.2 1176.6,1046.0 1176.7,1050.4 1176.8,1054.6 1176.9,1058.5 1177.1,1062.2 1177.5,1065.6 1178.1,1068.8 1178.8,1071.6 1179.6,1074.1 1180.5,1076.6 1181.4,1079.2 1182.4,1082.0 1183.4,1084.8 1184.6,1087.7 1185.8,1090.6 1187.0,1093.7 1188.1,1097.1 1189.2,1101.0 1190.0,1105.6 1190.7,1110.8 1191.3,1116.3 1192.0,1121.9 1193.0,1127.2 1194.4,1132.0 1196.3,1136.4 1198.6,1140.5 1201.2,1144.4 1203.9,1148.1 1206.5,1151.4 1208.8,1154.4 1211.0,1157.0 1213.2,1159.4 1215.3,1161.4 1217.2,1163.1 1218.8,1164.5 1220.0,1165.6 1224.8,1168.8 1228.0,1173.0 1223.2,1176.2 1189.6,1177.4 1189.6,1177.4 1189.1,1178.1 1188.5,1179.1 1187.7,1180.2 1186.8,1181.4 1185.8,1182.6 1184.8,1183.8 1183.7,1185.0 1182.6,1186.3 1181.4,1187.6 1180.1,1188.9 1178.5,1190.1 1176.8,1191.2 1174.6,1192.3 1171.9,1193.4 1169.1,1194.4 1166.4,1195.3 1164.0,1196.1 1162.4,1196.6" fill="none" stroke="#ffa500" stroke-width="1.6" stroke-linejoin="round"/>
<polyline points="1087.2,191.6 1089.0,192.1 1091.2,192.7 1094.0,193.5 1097.4,194.4 1101.4,195.4 1106.2,196.5 1112.3,197.7 1119.7,199.2 1127.8,200.8 1135.9,202.3 1143.5,203.8 1149.7,205.2 1154.4,206.3 1157.9,207.2 1160.8,208.1 1163.6,209.0 1167.0,210.0 1171.5,211.2 1177.4,212.6 1184.4,214.2 1191.9,216.0 1199.4,217.7 1206.4,219.4 1212.3,221.0 1217.1,222.3 1221.3,223.6 1224.9,224.7 1228.1,225.9 1231.1,227.1 1234.1,228.3 1236.9,229.6 1239.4,230.9 1241.7,232.2 1243.8,233.5 1245.8,234.9 1247.7,236.5 1249.4,238.1 1251.0,239.9 1252.4,241.8 1253.7,243.7 1254.8,245.6 1255.8,247.3 1256.6,249.0 1257.2,250.7 1257.6,252.4 1257.9,253.9 1258.2,255.4 1258.5,256.9 1258.8,258.1 1258.8,259.2 1258.9,260.2 1259.0,261.2 1259.3,262.3 1259.9,263.7 1260.8,265.3 1262.0,267.1 1263.3,269.0 1264.8,271.0 1266.4,272.8 1268.1,274.5 1269.7,275.9 1271.5,277.1 1273.3,278.2 1275.4,279.4 1277.7,280.8 1280.3,282.7 1283.6,285.3 1287.6,288.5 1291.9,292.0 1296.1,295.4 1299.6,298.3 1302.0,300.4" fill="none" stroke="#ff00ff" stroke-width="1.6" stroke-linejoin="round"/>
<polyline points="1302.0,375.2 1301.4,375.6 1300.5,376.2 1299.4,377.0 1298.2,377.9 1296.9,378.9 1295.5,380.1 1294.0,381.5 1292.3,383.1 1290.4,384.9 1288.6,386.7 1287.0,388.5 1285.7,390.1 1284.8,391.6 1284.1,392.9 1283.5,394.1 1283.1,395.4 1282.8,396.8 1282.5,398.3 1282.1,399.9 1281.8,401.6 1281.6,403.4 1281.5,405.2 1281.5,407.2 1281.6,409.2 1282.1,411.3 1282.7,413.5 1283.5,415.8 1284.3,418.1 1285.1,420.5 1285.7,422.8 1286.3,425.0 1286.9,427.2 1287.5,429.4 1288.0,431.6 1288.3,433.9 1288.4,436.4 1288.3,438.9 1288.0,441.6 1287.6,444.3 1287.0,447.1 1286.4,449.9 1285.7,452.7 1284.9,455.5 1284.0,458.4 1283.0,461.4 1282.0,464.2 1281.1,466.8 1280.3,469.0 1279.7,470.6 1279.3,471.8 1278.9,472.7 1278.6,473.5 1278.1,474.7 1277.6,476.3 1276.8,478.5 1276.0,481.1 1275.1,483.9 1274.1,486.9 1273.1,489.8 1272.1,492.6 1271.0,495.4 1269.8,498.1 1268.6,500.8 1267.4,503.5 1266.3,506.2 1265.3,509.0 1264.5,511.7 1263.8,514.4 1263.3,517.1 1262.7,519.8 1262.3,522.6 1261.8,525.3 1261.4,528.0 1261.0,530.9 1260.7,533.7 1260.4,536.5 1260.2,539.2 1259.9,541.6 1259.6,543.7 1259.4,545.6 1259.2,547.3 1259.0,549.1 1258.8,550.9 1258.5,553.0 1258.2,555.4 1257.8,557.9 1257.5,560.6 1257.1,563.3 1256.7,566.1 1256.4,568.8 1256.0,571.5 1255.7,574.2 1255.4,576.9 1255.1,579.6 1254.9,582.4 1254.7,585.1 1254.6,587.8 1254.5,590.5 1254.5,593.3 1254.5,596.0 1254.6,598.7 1254.7,601.4 1255.0,604.1 1255.4,606.9 1255.8,609.6 1256.3,612.3 1256.8,615.0 1257.2,617.7 1257.6,620.5 1258.0,623.2 1258.4,625.9 1258.8,628.6 1259.1,631.3 1259.3,634.1 1259.5,636.8 1259.5,639.5 1259.4,642.2 1259.3,644.9 1259.2,647.7 1259.1,650.4 1258.9,653.1 1258.7,655.9 1258.4,658.7 1258.2,661.5 1258.0,664.1 1258.0,666.7 1258.1,669.1 1258.3,671.4 1258.5,673.7 1258.9,675.9 1259.3,678.1 1259.9,680.3 1260.6,682.6 1261.6,684.9 1262.6,687.3 1263.6,689.6 1264.6,691.8 1265.3,693.9 1265.9,695.9 1266.4,697.7 1266.8,699.5 1267.1,701.2 1267.2,703.0 1267.2,704.8 1267.1,706.6 1266.9,708.3 1266.5,710.1 1266.0,711.9 1265.4,713.8 1264.5,715.6 1263.5,717.6 1262.2,719.6 1260.8,721.7 1259.3,723.8 1257.6,725.8 1255.8,727.9 1253.8,729.9 1251.6,731.9 1249.3,733.9 1246.9,735.9 1244.5,738.0 1242.2,740.1 1239.9,742.3 1237.6,744.5 1235.3,746.8 1233.0,749.1 1230.8,751.4 1228.6,753.7 1226.5,756.1 1224.3,758.4 1222.2,760.8 1220.1,763.2 1218.2,765.7 1216.4,768.1 1214.8,770.6 1213.3,773.2 1211.9,775.8 1210.6,778.4 1209.4,781.0 1208.2,783.6 1207.1,786.3 1206.2,789.0 1205.2,791.7 1204.4,794.5 1203.6,797.2 1202.8,800.0 1202.0,802.7 1201.3,805.4 1200.6,808.2 1199.9,810.9 1199.3,813.6 1198.7,816.3 1198.2,818.5 1197.7,820.4 1197.3,822.1 1196.8,824.3 1196.4,827.4 1196.0,831.8 1195.5,837.7 1195.0,845.1 1194.5,853.3 1194.1,861.8 1193.6,870.2 1193.3,878.0 1192.9,884.8 1192.6,891.1 1192.4,897.3 1192.2,903.7 1192.0,910.7 1191.9,918.8 1191.9,928.3 1191.9,939.1 1192.0,950.5 1192.2,961.9 1192.3,972.9 1192.4,982.7 1192.6,991.5 1192.8,999.7 1193.0,1007.4 1193.1,1014.6 1193.2,1021.3 1193.3,1027.6 1193.2,1033.2 1193.0,1038.2 1192.8,1042.8 1192.5,1047.0 1192.2,1050.9 1191.9,1054.8 1191.5,1058.4 1191.1,1061.6 1190.7,1064.6 1190.2,1067.6 1189.7,1070.6 1189.2,1073.8 1188.6,1077.1 1187.9,1080.3 1187.2,1083.6 1186.5,1087.1 1185.8,1091.1 1185.1,1095.6 1184.5,1100.9 1184.0,1107.0 1183.5,1113.5 1182.9,1120.1 1182.3,1126.4 1181.6,1132.0 1180.7,1137.1 1179.8,1141.9 1178.7,1146.4 1177.7,1150.5 1176.7,1154.3 1175.8,1157.6 1175.0,1160.4 1174.3,1162.8 1173.6,1164.8 1172.9,1166.4 1172.4,1167.7 1172.0,1168.8 1172.0,1168.8 1179.4,1175.8 1163.4,1177.4 1155.0,1197.6" fill="none" stroke="#ff00ff" stroke-width="1.6" stroke-linejoin="round"/>
<polyline points="1087.2,123.6 1100.5,123.3 1118.5,122.5 1130.7,122.0" fill="none" stroke="#000" stroke-width="1.6" stroke-linejoin="round"/>
<polyline points="1087.2,276.4 1100.5,277.8 1103.5,278.6 1104.9,280.2 1149.7,285.4 1246.6,293.0 1302.0,297.7" fill="none" stroke="#000" stroke-width="1.6" stroke-linejoin="round"/>
<polyline points="1302.0,370.0 1295.5,371.1 1277.6,375.2 1268.9,379.2 1268.1,382.0 1264.0,387.4 1266.7,392.8 1265.9,398.3 1274.8,403.7 1283.6,408.3 1284.4,411.9 1287.1,414.1 1284.4,417.3 1281.6,422.2 1272.1,426.8 1261.3,432.3 1247.7,437.7 1223.2,442.3 1196.0,448.6 1193.3,451.3 1192.4,456.8 1187.8,459.5 1181.8,463.0 1179.7,465.7 1149.7,471.2 1100.5,475.2 1087.2,476.1" fill="none" stroke="#000" stroke-width="1.6" stroke-linejoin="round"/>
<polyline points="1302.0,560.1 1295.5,560.6 1246.6,565.5 1204.1,570.1 1179.7,576.9 1149.7,581.6 1146.5,583.7 1147.6,586.5 1143.8,587.8 1155.2,591.9 1159.3,593.8 1182.4,597.3 1209.6,600.1 1250.4,602.2 1295.5,604.1 1302.0,604.4" fill="none" stroke="#000" stroke-width="1.6" stroke-linejoin="round"/>
<polyline points="1087.2,613.7 1100.5,614.2 1149.7,615.8 1171.0,616.9 1172.0,619.1 1162.8,621.8 1175.6,624.5 1165.5,628.1 1179.7,631.3 1181.8,634.1 1180.2,636.8 1190.5,640.3 1193.3,641.7 1212.3,644.9 1239.5,647.7 1258.5,652.5 1284.4,655.3 1285.2,658.0 1283.0,661.3 1266.7,663.4 1246.6,665.9 1206.9,669.4 1149.7,672.9 1100.5,675.9 1087.2,676.8" fill="none" stroke="#000" stroke-width="1.6" stroke-linejoin="round"/>
<polyline points="1302.0,747.2 1295.5,747.5 1266.7,749.1 1246.6,751.5 1245.5,752.9 1251.7,755.1 1252.5,757.3 1247.7,760.5 1234.1,764.1 1216.4,768.1 1196.0,771.9 1179.7,775.5 1168.8,779.6 1155.2,783.6 1149.7,786.4 1133.4,789.9 1114.4,794.5 1100.5,796.7 1087.2,798.3" fill="none" stroke="#000" stroke-width="1.6" stroke-linejoin="round"/>
<polyline points="1087.2,850.3 1100.5,851.6 1110.3,853.5 1117.1,857.0 1124.7,863.0 1125.3,867.1 1123.9,872.6 1113.0,877.2 1109.0,881.3 1113.0,886.1 1119.8,891.6 1133.4,898.4 1147.0,904.4 1168.8,912.5 1190.5,918.8 1192.4,924.2 1191.9,929.7 1194.6,935.1 1191.9,943.3 1193.3,947.3 1201.4,953.3 1219.9,956.0 1157.4,957.7 1174.2,959.0 1174.2,961.8 1174.2,961.8 1175.2,962.1 1176.5,962.5 1178.0,963.0 1179.7,963.5 1181.2,964.2 1182.4,965.0 1183.4,965.9 1184.3,967.0 1185.2,968.1 1185.9,969.3 1186.3,970.6 1186.5,971.8 1186.4,973.0 1186.1,974.1 1185.5,975.2 1184.7,976.5 1183.7,978.0 1182.4,980.0 1180.7,982.3 1178.8,985.0 1176.5,988.0 1174.1,991.1 1171.5,994.4 1168.8,997.7 1165.8,1001.1 1162.5,1004.8 1159.1,1008.6 1155.7,1012.4 1152.5,1016.1 1149.7,1019.4 1147.4,1022.4 1145.3,1025.3 1143.5,1027.9 1141.8,1030.5 1140.3,1033.1 1138.9,1035.7 1137.6,1038.5 1136.5,1041.4 1135.5,1044.2 1134.7,1047.0 1134.0,1049.6 1133.4,1052.0 1133.0,1054.1 1132.7,1055.9 1132.5,1057.5 1132.4,1059.1 1132.3,1060.9 1132.3,1062.9 1132.4,1065.3 1132.5,1067.9 1132.6,1070.6 1132.9,1073.4 1133.1,1076.3 1133.4,1079.2 1133.8,1082.1 1134.3,1084.8 1134.8,1087.7 1135.3,1090.7 1135.8,1094.2 1136.1,1098.3 1136.5,1102.7 1136.7,1107.3 1136.9,1112.2 1137.1,1117.9 1137.3,1124.4 1137.4,1132.0 1137.6,1141.8 1137.7,1153.9 1137.8,1166.9 1137.9,1179.4 1138.0,1190.1 1138.1,1197.6" fill="none" stroke="#000" stroke-width="1.6" stroke-linejoin="round"/>
</g>
<rect x="1100.5" y="123.5" width="195.0" height="1075.0" fill="none" stroke="#000" stroke-width="1.15"/>
<text x="1090.5" y="1203.9" transform="matrix(1 0 0 1.050 0 -60.20)" text-anchor="end">0</text>
<text x="1090.5" y="988.9" transform="matrix(1 0 0 1.050 0 -49.45)" text-anchor="end">1</text>
<text x="1090.5" y="773.9" transform="matrix(1 0 0 1.050 0 -38.70)" text-anchor="end">2</text>
<text x="1090.5" y="558.9" transform="matrix(1 0 0 1.050 0 -27.95)" text-anchor="end">3</text>
<text x="1090.5" y="343.9" transform="matrix(1 0 0 1.050 0 -17.20)" text-anchor="end">4</text>
<text x="1090.5" y="128.9" transform="matrix(1 0 0 1.050 0 -6.45)" text-anchor="end">5</text>
<text x="1149.0" y="1220" transform="matrix(1 0 0 1.050 0 -61.00)" text-anchor="middle">0</text>
<text x="1246.0" y="1220" transform="matrix(1 0 0 1.050 0 -61.00)" text-anchor="middle">2</text>
<path d="M1094.4 1198.0h5.6 M1296.0 1198.0h5.6 M1094.4 983.0h5.6 M1296.0 983.0h5.6 M1094.4 768.0h5.6 M1296.0 768.0h5.6 M1094.4 553.0h5.6 M1296.0 553.0h5.6 M1094.4 338.0h5.6 M1296.0 338.0h5.6 M1094.4 123.0h5.6 M1296.0 123.0h5.6 M1149.0 1199.0v5.6 M1149.0 117.4v5.6 M1246.0 1199.0v5.6 M1246.0 117.4v5.6" stroke="#000" stroke-width="2.0" fill="none"/>
<path d="M1483.5 123.5V1198.5 M1549.5 123.5V1198.5 M1418.5 983.5H1614.5 M1418.5 768.5H1614.5 M1418.5 553.5H1614.5 M1418.5 338.5H1614.5" stroke="#b0b0b0" stroke-width="1" fill="none"/>
<g clip-path="url(#c4)">
<polyline points="1412.6,125.2 1622.0,125.2 1622.0,126.3 1412.6,126.3" fill="none" stroke="#008000" stroke-width="1.6" stroke-linejoin="round"/>
<polyline points="1419.2,126.3 1419.2,164.4 1431.7,175.3 1420.8,179.4 1423.5,191.6 1458.9,196.5 1418.6,198.4 1450.7,205.2 1424.9,211.2 1423.5,218.8 1423.5,218.8 1423.2,220.1 1422.7,221.8 1422.2,223.9 1421.6,226.3 1421.2,229.2 1420.8,232.4 1420.6,236.0 1420.5,239.9 1420.4,244.3 1420.4,249.0 1420.3,254.1 1420.3,259.6 1420.1,264.0 1420.0,267.0 1419.8,270.5 1419.7,276.0 1419.5,285.4 1419.4,300.4 1419.3,323.9 1419.3,355.3 1419.2,390.5 1419.1,425.6 1419.1,456.7 1419.2,479.9 1419.3,494.0 1419.4,502.0 1419.6,506.0 1419.8,508.0 1420.1,510.1 1420.3,514.4 1420.4,520.6 1420.6,527.1 1420.8,533.7 1420.9,540.2 1421.1,546.6 1421.3,552.5 1421.6,557.8 1421.9,562.6 1422.2,567.3 1422.5,571.9 1422.8,576.9 1423.0,582.4 1423.1,588.6 1423.3,595.2 1423.4,602.1 1423.5,609.2 1423.5,616.3 1423.5,623.2 1423.5,630.0 1423.4,636.8 1423.4,643.6 1423.3,650.4 1423.1,657.2 1423.0,664.0 1422.8,671.0 1422.5,678.3 1422.3,685.6 1422.0,692.6 1421.8,699.1 1421.6,704.8 1421.5,709.6 1421.4,713.7 1421.3,717.3 1421.3,720.6 1421.3,723.6 1421.3,726.5 1421.4,729.2 1421.6,731.6 1421.8,733.7 1422.0,735.7 1422.3,737.8 1422.7,740.1 1423.2,742.7 1423.7,745.6 1424.4,748.4 1425.0,751.3 1425.7,754.0 1426.2,756.4 1426.7,758.5 1427.2,760.4 1427.7,762.0 1428.2,763.7 1428.6,765.4 1429.0,767.3 1429.3,769.4 1429.6,771.4 1430.0,773.6 1430.2,775.9 1430.4,778.3 1430.6,780.9 1430.7,783.6 1430.7,786.5 1430.6,789.4 1430.6,792.6 1430.4,796.1 1430.3,800.0 1430.1,804.3 1429.9,808.9 1429.6,813.9 1429.3,819.2 1429.1,824.5 1429.0,829.9 1428.9,835.3 1428.8,840.8 1428.8,846.4 1428.8,852.2 1428.9,858.2 1429.0,864.4 1429.0,871.0 1429.1,878.0 1429.2,885.2 1429.4,892.4 1429.6,899.1 1429.8,905.2 1430.0,910.5 1430.2,915.4 1430.5,919.8 1430.8,924.0 1431.2,928.2 1431.7,932.4 1432.2,936.7 1432.7,940.8 1433.3,945.0 1434.0,949.0 1434.8,953.0 1435.8,956.9 1436.8,960.6 1438.1,964.3 1439.4,967.9 1440.8,971.5 1442.3,975.0 1443.9,978.6 1445.6,982.2 1447.3,985.9 1449.1,989.5 1451.0,993.1 1452.9,996.7 1454.8,1000.4 1456.8,1004.0 1458.9,1007.6 1461.0,1011.3 1463.1,1014.9 1465.1,1018.5 1467.0,1022.1 1468.8,1025.8 1470.6,1029.5 1472.2,1033.2 1473.8,1036.8 1475.2,1040.4 1476.5,1043.9 1477.7,1047.3 1478.8,1050.6 1479.7,1053.8 1480.5,1057.0 1481.3,1060.0 1482.0,1062.9 1482.6,1065.6 1483.0,1068.1 1483.4,1070.5 1483.8,1072.8 1484.2,1075.3 1484.7,1077.9 1485.3,1080.7 1486.0,1083.5 1486.7,1086.5 1487.4,1089.5 1488.1,1092.5 1488.8,1095.6 1489.4,1098.8 1490.0,1102.3 1490.6,1105.9 1491.1,1109.3 1491.6,1112.2 1492.0,1114.6 1492.4,1116.0 1492.6,1116.5 1492.8,1116.7 1493.0,1116.9 1493.2,1117.6 1493.6,1119.2 1494.2,1122.0 1494.9,1125.6 1495.7,1129.7 1496.5,1133.9 1497.1,1138.0 1497.4,1141.6 1497.5,1144.7 1497.4,1147.6 1497.2,1150.4 1496.8,1153.0 1496.5,1155.4 1496.2,1157.6 1495.8,1159.6 1495.4,1161.3 1495.0,1162.9 1494.6,1164.4 1494.3,1165.8 1494.2,1167.2 1494.3,1168.6 1494.5,1170.0 1494.8,1171.3 1495.3,1172.5 1495.9,1173.8 1496.8,1175.2 1498.0,1176.7 1499.5,1178.2 1501.3,1179.8 1503.1,1181.3 1504.8,1182.7 1506.4,1183.8 1507.9,1184.7 1509.5,1185.4 1511.0,1186.0 1512.4,1186.4 1513.5,1186.8 1514.4,1187.0 1514.4,1187.0 1504.8,1191.2 1504.2,1193.4 1517.6,1194.7" fill="none" stroke="#008000" stroke-width="1.6" stroke-linejoin="round"/>
<polyline points="1418.9,126.3 1418.9,142.1 1570.4,142.6 1418.9,143.7 1418.9,150.3 1516.0,151.3 1448.0,153.0 1418.9,154.1 1418.9,161.1 1448.0,161.7 1418.9,163.3 1622.0,165.5 1622.0,167.1 1418.9,168.2 1418.9,246.0 1420.0,262.3 1419.4,354.8 1419.7,433.1 1420.3,433.6 1450.7,434.2 1450.7,435.8 1502.4,438.5 1420.3,439.6 1420.3,447.2 1600.8,448.6 1454.8,450.0 1445.3,453.2 1435.8,459.5 1450.7,463.0 1480.6,464.1 1461.6,466.3 1442.6,470.3 1430.3,474.4 1434.4,477.1 1460.2,479.1 1435.8,461.4 1480.6,464.1 1458.9,466.8 1431.7,472.2 1430.3,475.0 1458.9,479.0 1420.3,479.6 1420.3,492.1 1442.6,492.6 1438.5,495.4 1526.9,498.6 1448.0,500.0 1622.0,500.8 1622.0,502.7 1438.5,503.0 1429.0,504.9 1427.6,509.0 1430.3,513.0 1427.6,517.1 1429.0,521.2 1452.9,522.6 1420.3,523.9 1542.6,526.9 1420.3,528.5 1420.3,553.0 1515.4,554.6 1423.5,556.8 1430.3,560.6 1420.3,563.3 1422.2,567.4 1420.3,571.5 1526.3,573.7 1420.3,575.9 1431.7,576.4 1420.3,577.5 1420.3,608.2 1525.5,609.0 1420.3,610.1 1419.7,636.8 1420.8,644.9 1419.7,658.5 1419.2,742.8 1418.6,745.0 1426.8,748.3 1426.2,751.0 1436.6,757.8 1436.6,757.8 1436.5,758.2 1436.3,758.8 1436.1,759.5 1435.9,760.3 1435.8,761.1 1435.8,761.9 1435.9,762.7 1436.1,763.5 1436.5,764.3 1436.8,765.3 1437.0,766.2 1437.1,767.3 1437.0,768.5 1436.9,769.7 1436.6,771.1 1436.3,772.5 1436.0,773.9 1435.8,775.5 1435.5,777.1 1435.3,778.8 1435.0,780.6 1434.8,782.4 1434.6,784.4 1434.4,786.4 1434.2,788.5 1434.1,790.7 1434.0,793.0 1433.9,795.3 1433.7,797.7 1433.6,800.0 1433.4,801.9 1433.1,803.6 1432.8,805.3 1432.5,807.3 1432.3,809.9 1432.2,813.5 1432.2,818.3 1432.4,824.1 1432.5,830.5 1432.7,837.2 1432.9,844.1 1433.0,850.8 1433.1,857.6 1433.0,864.8 1433.0,872.2 1433.0,879.3 1433.0,885.8 1433.0,891.6 1433.1,896.3 1433.3,900.1 1433.5,903.5 1433.7,906.6 1434.0,909.8 1434.4,913.3 1434.9,917.3 1435.4,921.3 1436.1,925.4 1436.8,929.6 1437.6,933.7 1438.5,937.8 1439.4,941.9 1440.4,946.1 1441.5,950.3 1442.7,954.4 1443.9,958.5 1445.3,962.3 1446.7,965.9 1448.1,969.3 1449.7,972.6 1451.3,975.8 1453.0,979.2 1454.8,982.7 1456.7,986.4 1458.7,990.2 1460.8,994.2 1462.9,998.1 1465.0,1002.0 1467.0,1005.8 1469.0,1009.5 1471.0,1013.3 1472.9,1016.9 1474.7,1020.6 1476.4,1024.1 1477.9,1027.6 1479.2,1031.0 1480.2,1034.3 1481.1,1037.6 1481.9,1040.8 1482.7,1043.8 1483.3,1046.6 1484.0,1049.2 1484.6,1051.6 1485.1,1053.9 1485.6,1056.1 1485.9,1058.2 1486.1,1060.2 1486.1,1062.1 1486.1,1063.8 1485.9,1065.5 1485.6,1067.2 1485.2,1069.0 1484.7,1071.1 1484.0,1073.5 1483.1,1076.3 1482.1,1079.1 1481.1,1082.0 1480.1,1084.8 1479.3,1087.4 1478.6,1089.6 1477.9,1091.5 1477.4,1093.3 1476.8,1095.2 1476.4,1097.4 1476.0,1100.0 1475.7,1103.2 1475.6,1107.0 1475.5,1111.0 1475.4,1115.0 1475.2,1118.9 1475.0,1122.4 1474.8,1125.4 1474.6,1128.2 1474.4,1130.8 1474.0,1133.3 1473.5,1135.8 1472.8,1138.4 1471.9,1141.1 1470.7,1143.9 1469.5,1146.6 1468.0,1149.3 1466.5,1151.9 1464.8,1154.4 1462.9,1156.7 1460.8,1158.9 1458.5,1161.0 1456.2,1163.1 1454.0,1165.1 1452.0,1167.2 1450.2,1169.4 1448.4,1171.6 1446.7,1173.8 1445.1,1176.0 1443.7,1178.1 1442.4,1180.0 1441.3,1181.9 1440.3,1183.8 1439.4,1185.6 1438.7,1187.2 1438.1,1188.6 1437.6,1189.6 1437.6,1189.6 1442.4,1191.8 1468.0,1193.8 1484.0,1195.0" fill="none" stroke="#0000ff" stroke-width="1.6" stroke-linejoin="round"/>
<polyline points="1622.0,131.8 1612.5,132.3 1622.0,132.8 1622.0,142.6 1614.4,143.2 1570.4,148.1 1598.9,151.3 1510.5,160.3 1516.0,164.4 1472.5,176.6 1477.9,179.4 1450.7,188.9 1441.2,197.0 1448.0,202.5 1429.0,210.6 1423.5,211.2 1429.0,212.0 1446.6,214.7 1424.9,218.8 1418.6,220.1" fill="none" stroke="#ff0000" stroke-width="1.6" stroke-linejoin="round"/>
<polyline points="1418.6,332.5 1445.3,334.4 1431.7,337.1 1433.0,340.6 1448.0,343.3 1457.5,346.6 1441.2,350.7 1461.0,353.9 1439.8,356.1 1430.3,360.2 1420.8,364.3 1443.9,366.2 1431.7,368.9 1419.4,373.0 1429.0,375.2 1438.5,377.9 1443.9,380.6 1435.8,384.7 1442.6,390.1 1435.8,394.2 1437.1,399.6 1434.4,402.4 1442.6,407.8 1458.9,411.9 1475.2,416.0 1491.5,420.0 1487.4,425.5 1488.8,430.9 1499.7,433.6 1480.6,439.1 1494.2,444.5 1491.5,448.6 1479.3,452.7 1476.5,460.8 1467.0,466.3 1458.9,471.7 1450.7,478.5 1480.6,461.4 1469.7,465.4 1458.9,469.5 1450.7,473.6 1453.4,477.7 1448.0,483.1 1449.4,487.2 1438.5,491.3 1426.2,493.2 1438.5,495.4 1435.8,502.2 1438.5,509.0 1429.0,514.4 1433.0,518.5 1428.4,523.9 1433.0,529.4 1426.8,533.4 1427.6,540.2 1433.0,547.0 1434.4,551.1 1442.0,556.5 1443.9,560.1 1435.8,564.7 1433.0,571.5 1434.4,582.4 1431.7,593.3 1432.2,600.1 1445.3,605.5 1449.4,612.3 1451.3,617.7 1458.9,623.2 1461.6,631.3 1462.9,638.1 1473.8,648.5 1465.7,654.5 1469.7,664.0 1469.7,674.8 1476.5,685.2 1472.5,693.9 1475.2,708.0 1462.9,714.3 1457.5,721.1 1456.1,727.9 1445.3,734.7 1442.0,742.8 1438.5,752.4 1433.0,759.2 1433.0,759.2 1432.9,760.3 1432.7,761.8 1432.5,763.6 1432.2,765.6 1431.9,767.8 1431.7,770.0 1431.4,772.4 1431.1,774.9 1430.7,777.5 1430.4,780.3 1430.1,783.3 1429.8,786.4 1429.5,789.9 1429.2,793.9 1429.0,798.1 1428.7,802.1 1428.6,805.6 1428.4,808.1 1428.3,809.0 1428.3,808.3 1428.4,807.0 1428.4,806.2 1428.4,806.9 1428.4,810.0 1428.3,816.3 1428.2,825.2 1428.1,835.6 1427.9,846.3 1427.7,856.3 1427.6,864.4 1427.4,870.5 1427.3,875.5 1427.1,879.7 1427.0,883.5 1426.9,887.4 1426.8,891.6 1426.7,896.1 1426.7,900.7 1426.7,905.2 1426.8,909.7 1426.9,914.3 1427.0,918.8 1427.2,923.4 1427.5,928.1 1427.8,932.7 1428.1,937.3 1428.5,941.8 1429.0,946.0 1429.5,950.0 1430.1,953.7 1430.8,957.4 1431.5,960.9 1432.2,964.3 1433.0,967.7 1433.8,971.0 1434.6,974.2 1435.5,977.3 1436.4,980.3 1437.4,983.5 1438.5,986.8 1439.7,990.3 1441.0,993.9 1442.5,997.7 1443.9,1001.4 1445.3,1005.0 1446.6,1008.5 1447.9,1011.9 1449.1,1015.1 1450.3,1018.2 1451.4,1021.3 1452.5,1024.4 1453.4,1027.6 1454.3,1030.7 1455.0,1033.9 1455.7,1037.1 1456.4,1040.3 1456.9,1043.4 1457.5,1046.6 1458.0,1049.8 1458.5,1053.2 1459.0,1056.5 1459.4,1059.7 1459.8,1062.8 1460.2,1065.6 1460.7,1068.2 1461.0,1070.5 1461.4,1072.6 1461.8,1074.7 1462.3,1076.9 1462.9,1079.2 1463.7,1081.8 1464.7,1084.5 1465.7,1087.2 1466.7,1090.0 1467.6,1092.8 1468.4,1095.6 1469.0,1098.4 1469.6,1101.3 1470.0,1104.3 1470.4,1107.1 1470.8,1109.7 1471.1,1111.9 1471.3,1113.5 1471.4,1114.5 1471.5,1115.4 1471.5,1116.2 1471.6,1117.4 1471.8,1119.2 1472.2,1121.7 1472.6,1124.8 1473.1,1128.3 1473.6,1131.8 1474.0,1135.2 1474.4,1138.4 1474.7,1141.3 1475.0,1144.1 1475.2,1146.9 1475.5,1149.5 1475.7,1152.0 1476.0,1154.4 1476.3,1156.6 1476.6,1158.6 1476.9,1160.5 1477.2,1162.3 1477.7,1164.0 1478.2,1165.6 1478.9,1167.1 1479.6,1168.5 1480.5,1169.8 1481.4,1171.1 1482.6,1172.3 1484.0,1173.6 1485.7,1175.0 1487.6,1176.3 1489.8,1177.7 1492.0,1179.1 1494.4,1180.4 1496.8,1181.6 1499.5,1182.8 1502.5,1184.1 1505.6,1185.3 1508.5,1186.4 1511.0,1187.3 1512.8,1188.0 1512.8,1188.0 1564.0,1191.2 1621.6,1192.8 1621.6,1194.7 1418.7,1195.4" fill="none" stroke="#ff0000" stroke-width="1.6" stroke-linejoin="round"/>
<rect x="1453.4" y="274" width="105.3" height="74.5" fill="#f0f1f7" fill-opacity="0.85"/>
</g>
<rect x="1418.5" y="123.5" width="196.0" height="1075.0" fill="none" stroke="#000" stroke-width="1.15"/>
<text x="1408.5" y="1203.9" transform="matrix(1 0 0 1.050 0 -60.20)" text-anchor="end">0</text>
<text x="1408.5" y="988.9" transform="matrix(1 0 0 1.050 0 -49.45)" text-anchor="end">1</text>
<text x="1408.5" y="773.9" transform="matrix(1 0 0 1.050 0 -38.70)" text-anchor="end">2</text>
<text x="1408.5" y="558.9" transform="matrix(1 0 0 1.050 0 -27.95)" text-anchor="end">3</text>
<text x="1408.5" y="343.9" transform="matrix(1 0 0 1.050 0 -17.20)" text-anchor="end">4</text>
<text x="1408.5" y="128.9" transform="matrix(1 0 0 1.050 0 -6.45)" text-anchor="end">5</text>
<text x="1418.0" y="1220" transform="matrix(1 0 0 1.050 0 -61.00)" text-anchor="middle">0.0</text>
<text x="1484.0" y="1220" transform="matrix(1 0 0 1.050 0 -61.00)" text-anchor="middle">0.1</text>
<text x="1549.0" y="1220" transform="matrix(1 0 0 1.050 0 -61.00)" text-anchor="middle">0.2</text>
<text x="1614.0" y="1220" transform="matrix(1 0 0 1.050 0 -61.00)" text-anchor="middle">0.3</text>
<path d="M1412.4 1198.0h5.6 M1615.0 1198.0h5.6 M1412.4 983.0h5.6 M1615.0 983.0h5.6 M1412.4 768.0h5.6 M1615.0 768.0h5.6 M1412.4 553.0h5.6 M1615.0 553.0h5.6 M1412.4 338.0h5.6 M1615.0 338.0h5.6 M1412.4 123.0h5.6 M1615.0 123.0h5.6 M1418.0 1199.0v5.6 M1418.0 117.4v5.6 M1484.0 1199.0v5.6 M1484.0 117.4v5.6 M1549.0 1199.0v5.6 M1549.0 117.4v5.6 M1614.0 1199.0v5.6 M1614.0 117.4v5.6" stroke="#000" stroke-width="2.0" fill="none"/>
<path d="M1815.5 123.5V1198.5 M1893.5 123.5V1198.5 M1737.5 983.5H1932.5 M1737.5 768.5H1932.5 M1737.5 553.5H1932.5 M1737.5 338.5H1932.5" stroke="#b0b0b0" stroke-width="1" fill="none"/>
<g clip-path="url(#c5)">
<polyline points="1745.1,123.6 1745.4,125.3 1745.6,127.1 1746.0,128.8 1745.5,130.6 1746.0,132.3 1744.0,134.1 1745.0,135.8 1746.1,137.5 1745.5,139.3 1746.1,141.0 1744.4,142.8 1745.2,144.5 1744.8,146.3 1745.5,148.0 1745.6,149.7 1744.4,151.5 1744.8,153.2 1745.0,155.0 1746.5,156.7 1746.2,158.5 1744.9,160.2 1746.3,162.0 1744.9,163.7 1746.0,165.4 1744.9,167.2 1744.7,168.9 1746.6,170.7 1745.2,172.4 1745.3,174.2 1747.0,175.9 1746.8,177.6 1745.5,179.4 1747.0,181.1 1746.1,182.9 1746.5,184.6 1745.5,186.4 1747.1,188.1 1746.6,189.8 1747.3,191.6 1747.1,193.3 1745.8,195.0 1745.9,196.8 1745.4,198.5 1745.4,200.2 1745.2,201.9 1745.7,203.6 1746.3,205.4 1745.0,207.1 1746.4,208.8 1745.7,210.5 1745.6,212.3 1746.7,214.0 1745.9,215.7 1745.6,217.4 1745.9,219.1 1746.4,220.9 1744.9,222.6 1746.9,224.3 1744.8,226.0 1746.4,227.8 1746.6,229.5 1744.8,231.2 1746.4,232.9 1745.5,234.6 1745.9,236.4 1744.7,238.1 1744.7,239.8 1745.0,241.5 1746.7,243.3 1745.2,245.0 1746.6,246.8 1747.2,248.5 1747.4,250.3 1746.3,252.1 1746.5,253.8 1747.1,255.6 1747.8,257.3 1746.6,259.1 1748.2,260.9 1748.5,262.6 1748.8,264.4 1747.2,266.1 1749.4,267.9 1747.7,269.7 1748.4,271.4 1749.2,273.2 1750.1,275.0 1749.0,276.8 1750.4,278.6 1749.8,280.4 1749.4,282.2 1749.6,284.1 1749.5,285.9 1749.5,287.7 1749.8,289.5 1751.2,291.3 1752.0,293.1 1750.4,294.9 1750.3,296.7 1752.6,298.6 1751.7,300.4 1751.6,302.1 1751.3,303.8 1752.2,305.5 1752.8,307.2 1752.1,308.9 1752.1,310.6 1751.4,312.3 1753.4,314.0 1751.5,315.7 1752.6,317.4 1753.5,319.1 1752.0,320.8 1753.5,322.5 1754.0,324.3 1753.4,326.0 1753.9,327.7 1752.5,329.4 1753.3,331.1 1752.8,332.8 1754.4,334.5 1753.3,336.2 1753.7,337.9 1755.1,339.7 1754.8,341.5 1755.2,343.3 1754.2,345.1 1754.4,346.9 1755.0,348.7 1754.6,350.4 1754.3,352.2 1754.6,354.0 1754.2,355.8 1754.8,357.6 1756.3,359.4 1756.3,361.2 1755.7,363.0 1755.5,364.8 1755.3,366.6 1754.8,368.4 1755.3,370.1 1756.5,371.9 1756.8,373.7 1755.8,375.5 1756.8,377.2 1756.9,379.0 1756.8,380.8 1756.8,382.6 1757.1,384.3 1756.3,386.1 1757.1,387.9 1756.3,389.6 1756.8,391.4 1757.5,393.2 1757.4,395.0 1756.6,396.7 1758.1,398.5 1757.6,400.3 1757.5,402.1 1756.3,403.8 1757.6,405.6 1757.0,407.4 1758.0,409.2 1757.6,410.9 1758.4,412.7 1758.1,414.5 1758.5,416.2 1757.5,418.0 1758.2,419.8 1758.5,421.5 1758.7,423.3 1757.7,425.1 1758.8,426.8 1758.9,428.6 1758.6,430.4 1759.2,432.1 1759.2,433.9 1758.3,435.7 1758.4,437.4 1757.6,439.2 1759.1,441.0 1759.4,442.7 1758.4,444.5 1758.9,446.2 1759.0,448.0 1759.1,449.7 1757.9,451.4 1759.2,453.1 1758.8,454.8 1759.0,456.6 1758.5,458.3 1759.0,460.0 1759.4,461.8 1759.1,463.5 1759.4,465.3 1757.9,467.1 1758.2,468.9 1758.9,470.6 1759.4,472.4 1758.5,474.2 1759.6,476.0 1759.5,477.7 1758.3,479.5 1759.2,481.3 1758.8,483.1 1758.4,484.8 1758.6,486.6 1759.1,488.4 1758.8,490.2 1758.9,491.9 1758.6,493.7 1759.6,495.5 1759.5,497.2 1760.0,499.0 1760.0,500.8 1759.3,502.5 1760.8,504.3 1758.8,506.0 1759.7,507.8 1759.4,509.5 1759.7,511.2 1759.1,513.0 1760.7,514.7 1759.7,516.5 1759.0,518.2 1760.3,519.9 1759.2,521.7 1760.2,523.4 1759.7,525.2 1760.3,526.9 1761.1,528.6 1760.8,530.4 1760.0,532.1 1760.9,533.9 1760.5,535.6 1759.9,537.3 1759.4,539.1 1760.5,540.8 1760.4,542.6 1761.3,544.3 1761.3,546.0 1760.6,547.8 1760.0,549.5 1761.2,551.3 1759.3,553.0 1759.6,554.8 1760.7,556.5 1761.0,558.2 1760.0,560.0 1761.2,561.7 1761.9,563.5 1760.9,565.2 1761.1,566.9 1760.8,568.7 1761.0,570.4 1762.6,572.2 1761.4,573.9 1762.8,575.6 1762.8,577.4 1762.2,579.1 1761.6,580.9 1763.3,582.6 1762.3,584.3 1762.3,586.1 1762.2,587.8 1763.7,589.6 1762.7,591.3 1762.4,593.1 1762.9,594.8 1762.2,596.6 1763.4,598.3 1763.1,600.1 1762.9,601.8 1764.0,603.6 1764.2,605.3 1762.5,607.1 1763.8,608.8 1763.3,610.5 1764.9,612.3 1764.6,614.0 1763.5,615.8 1763.7,617.5 1763.5,619.3 1765.5,621.0 1764.0,622.8 1764.8,624.5 1764.6,626.3 1765.1,628.0 1765.1,629.8 1765.5,631.5 1764.2,633.3 1765.7,635.0 1764.8,636.8 1765.3,638.5 1764.9,640.3 1764.8,642.0 1765.3,643.8 1765.2,645.5 1765.0,647.3 1765.8,649.1 1765.5,650.8 1764.3,652.6 1764.7,654.3 1765.2,656.1 1766.2,657.8 1766.1,659.6 1765.4,661.3 1764.2,663.1 1765.9,664.8 1765.1,666.6 1765.4,668.4 1765.7,670.1 1765.6,671.9 1765.2,673.6 1766.2,675.4 1765.0,677.1 1765.0,678.9 1766.0,680.6 1764.6,682.4 1764.8,684.1 1766.0,685.9 1764.3,687.7 1766.0,689.4 1765.7,691.2 1765.1,692.9 1764.9,694.7 1766.0,696.4 1766.3,698.2 1764.6,699.9 1765.4,701.7 1765.6,703.4 1765.5,705.2 1765.1,707.0 1764.8,708.7 1765.7,710.5 1766.3,712.2 1764.7,714.0 1765.0,715.7 1766.4,717.5 1766.3,719.2 1766.1,721.0 1764.7,722.7 1766.3,724.5 1766.9,726.3 1766.9,728.0 1766.3,729.8 1764.9,731.5 1766.7,733.3 1765.3,735.0 1766.3,736.8 1767.0,738.5 1766.5,740.3 1765.2,742.0 1765.6,743.8 1767.0,745.6 1765.4,747.4 1766.4,749.2 1766.0,751.1 1765.5,752.9 1766.6,754.7 1765.4,756.6 1765.5,758.4 1766.2,760.2 1765.6,762.1 1765.6,763.9 1766.8,765.8 1767.2,767.6 1767.5,769.4 1765.8,771.2 1766.5,773.0 1766.2,774.7 1766.9,776.5 1766.6,778.3 1767.6,780.1 1766.4,781.9 1765.7,783.7 1767.1,785.5 1765.9,787.3 1766.9,789.1 1766.5,790.8 1767.3,792.6 1766.5,794.3 1766.5,796.1 1765.6,797.8 1766.2,799.6 1765.4,801.3 1766.4,803.1 1765.8,804.8 1764.9,806.6 1765.0,808.3 1765.2,810.1 1765.9,811.8 1764.6,813.5 1765.5,815.6 1765.0,817.7 1763.5,819.7 1764.5,821.8 1763.1,823.5 1763.1,825.2 1764.1,826.9 1763.2,828.6 1764.6,830.3 1763.6,832.0 1763.2,833.7 1764.2,835.4 1762.4,837.1 1763.8,838.8 1762.3,840.5 1762.4,842.2 1764.1,843.9 1763.4,845.6 1762.3,847.3 1762.0,849.0 1763.8,850.7 1763.1,852.4 1763.4,854.1 1761.8,855.9 1762.9,857.6 1762.3,859.4 1762.0,861.2 1762.2,862.9 1762.8,864.7 1762.2,866.5 1762.3,868.2 1761.7,870.0 1763.3,871.8 1762.8,873.5 1763.2,875.3 1762.3,877.1 1763.3,878.8 1762.5,880.6 1762.7,882.4 1762.6,884.1 1763.0,885.9 1762.2,887.6 1761.5,889.4 1761.4,891.2 1761.7,892.9 1761.4,894.7 1763.2,896.5 1762.3,898.2 1762.9,900.0 1761.2,901.8 1762.1,903.5 1763.0,905.3 1762.4,907.1 1761.9,908.8 1761.9,910.6 1761.1,912.4 1761.2,914.1 1761.1,915.9 1761.6,917.6 1761.5,919.4 1762.6,921.2 1760.9,922.9 1761.1,924.7 1761.1,926.5 1760.8,928.2 1761.0,930.0 1760.9,931.8 1761.4,933.5 1760.3,935.3 1762.3,937.1 1761.0,938.8 1762.2,940.6 1761.6,942.4 1761.5,944.1 1761.1,945.9 1762.1,947.6 1760.2,949.4 1761.4,951.2 1760.6,952.9 1761.4,954.7 1761.5,956.5 1760.2,958.2 1760.3,960.0 1759.8,961.8 1760.3,963.5 1759.9,965.3 1760.6,967.1 1761.8,968.8 1760.5,970.6 1760.3,972.4 1760.6,974.1 1760.2,975.9 1761.2,977.6 1761.1,979.4 1759.9,981.2 1760.6,982.9 1760.3,982.9 1760.7,985.5 1760.9,988.0 1760.5,990.5 1760.2,993.1 1760.7,995.6 1759.7,998.1 1759.7,1000.7 1760.3,1003.2 1759.9,1005.7 1759.5,1008.3 1759.9,1010.8 1760.3,1013.3 1759.7,1015.9 1759.6,1018.5 1759.4,1021.1 1759.4,1023.7 1760.2,1026.3 1759.9,1028.9 1760.3,1031.5 1759.5,1034.0 1759.7,1036.6 1759.6,1039.2 1759.9,1041.8 1759.6,1044.4 1759.9,1047.0 1760.1,1049.6 1760.0,1052.2 1759.8,1054.8 1759.8,1057.4 1760.8,1060.0 1760.0,1062.6 1760.4,1065.2 1760.3,1067.8 1760.5,1070.4 1760.1,1073.0 1760.3,1075.6 1760.1,1078.2 1760.6,1080.8 1761.0,1083.4 1760.7,1086.0 1761.0,1088.5 1760.4,1091.1 1760.3,1093.7 1760.8,1096.3 1760.8,1098.9 1760.9,1101.5 1760.8,1104.1 1761.1,1106.8 1761.3,1109.5 1761.5,1112.1 1761.0,1114.8 1761.2,1117.5 1761.7,1120.2 1761.2,1122.8 1761.1,1125.5 1761.4,1128.2 1761.3,1130.9 1762.0,1133.5 1762.3,1136.1 1762.0,1138.8 1762.1,1141.4 1762.3,1144.0 1762.7,1146.6 1762.7,1149.2 1763.3,1151.8 1763.7,1154.4 1763.6,1157.1 1763.5,1159.7 1764.2,1162.4 1763.6,1165.1 1763.8,1167.8 1764.0,1170.4 1764.2,1173.1 1764.0,1175.8 1764.4,1178.4 1764.4,1181.1 1764.9,1183.8 1764.7,1186.5 1766.2,1193.8 1752.9,1196.8" fill="none" stroke="#0000ff" stroke-width="1.6" stroke-linejoin="round"/>
<polyline points="1939.3,129.0 1927.1,130.4 1939.3,131.2" fill="none" stroke="#008000" stroke-width="1.6" stroke-linejoin="round"/>
<polyline points="1939.3,163.8 1923.6,164.7 1939.3,165.2" fill="none" stroke="#008000" stroke-width="1.6" stroke-linejoin="round"/>
<polyline points="1939.3,176.1 1912.9,177.4 1939.3,178.8" fill="none" stroke="#008000" stroke-width="1.6" stroke-linejoin="round"/>
<polyline points="1939.3,186.7 1927.1,187.2 1939.3,187.8" fill="none" stroke="#008000" stroke-width="1.6" stroke-linejoin="round"/>
<polyline points="1939.3,212.3 1929.8,212.8 1939.3,213.3" fill="none" stroke="#008000" stroke-width="1.6" stroke-linejoin="round"/>
<polyline points="1939.3,228.0 1927.1,228.8 1939.3,229.4" fill="none" stroke="#008000" stroke-width="1.6" stroke-linejoin="round"/>
<polyline points="1939.3,241.4 1890.4,243.3 1939.3,244.6" fill="none" stroke="#008000" stroke-width="1.6" stroke-linejoin="round"/>
<polyline points="1935.6,858.5 1936.2,860.2 1934.1,862.0 1933.6,863.7 1931.7,865.4 1930.1,867.1 1930.9,868.8 1930.4,870.5 1932.1,872.3 1931.2,874.0 1931.4,875.7 1929.5,877.4 1932.4,879.1 1929.0,880.9 1926.4,882.6 1924.7,884.4 1923.9,886.2 1923.0,887.9 1925.6,889.8 1924.3,891.6 1923.8,893.5 1927.7,895.3 1925.7,897.0 1922.1,898.7 1921.2,900.3 1920.5,902.0 1920.5,903.7 1921.9,905.4 1921.3,907.1 1917.2,909.0 1912.9,911.0 1911.4,912.9 1911.5,914.8 1911.7,916.6 1910.5,918.5 1913.6,920.3 1914.1,921.9 1912.9,923.6 1909.1,925.3 1910.4,926.9 1908.0,928.6 1909.8,930.2 1907.8,931.9 1909.5,933.5 1908.4,935.2 1904.8,936.8 1905.4,938.5 1907.9,940.1 1905.3,941.8 1904.8,943.5 1904.5,945.1 1905.7,946.8 1905.8,948.5 1903.1,950.2 1904.5,951.9 1901.9,953.6 1898.8,955.3 1901.5,957.1 1899.0,958.7 1896.6,960.4 1900.4,962.1 1895.2,963.8 1897.2,965.5 1896.1,967.1 1897.4,968.8 1894.3,970.5 1892.8,972.3 1892.3,974.0 1891.2,975.7 1892.2,977.4 1890.5,979.1 1894.6,981.3 1895.6,983.5 1894.9,983.5 1893.0,985.4 1890.5,987.2 1890.3,989.0 1887.7,990.9 1887.0,992.9 1885.6,995.0 1884.2,997.1 1882.7,999.1 1883.9,1001.2 1882.4,1003.1 1880.7,1005.1 1880.5,1007.1 1879.9,1009.0 1881.1,1011.0 1881.1,1012.9 1879.1,1014.8 1880.7,1016.6 1879.3,1018.5 1880.2,1020.3 1880.6,1022.1 1879.9,1024.0 1880.3,1025.8 1879.1,1027.6 1877.7,1029.6 1878.8,1031.6 1878.7,1033.5 1877.2,1035.5 1877.5,1037.5 1876.9,1039.4 1875.8,1041.4 1876.3,1043.3 1876.1,1045.3 1876.1,1047.2 1876.5,1049.0 1875.4,1050.9 1876.8,1052.8 1876.0,1054.7 1876.1,1056.5 1875.1,1058.4 1874.8,1060.3 1874.2,1062.1 1874.6,1064.0 1873.1,1065.9 1873.5,1067.8 1873.4,1069.8 1872.6,1071.8 1871.6,1073.7 1870.7,1075.7 1870.4,1077.6 1870.8,1079.6 1871.1,1081.6 1871.3,1083.5 1871.0,1085.4 1869.6,1087.3 1871.1,1089.1 1869.1,1091.0 1870.1,1092.9 1868.1,1094.8 1869.8,1096.6 1869.4,1098.5 1869.9,1100.4 1869.6,1102.2 1868.8,1104.1 1869.0,1106.1 1868.6,1108.0 1868.1,1110.0 1866.8,1112.0 1867.5,1113.9 1868.4,1115.9 1866.4,1117.8 1868.3,1119.8 1866.9,1121.8 1866.6,1123.7 1865.7,1125.7 1866.9,1127.6 1866.5,1129.6 1867.9,1131.6 1868.8,1133.5 1869.5,1135.5 1869.4,1137.5 1869.5,1139.4 1869.5,1141.4 1871.9,1143.3 1872.2,1145.3 1872.8,1147.3 1871.9,1149.2 1873.4,1151.2 1871.6,1153.1 1872.0,1155.1 1872.0,1157.1 1873.1,1159.0 1874.0,1161.0 1872.0,1162.9 1873.2,1164.8 1873.5,1166.6 1871.8,1168.5 1871.3,1170.3 1872.6,1172.1 1873.2,1174.0 1873.2,1175.8 1872.7,1177.6 1871.5,1179.9 1871.1,1182.1 1871.0,1184.3 1870.6,1186.5 1875.9,1187.1 1870.0,1190.9 1875.9,1194.7 1814.7,1196.8" fill="none" stroke="#008000" stroke-width="1.6" stroke-linejoin="round"/>
</g>
<rect x="1737.5" y="123.5" width="195.0" height="1075.0" fill="none" stroke="#000" stroke-width="1.15"/>
<text x="1727.5" y="1203.9" transform="matrix(1 0 0 1.050 0 -60.20)" text-anchor="end">0</text>
<text x="1727.5" y="988.9" transform="matrix(1 0 0 1.050 0 -49.45)" text-anchor="end">1</text>
<text x="1727.5" y="773.9" transform="matrix(1 0 0 1.050 0 -38.70)" text-anchor="end">2</text>
<text x="1727.5" y="558.9" transform="matrix(1 0 0 1.050 0 -27.95)" text-anchor="end">3</text>
<text x="1727.5" y="343.9" transform="matrix(1 0 0 1.050 0 -17.20)" text-anchor="end">4</text>
<text x="1727.5" y="128.9" transform="matrix(1 0 0 1.050 0 -6.45)" text-anchor="end">5</text>
<text x="1737.0" y="1220" transform="matrix(1 0 0 1.050 0 -61.00)" text-anchor="middle">0</text>
<text x="1815.0" y="1220" transform="matrix(1 0 0 1.050 0 -61.00)" text-anchor="middle">20</text>
<text x="1893.0" y="1220" transform="matrix(1 0 0 1.050 0 -61.00)" text-anchor="middle">40</text>
<text x="1737.0" y="109.6" transform="matrix(1 0 0 1.050 0 -5.48)" text-anchor="middle">0</text>
<text x="1835.0" y="109.6" transform="matrix(1 0 0 1.050 0 -5.48)" text-anchor="middle">50</text>
<text x="1932.0" y="109.6" transform="matrix(1 0 0 1.050 0 -5.48)" text-anchor="middle">100</text>
<path d="M1731.4 1198.0h5.6 M1933.0 1198.0h5.6 M1731.4 983.0h5.6 M1933.0 983.0h5.6 M1731.4 768.0h5.6 M1933.0 768.0h5.6 M1731.4 553.0h5.6 M1933.0 553.0h5.6 M1731.4 338.0h5.6 M1933.0 338.0h5.6 M1731.4 123.0h5.6 M1933.0 123.0h5.6 M1737.0 1199.0v5.6 M1815.0 1199.0v5.6 M1893.0 1199.0v5.6 M1737.0 117.4v5.6 M1835.0 117.4v5.6 M1932.0 117.4v5.6" stroke="#000" stroke-width="2.0" fill="none"/>
<text x="1458" y="294.0" transform="matrix(1 0 0 1.050 0 -14.70)"><tspan font-family="DejaVu Sans, Liberation Sans, sans-serif" font-style="italic">η</tspan><tspan font-family="DejaVu Sans, Liberation Sans, sans-serif" font-size="10.7px" dy="3.6">355</tspan><tspan dy="-3.6">: 109.77</tspan></text>
<text x="1458" y="316.6" transform="matrix(1 0 0 1.050 0 -15.83)"><tspan font-family="DejaVu Sans, Liberation Sans, sans-serif" font-style="italic">η</tspan><tspan font-family="DejaVu Sans, Liberation Sans, sans-serif" font-size="10.7px" dy="3.6">532</tspan><tspan dy="-3.6">: 10.72</tspan></text>
<text x="1458" y="338.0" transform="matrix(1 0 0 1.050 0 -16.90)"><tspan font-family="DejaVu Sans, Liberation Sans, sans-serif" font-style="italic">η</tspan><tspan font-family="DejaVu Sans, Liberation Sans, sans-serif" font-size="10.7px" dy="3.6">1064</tspan><tspan dy="-3.6">: 0.33</tspan></text>
<rect x="88.2" y="131.2" width="245.6" height="202.8" rx="3.5" fill="#fff" fill-opacity="0.8" stroke="#ccc" stroke-opacity="0.8" stroke-width="1.1"/>
<line x1="93.3" y1="144.8" x2="126.6" y2="144.8" stroke="#0000ff" stroke-width="1.6"/>
<text x="139.4" y="150.7" transform="matrix(1 0 0 1.050 0 -7.54)">aerBsc_raman_355_FR</text>
<line x1="93.3" y1="169.6" x2="126.6" y2="169.6" stroke="#008000" stroke-width="1.6"/>
<text x="139.4" y="175.5" transform="matrix(1 0 0 1.050 0 -8.78)">aerBsc_raman_532_FR</text>
<line x1="93.3" y1="194.5" x2="126.6" y2="194.5" stroke="#ff0000" stroke-width="1.6"/>
<text x="139.4" y="200.4" transform="matrix(1 0 0 1.050 0 -10.02)">aerBsc_raman_1064_FR</text>
<line x1="93.3" y1="219.3" x2="126.6" y2="219.3" stroke="#800080" stroke-width="1.6" stroke-dasharray="5.8,2.5"/>
<text x="139.4" y="225.2" transform="matrix(1 0 0 1.050 0 -11.26)">aerBsc_RR_355_FR</text>
<line x1="93.3" y1="244.2" x2="126.6" y2="244.2" stroke="#808000" stroke-width="1.6" stroke-dasharray="5.8,2.5"/>
<text x="139.4" y="250.1" transform="matrix(1 0 0 1.050 0 -12.51)">aerBsc_RR_532_FR</text>
<line x1="93.3" y1="269.1" x2="126.6" y2="269.1" stroke="#ffa07a" stroke-width="1.6" stroke-dasharray="5.8,2.5"/>
<text x="139.4" y="274.9" transform="matrix(1 0 0 1.050 0 -13.75)">aerBsc_RR_1064_FR</text>
<line x1="93.3" y1="293.9" x2="126.6" y2="293.9" stroke="#00ffff" stroke-width="1.6" stroke-opacity="0.5"/>
<text x="139.4" y="299.8" transform="matrix(1 0 0 1.050 0 -14.99)">aerBsc_raman_355_NR</text>
<line x1="93.3" y1="318.8" x2="126.6" y2="318.8" stroke="#00ff00" stroke-width="1.6" stroke-opacity="0.5"/>
<text x="139.4" y="324.6" transform="matrix(1 0 0 1.050 0 -16.23)">aerBsc_raman_532_NR</text>
<rect x="408.4" y="131.2" width="242.8" height="202.8" rx="3.5" fill="#fff" fill-opacity="0.8" stroke="#ccc" stroke-opacity="0.8" stroke-width="1.1"/>
<line x1="413.8" y1="144.8" x2="446.6" y2="144.8" stroke="#0000ff" stroke-width="1.6"/>
<text x="458.9" y="150.7" transform="matrix(1 0 0 1.050 0 -7.54)">aerExt_raman_355_FR</text>
<line x1="413.8" y1="169.6" x2="446.6" y2="169.6" stroke="#008000" stroke-width="1.6"/>
<text x="458.9" y="175.5" transform="matrix(1 0 0 1.050 0 -8.78)">aerExt_raman_532_FR</text>
<line x1="413.8" y1="194.5" x2="446.6" y2="194.5" stroke="#ff0000" stroke-width="1.6"/>
<text x="458.9" y="200.4" transform="matrix(1 0 0 1.050 0 -10.02)">aerExt_raman_1064_FR</text>
<line x1="413.8" y1="219.3" x2="446.6" y2="219.3" stroke="#800080" stroke-width="1.6" stroke-dasharray="5.8,2.5"/>
<text x="458.9" y="225.2" transform="matrix(1 0 0 1.050 0 -11.26)">aerExt_RR_355_FR</text>
<line x1="413.8" y1="244.2" x2="446.6" y2="244.2" stroke="#808000" stroke-width="1.6" stroke-dasharray="5.8,2.5"/>
<text x="458.9" y="250.1" transform="matrix(1 0 0 1.050 0 -12.51)">aerExt_RR_532_FR</text>
<line x1="413.8" y1="269.1" x2="446.6" y2="269.1" stroke="#ffa07a" stroke-width="1.6" stroke-dasharray="5.8,2.5"/>
<text x="458.9" y="274.9" transform="matrix(1 0 0 1.050 0 -13.75)">aerExt_RR_1064_FR</text>
<line x1="413.8" y1="293.9" x2="446.6" y2="293.9" stroke="#00ffff" stroke-width="1.6" stroke-opacity="0.5"/>
<text x="458.9" y="299.8" transform="matrix(1 0 0 1.050 0 -14.99)">aerExt_raman_355_NR</text>
<line x1="413.8" y1="318.8" x2="446.6" y2="318.8" stroke="#00ff00" stroke-width="1.6" stroke-opacity="0.5"/>
<text x="458.9" y="324.6" transform="matrix(1 0 0 1.050 0 -16.23)">aerExt_raman_532_NR</text>
<rect x="731.0" y="131.2" width="238.0" height="202.8" rx="3.5" fill="#fff" fill-opacity="0.8" stroke="#ccc" stroke-opacity="0.8" stroke-width="1.1"/>
<line x1="736.4" y1="144.8" x2="769.0" y2="144.8" stroke="#0000ff" stroke-width="1.6"/>
<text x="781.2" y="150.7" transform="matrix(1 0 0 1.050 0 -7.54)">aerLR_raman_355_FR</text>
<line x1="736.4" y1="169.6" x2="769.0" y2="169.6" stroke="#008000" stroke-width="1.6"/>
<text x="781.2" y="175.5" transform="matrix(1 0 0 1.050 0 -8.78)">aerLR_raman_532_FR</text>
<line x1="736.4" y1="194.5" x2="769.0" y2="194.5" stroke="#ff0000" stroke-width="1.6"/>
<text x="781.2" y="200.4" transform="matrix(1 0 0 1.050 0 -10.02)">aerLR_raman_1064_FR</text>
<line x1="736.4" y1="219.3" x2="769.0" y2="219.3" stroke="#800080" stroke-width="1.6" stroke-dasharray="5.8,2.5"/>
<text x="781.2" y="225.2" transform="matrix(1 0 0 1.050 0 -11.26)">aerLR_RR_355_FR</text>
<line x1="736.4" y1="244.2" x2="769.0" y2="244.2" stroke="#808000" stroke-width="1.6" stroke-dasharray="5.8,2.5"/>
<text x="781.2" y="250.1" transform="matrix(1 0 0 1.050 0 -12.51)">aerLR_RR_532_FR</text>
<line x1="736.4" y1="269.1" x2="769.0" y2="269.1" stroke="#ffa07a" stroke-width="1.6" stroke-dasharray="5.8,2.5"/>
<text x="781.2" y="274.9" transform="matrix(1 0 0 1.050 0 -13.75)">aerLR_RR_1064_FR</text>
<line x1="736.4" y1="293.9" x2="769.0" y2="293.9" stroke="#00ffff" stroke-width="1.6" stroke-opacity="0.5"/>
<text x="781.2" y="299.8" transform="matrix(1 0 0 1.050 0 -14.99)">aerLR_raman_355_NR</text>
<line x1="736.4" y1="318.8" x2="769.0" y2="318.8" stroke="#00ff00" stroke-width="1.6" stroke-opacity="0.5"/>
<text x="781.2" y="324.6" transform="matrix(1 0 0 1.050 0 -16.23)">aerLR_raman_532_NR</text>
<rect x="982.7" y="131.2" width="305.3" height="78.8" rx="3.5" fill="#fff" fill-opacity="0.8" stroke="#ccc" stroke-opacity="0.8" stroke-width="1.1"/>
<line x1="987.7" y1="145.1" x2="1020.3" y2="145.1" stroke="#ffa500" stroke-width="1.6"/>
<text x="1031.7" y="151.0" transform="matrix(1 0 0 1.050 0 -7.55)">AE_beta_355_532_Raman_FR</text>
<line x1="987.7" y1="169.6" x2="1020.3" y2="169.6" stroke="#ff00ff" stroke-width="1.6"/>
<text x="1031.7" y="175.5" transform="matrix(1 0 0 1.050 0 -8.78)">AE_beta_532_1064_Raman_FR</text>
<line x1="987.7" y1="194.1" x2="1020.3" y2="194.1" stroke="#000" stroke-width="1.6"/>
<text x="1031.7" y="200.0" transform="matrix(1 0 0 1.050 0 -10.00)">AE_parExt_355_532_Raman_FR</text>
<rect x="1343.2" y="131.2" width="263.0" height="78.8" rx="3.5" fill="#fff" fill-opacity="0.8" stroke="#ccc" stroke-opacity="0.8" stroke-width="1.1"/>
<line x1="1348.0" y1="145.1" x2="1381.0" y2="145.1" stroke="#0000ff" stroke-width="1.6"/>
<text x="1392.8" y="151.0" transform="matrix(1 0 0 1.050 0 -7.55)">parDepol_raman_355_FR</text>
<line x1="1348.0" y1="169.6" x2="1381.0" y2="169.6" stroke="#008000" stroke-width="1.6"/>
<text x="1392.8" y="175.5" transform="matrix(1 0 0 1.050 0 -8.78)">parDepol_raman_532_FR</text>
<line x1="1348.0" y1="194.1" x2="1381.0" y2="194.1" stroke="#ff0000" stroke-width="1.6"/>
<text x="1392.8" y="200.0" transform="matrix(1 0 0 1.050 0 -10.00)">parDepol_raman_1064_FR</text>
<rect x="1814.2" y="131.2" width="110.1" height="29.6" rx="3.5" fill="#fff" fill-opacity="0.8" stroke="#ccc" stroke-opacity="0.8" stroke-width="1.1"/>
<line x1="1819.4" y1="144.5" x2="1852.0" y2="144.5" stroke="#0000ff" stroke-width="1.6"/>
<text x="1864.2" y="150.4" transform="matrix(1 0 0 1.050 0 -7.52)">WVMR</text>
<rect x="1824.2" y="185.4" width="81.2" height="29.2" rx="3.5" fill="#fff" fill-opacity="0.8" stroke="#ccc" stroke-opacity="0.8" stroke-width="1.1"/>
<line x1="1829.6" y1="198.4" x2="1862.2" y2="198.4" stroke="#008000" stroke-width="1.6"/>
<text x="1874.4" y="204.3" transform="matrix(1 0 0 1.050 0 -10.22)">RH</text>
<text x="1000" y="44" transform="matrix(1 0 0 1.050 0 -2.20)" text-anchor="middle" font-size="22.28px">Summary of Raman profile plots for pollyxt_lacros2 at Invercargill 20260305 10:10-11:04</text>
<text transform="translate(115.8,662) rotate(-90)" text-anchor="middle" font-size="20.15px">Height [km]</text>
<text x="243.0" y="1247.8" transform="matrix(1 0 0 1.050 0 -62.39)" text-anchor="middle" font-size="20px">Backsc. coeff. [Msr<tspan font-family="DejaVu Sans, Liberation Sans, sans-serif" font-size="14px" dy="-7.3">−1</tspan><tspan dy="7.3"> m</tspan><tspan font-family="DejaVu Sans, Liberation Sans, sans-serif" font-size="14px" dy="-7.3">−1</tspan><tspan dy="7.3">]</tspan></text>
<text x="561.5" y="1247.8" transform="matrix(1 0 0 1.050 0 -62.39)" text-anchor="middle" font-size="20px">Extinct. coeff. [Mm<tspan font-family="DejaVu Sans, Liberation Sans, sans-serif" font-size="14px" dy="-7.3">−1</tspan><tspan dy="7.3">]</tspan></text>
<text x="880.0" y="1244.4" transform="matrix(1 0 0 1.050 0 -62.22)" text-anchor="middle" font-size="20px">Lidar ratio [Sr]</text>
<text x="1198.0" y="1249.8" transform="matrix(1 0 0 1.050 0 -62.49)" text-anchor="middle" font-size="20px"><tspan font-family="DejaVu Sans, Liberation Sans, sans-serif" font-style="italic">Å</tspan>ngström Exp.</text>
<text x="1516.5" y="1243.6" transform="matrix(1 0 0 1.050 0 -62.18)" text-anchor="middle" font-size="20px">Depol. ratio</text>
<text x="1835.0" y="1247.8" transform="matrix(1 0 0 1.050 0 -62.39)" text-anchor="middle" font-size="20px">WVMR [<tspan font-family="DejaVu Sans, Liberation Sans, sans-serif" font-style="italic">g</tspan><tspan font-family="DejaVu Sans, Liberation Sans, sans-serif" dx="5" dy="1">*</tspan><tspan font-family="DejaVu Sans, Liberation Sans, sans-serif" font-style="italic" dx="5" dy="-1">kg</tspan><tspan font-family="DejaVu Sans, Liberation Sans, sans-serif" font-size="14px" dy="-7.3">−1</tspan><tspan dy="7.3">]</tspan></text>
<text x="1835.0" y="92" transform="matrix(1 0 0 1.050 0 -4.60)" text-anchor="middle" font-size="20px">Rel.Humidity [%]</text>
<rect x="195.2" y="1275.7" width="210.6" height="65.9" fill="#f0f1f7" fill-opacity="0.85"/>
<text x="200.3" y="1294.6" transform="matrix(1 0 0 1.050 0 -64.73)" font-size="15.46px">ref.H_355: 2.30-3.79 km</text><text x="200.3" y="1314" transform="matrix(1 0 0 1.050 0 -65.70)" font-size="15.46px">ref.H_532: 3.79-5.29 km</text><text x="200.3" y="1333.6" transform="matrix(1 0 0 1.050 0 -66.68)" font-size="15.46px">ref.H_1064: 3.79-5.28 km</text>
<rect x="1694.9" y="1274.2" width="165.1" height="27.6" fill="#f0f1f7" fill-opacity="0.85"/>
<text x="1700.6" y="1292" transform="matrix(1 0 0 1.050 0 -64.60)">WV-calib.const.: 6.9</text>
<text x="1001.5" y="1327.8" transform="matrix(1 0 0 1.050 0 -66.39)" font-size="13.2px" font-weight="bold" fill="#ff2626">Preliminary</text><text x="1001.5" y="1342.8" transform="matrix(1 0 0 1.050 0 -67.14)" font-size="13.2px" font-weight="bold" fill="#ff2626">Results.</text>
<text x="1501" y="1331.8" transform="matrix(1 0 0 1.050 0 -66.59)" font-size="11.1px" font-weight="bold">© TROPOS 2026.</text><text x="1500.5" y="1344" transform="matrix(1 0 0 1.050 0 -67.20)" font-size="11.1px" font-weight="bold">CC BY SA 4.0 License.</text>
<g>
<clipPath id="bclip"><rect x="664.3" y="1257" width="272.7" height="94.8" rx="4"/></clipPath>
<rect x="664.3" y="1257" width="272.7" height="94.8" rx="4" fill="#333"/>
<g clip-path="url(#bclip)">
<rect x="665.8" y="1258.5" width="269.7" height="64.8" rx="2.5" fill="#bac1bb"/>
<clipPath id="hclip"><rect x="665.8" y="1258.5" width="269.7" height="93.3"/></clipPath><circle cx="711.5" cy="1300.5" r="43" fill="#bac1bb" clip-path="url(#hclip)"/>
<rect x="664.3" y="1257" width="1.5" height="94.8" fill="#333"/><rect x="935.5" y="1257" width="1.5" height="94.8" fill="#333"/>
</g>
<circle cx="711.5" cy="1300.5" r="32.3" fill="#fff" stroke="#333" stroke-width="6"/>
<text y="1312" x="711.5" text-anchor="middle" font-family="Liberation Sans, sans-serif" font-weight="bold" font-size="31px" fill="#333" stroke="#333" stroke-width="1.5" textLength="41" lengthAdjust="spacingAndGlyphs">CC</text>
<circle cx="808.3" cy="1290" r="23.7" fill="#fff" stroke="#333" stroke-width="4.8"/>
<circle cx="872.8" cy="1290" r="23.7" fill="#fff" stroke="#333" stroke-width="4.8"/>
<circle cx="808.3" cy="1276.5" r="3.8" fill="#333"/>
<path d="M801.4 1294.2v-9.5a2 2 0 0 1 2-2h9.8a2 2 0 0 1 2 2v9.5h-3.1v12.6h-7.5v-12.6z" fill="#333"/>
<path d="M864.96 1294.9A9.75 9.75 0 1 0 864.5 1286" fill="none" stroke="#333" stroke-width="6"/>
<path d="M859.0 1285.3h11l-6.2 7z" fill="#333"/>
<text y="1346.2" x="806.3" text-anchor="middle" font-family="Liberation Sans, sans-serif" font-weight="bold" font-size="21px" fill="#fff">BY</text>
<text y="1346.2" x="870.4" text-anchor="middle" font-family="Liberation Sans, sans-serif" font-weight="bold" font-size="21px" fill="#fff">SA</text>
</g>
</svg>
</body></html>
